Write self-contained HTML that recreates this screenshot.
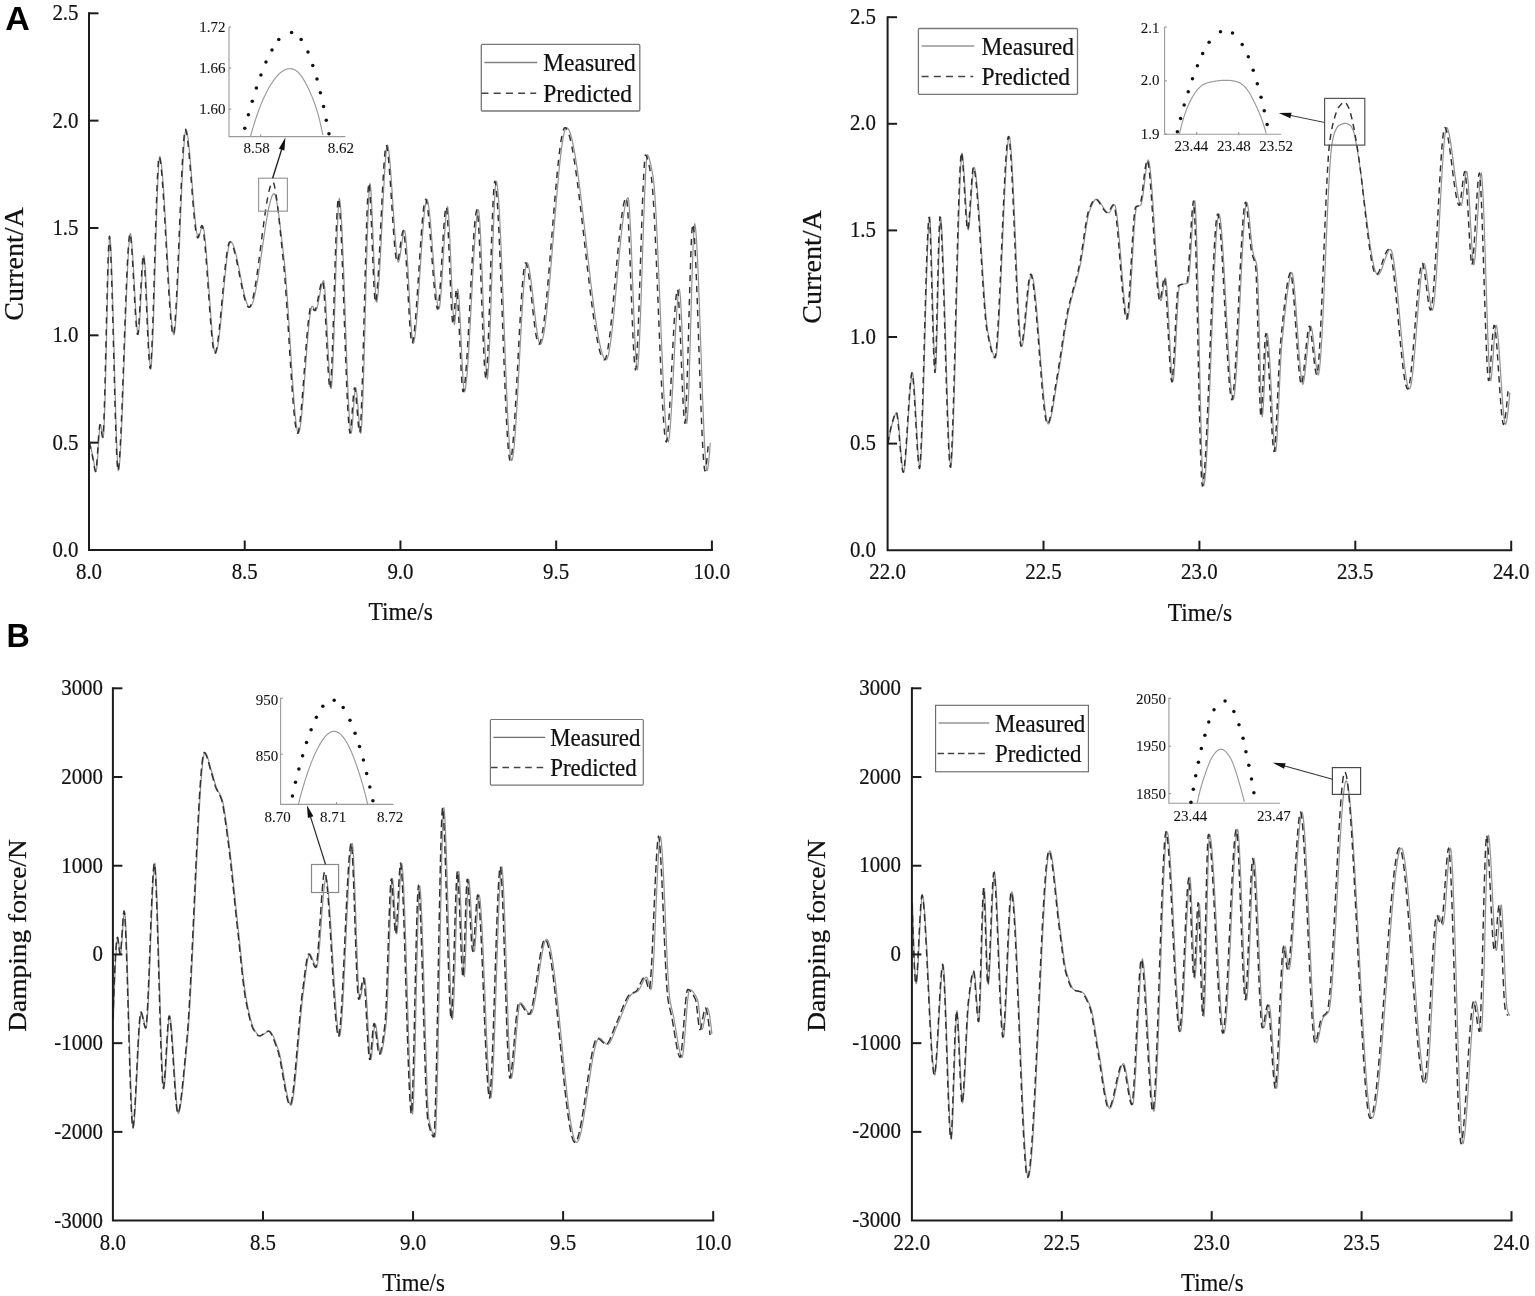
<!DOCTYPE html>
<html lang="en"><head><meta charset="utf-8"><title>Measured vs predicted current and damping force</title>
<style>
html,body{margin:0;padding:0;background:#fff;}
body{width:1535px;height:1296px;overflow:hidden;}
svg{display:block;font-family:"Liberation Serif", "Times New Roman", serif;}
</style></head><body>
<svg width="1535" height="1296" viewBox="0 0 1535 1296">
<rect width="1535" height="1296" fill="#fff"/>
<path d="M89.8,442.6 L90.3,444.8 L90.8,447.0 L91.3,449.3 L91.8,451.6 L92.3,453.8 L92.8,456.2 L93.3,458.7 L93.8,461.6 L94.3,464.7 L94.8,467.6 L95.3,470.0 L95.8,471.6 L96.3,471.5 L96.8,468.0 L97.3,462.4 L97.8,455.2 L98.3,447.4 L98.8,439.6 L99.3,432.7 L99.8,427.5 L100.3,424.7 L100.8,425.4 L101.3,427.8 L101.8,431.0 L102.3,434.2 L102.8,436.7 L103.3,437.5 L103.8,432.1 L104.3,421.7 L104.8,407.0 L105.3,389.2 L105.8,369.1 L106.3,347.6 L106.8,325.7 L107.3,304.2 L107.8,284.1 L108.3,266.4 L108.8,251.9 L109.3,241.5 L109.8,236.3 L110.3,239.5 L110.8,246.8 L111.3,257.2 L111.8,270.4 L112.3,285.8 L112.8,303.0 L113.3,321.5 L113.8,340.8 L114.3,360.4 L114.8,379.9 L115.3,398.7 L115.8,416.3 L116.3,432.4 L116.8,446.3 L117.3,457.6 L117.8,465.9 L118.3,470.6 L118.8,469.8 L119.3,466.2 L119.8,460.8 L120.3,453.5 L120.8,444.8 L121.3,434.6 L121.8,423.4 L122.3,411.1 L122.8,398.0 L123.3,384.4 L123.8,370.3 L124.3,356.0 L124.8,341.6 L125.3,327.4 L125.8,313.5 L126.3,300.1 L126.8,287.4 L127.3,275.5 L127.8,264.8 L128.3,255.3 L128.8,247.3 L129.3,240.8 L129.8,236.2 L130.3,233.6 L130.8,234.4 L131.3,237.8 L131.8,242.9 L132.3,249.4 L132.8,257.0 L133.3,265.6 L133.8,274.7 L134.3,284.1 L134.8,293.4 L135.3,302.6 L135.8,311.1 L136.3,318.8 L136.8,325.3 L137.3,330.4 L137.8,333.8 L138.3,334.6 L138.8,331.5 L139.3,325.9 L139.8,318.3 L140.3,309.4 L140.8,299.7 L141.3,289.8 L141.8,280.1 L142.3,271.3 L142.8,263.9 L143.3,258.4 L143.8,255.5 L144.3,257.1 L144.8,262.0 L145.3,269.1 L145.8,278.1 L146.3,288.5 L146.8,299.8 L147.3,311.6 L147.8,323.5 L148.3,334.9 L148.8,345.4 L149.3,354.5 L149.8,361.9 L150.3,367.0 L150.8,369.1 L151.3,365.6 L151.8,359.0 L152.3,349.7 L152.8,338.0 L153.3,324.5 L153.8,309.4 L154.3,293.3 L154.8,276.4 L155.3,259.2 L155.8,242.1 L156.3,225.4 L156.8,209.7 L157.3,195.2 L157.8,182.4 L158.3,171.7 L158.8,163.4 L159.3,158.0 L159.8,156.4 L160.3,157.6 L160.8,160.0 L161.3,163.5 L161.8,167.9 L162.3,173.2 L162.8,179.3 L163.3,186.1 L163.8,193.5 L164.3,201.4 L164.8,209.8 L165.3,218.5 L165.8,227.4 L166.3,236.6 L166.8,245.8 L167.3,255.0 L167.8,264.2 L168.3,273.1 L168.8,281.8 L169.3,290.2 L169.8,298.1 L170.3,305.4 L170.8,312.2 L171.3,318.2 L171.8,323.5 L172.3,327.9 L172.8,331.3 L173.3,333.6 L173.8,334.9 L174.3,333.9 L174.8,330.9 L175.3,326.2 L175.8,320.1 L176.3,312.5 L176.8,303.8 L177.3,294.1 L177.8,283.5 L178.3,272.2 L178.8,260.4 L179.3,248.3 L179.8,235.9 L180.3,223.4 L180.8,211.1 L181.3,199.0 L181.8,187.4 L182.3,176.4 L182.8,166.1 L183.3,156.8 L183.8,148.5 L184.3,141.5 L184.8,135.9 L185.3,131.8 L185.8,129.4 L186.3,129.6 L186.8,131.0 L187.3,133.4 L187.8,136.5 L188.3,140.3 L188.8,144.7 L189.3,149.6 L189.8,155.0 L190.3,160.7 L190.8,166.8 L191.3,173.0 L191.8,179.4 L192.3,185.9 L192.8,192.3 L193.3,198.6 L193.8,204.7 L194.3,210.5 L194.8,216.0 L195.3,221.1 L195.8,225.6 L196.3,229.6 L196.8,232.9 L197.3,235.4 L197.8,237.1 L198.3,237.9 L198.8,237.3 L199.3,236.0 L199.8,234.2 L200.3,232.2 L200.8,230.2 L201.3,228.3 L201.8,226.8 L202.3,225.8 L202.8,225.9 L203.3,227.2 L203.8,229.5 L204.3,232.7 L204.8,236.7 L205.3,241.4 L205.8,246.6 L206.3,252.4 L206.8,258.7 L207.3,265.3 L207.8,272.3 L208.3,279.4 L208.8,286.6 L209.3,293.9 L209.8,301.1 L210.3,308.2 L210.8,315.0 L211.3,321.6 L211.8,327.8 L212.3,333.5 L212.8,338.7 L213.3,343.2 L213.8,347.0 L214.3,350.1 L214.8,352.2 L215.3,353.4 L215.8,353.3 L216.3,352.4 L216.8,350.9 L217.3,348.7 L217.8,346.1 L218.3,342.9 L218.8,339.3 L219.3,335.3 L219.8,331.0 L220.3,326.3 L220.8,321.4 L221.3,316.3 L221.8,311.0 L222.3,305.6 L222.8,300.2 L223.3,294.7 L223.8,289.3 L224.3,283.9 L224.8,278.6 L225.3,273.5 L225.8,268.6 L226.3,264.0 L226.8,259.7 L227.3,255.7 L227.8,252.2 L228.3,249.1 L228.8,246.4 L229.3,244.4 L229.8,242.9 L230.3,242.0 L230.8,241.9 L231.3,242.1 L231.8,242.6 L232.3,243.3 L232.8,244.2 L233.3,245.3 L233.8,246.7 L234.3,248.2 L234.8,249.8 L235.3,251.7 L235.8,253.6 L236.3,255.7 L236.8,257.9 L237.3,260.2 L237.8,262.5 L238.3,265.0 L238.8,267.5 L239.3,270.0 L239.8,272.5 L240.3,275.1 L240.8,277.6 L241.3,280.2 L241.8,282.7 L242.3,285.2 L242.8,287.6 L243.3,289.9 L243.8,292.1 L244.3,294.3 L244.8,296.3 L245.3,298.2 L245.8,300.0 L246.3,301.6 L246.8,303.0 L247.3,304.3 L247.8,305.3 L248.3,306.2 L248.8,306.8 L249.3,307.2 L249.8,307.3 L250.3,307.2 L250.8,306.7 L251.3,306.0 L251.8,305.1 L252.3,303.9 L252.8,302.5 L253.3,300.9 L253.8,299.1 L254.3,297.1 L254.8,294.9 L255.3,292.5 L255.8,290.0 L256.3,287.3 L256.8,284.5 L257.3,281.6 L257.8,278.6 L258.3,275.4 L258.8,272.2 L259.3,268.9 L259.8,265.6 L260.3,262.1 L260.8,258.7 L261.3,255.2 L261.8,251.7 L262.3,248.2 L262.8,244.7 L263.3,241.3 L263.8,237.8 L264.3,234.4 L264.8,231.1 L265.3,227.8 L265.8,224.6 L266.3,221.5 L266.8,218.5 L267.3,215.6 L267.8,212.9 L268.3,210.2 L268.8,207.7 L269.3,205.4 L269.8,203.3 L270.3,201.3 L270.8,199.5 L271.3,198.0 L271.8,196.6 L272.3,195.5 L272.8,194.6 L273.3,194.0 L273.8,193.7 L274.3,193.7 L274.8,194.5 L275.3,195.8 L275.8,197.5 L276.3,199.6 L276.8,202.0 L277.3,204.8 L277.8,207.9 L278.3,211.3 L278.8,214.9 L279.3,218.7 L279.8,222.7 L280.3,226.8 L280.8,231.1 L281.3,235.4 L281.8,239.8 L282.3,244.2 L282.8,248.6 L283.3,252.9 L283.8,257.1 L284.3,261.4 L284.8,266.2 L285.3,271.6 L285.8,277.5 L286.3,283.9 L286.8,290.7 L287.3,297.9 L287.8,305.3 L288.3,313.1 L288.8,321.0 L289.3,329.0 L289.8,337.1 L290.3,345.2 L290.8,353.3 L291.3,361.4 L291.8,369.2 L292.3,376.9 L292.8,384.3 L293.3,391.5 L293.8,398.2 L294.3,404.5 L294.8,410.4 L295.3,415.7 L295.8,420.4 L296.3,424.5 L296.8,427.9 L297.3,430.6 L297.8,432.4 L298.3,433.4 L298.8,433.1 L299.3,431.7 L299.8,429.5 L300.3,426.5 L300.8,422.9 L301.3,418.6 L301.8,413.7 L302.3,408.4 L302.8,402.6 L303.3,396.5 L303.8,390.1 L304.3,383.5 L304.8,376.7 L305.3,369.9 L305.8,363.1 L306.3,356.4 L306.8,349.7 L307.3,343.3 L307.8,337.2 L308.3,331.4 L308.8,326.1 L309.3,321.2 L309.8,316.9 L310.3,313.2 L310.8,310.2 L311.3,307.9 L311.8,306.5 L312.3,306.1 L312.8,306.5 L313.3,307.3 L313.8,308.2 L314.3,309.2 L314.8,310.0 L315.3,310.6 L315.8,310.6 L316.3,309.8 L316.8,308.6 L317.3,306.9 L317.8,304.8 L318.3,302.5 L318.8,300.0 L319.3,297.3 L319.8,294.6 L320.3,291.9 L320.8,289.3 L321.3,286.9 L321.8,284.8 L322.3,283.0 L322.8,281.6 L323.3,280.7 L323.8,280.9 L324.3,283.8 L324.8,288.9 L325.3,295.8 L325.8,304.0 L326.3,313.3 L326.8,323.4 L327.3,333.8 L327.8,344.2 L328.3,354.4 L328.8,363.9 L329.3,372.4 L329.8,379.5 L330.3,384.9 L330.8,388.4 L331.3,388.2 L331.8,383.4 L332.3,375.7 L332.8,365.4 L333.3,353.0 L333.8,338.9 L334.3,323.6 L334.8,307.5 L335.3,291.0 L335.8,274.6 L336.3,258.7 L336.8,243.8 L337.3,230.2 L337.8,218.4 L338.3,208.9 L338.8,202.1 L339.3,198.4 L339.8,199.9 L340.3,203.8 L340.8,209.7 L341.3,217.3 L341.8,226.5 L342.3,237.1 L342.8,248.8 L343.3,261.4 L343.8,274.8 L344.3,288.8 L344.8,303.2 L345.3,317.7 L345.8,332.2 L346.3,346.5 L346.8,360.3 L347.3,373.5 L347.8,386.0 L348.3,397.4 L348.8,407.6 L349.3,416.4 L349.8,423.6 L350.3,429.0 L350.8,432.5 L351.3,433.0 L351.8,430.1 L352.3,425.1 L352.8,418.8 L353.3,411.8 L353.8,404.6 L354.3,398.0 L354.8,392.5 L355.3,388.7 L355.8,387.6 L356.3,389.7 L356.8,393.6 L357.3,398.7 L357.8,404.6 L358.3,411.0 L358.8,417.3 L359.3,423.2 L359.8,428.1 L360.3,431.7 L360.8,433.4 L361.3,430.2 L361.8,423.3 L362.3,413.3 L362.8,400.6 L363.3,385.8 L363.8,369.1 L364.3,351.1 L364.8,332.1 L365.3,312.6 L365.8,293.0 L366.3,273.7 L366.8,255.2 L367.3,237.8 L367.8,222.1 L368.3,208.4 L368.8,197.1 L369.3,188.8 L369.8,183.7 L370.3,184.1 L370.8,189.0 L371.3,196.6 L371.8,206.3 L372.3,217.7 L372.8,230.2 L373.3,243.2 L373.8,256.1 L374.3,268.6 L374.8,279.8 L375.3,289.5 L375.8,296.9 L376.3,301.6 L376.8,302.2 L377.3,299.7 L377.8,295.7 L378.3,290.3 L378.8,283.7 L379.3,276.1 L379.8,267.6 L380.3,258.3 L380.8,248.5 L381.3,238.3 L381.8,227.9 L382.3,217.4 L382.8,207.1 L383.3,196.9 L383.8,187.3 L384.3,178.1 L384.8,169.8 L385.3,162.4 L385.8,156.0 L386.3,150.9 L386.8,147.2 L387.3,145.0 L387.8,145.6 L388.3,147.8 L388.8,151.1 L389.3,155.4 L389.8,160.5 L390.3,166.4 L390.8,172.9 L391.3,179.8 L391.8,187.2 L392.3,194.8 L392.8,202.6 L393.3,210.3 L393.8,218.0 L394.3,225.4 L394.8,232.5 L395.3,239.1 L395.8,245.1 L396.3,250.4 L396.8,254.9 L397.3,258.5 L397.8,260.9 L398.3,262.2 L398.8,261.4 L399.3,259.7 L399.8,257.2 L400.3,254.3 L400.8,250.9 L401.3,247.4 L401.8,243.8 L402.3,240.3 L402.8,237.1 L403.3,234.3 L403.8,232.2 L404.3,230.8 L404.8,230.9 L405.3,233.5 L405.8,237.8 L406.3,243.5 L406.8,250.3 L407.3,258.2 L407.8,266.8 L408.3,275.9 L408.8,285.3 L409.3,294.8 L409.8,304.0 L410.3,312.8 L410.8,321.0 L411.3,328.2 L411.8,334.4 L412.3,339.2 L412.8,342.3 L413.3,343.5 L413.8,342.4 L414.3,340.3 L414.8,337.4 L415.3,333.6 L415.8,329.0 L416.3,323.8 L416.8,318.0 L417.3,311.7 L417.8,304.9 L418.3,297.8 L418.8,290.4 L419.3,282.9 L419.8,275.2 L420.3,267.4 L420.8,259.7 L421.3,252.1 L421.8,244.7 L422.3,237.6 L422.8,230.9 L423.3,224.5 L423.8,218.7 L424.3,213.5 L424.8,209.0 L425.3,205.2 L425.8,202.2 L426.3,200.2 L426.8,199.1 L427.3,199.6 L427.8,201.3 L428.3,203.9 L428.8,207.2 L429.3,211.3 L429.8,216.0 L430.3,221.2 L430.8,226.9 L431.3,232.9 L431.8,239.3 L432.3,245.8 L432.8,252.4 L433.3,259.1 L433.8,265.7 L434.3,272.2 L434.8,278.4 L435.3,284.2 L435.8,289.7 L436.3,294.7 L436.8,299.1 L437.3,302.8 L437.8,305.8 L438.3,307.9 L438.8,309.1 L439.3,308.3 L439.8,305.4 L440.3,301.1 L440.8,295.6 L441.3,289.0 L441.8,281.6 L442.3,273.6 L442.8,265.2 L443.3,256.6 L443.8,248.0 L444.3,239.7 L444.8,231.8 L445.3,224.6 L445.8,218.3 L446.3,213.0 L446.8,209.1 L447.3,206.7 L447.8,207.3 L448.3,211.6 L448.8,218.4 L449.3,227.3 L449.8,237.8 L450.3,249.4 L450.8,261.6 L451.3,274.0 L451.8,286.1 L452.3,297.3 L452.8,307.3 L453.3,315.5 L453.8,321.5 L454.3,324.7 L454.8,323.2 L455.3,318.4 L455.8,311.6 L456.3,304.1 L456.8,297.1 L457.3,291.7 L457.8,289.0 L458.3,291.2 L458.8,296.2 L459.3,303.4 L459.8,312.3 L460.3,322.4 L460.8,333.4 L461.3,344.6 L461.8,355.6 L462.3,366.0 L462.8,375.3 L463.3,383.0 L463.8,388.7 L464.3,391.8 L464.8,391.4 L465.3,389.5 L465.8,386.4 L466.3,382.3 L466.8,377.2 L467.3,371.2 L467.8,364.4 L468.3,357.0 L468.8,348.9 L469.3,340.4 L469.8,331.5 L470.3,322.2 L470.8,312.8 L471.3,303.2 L471.8,293.6 L472.3,284.1 L472.8,274.7 L473.3,265.6 L473.8,256.9 L474.3,248.6 L474.8,240.8 L475.3,233.7 L475.8,227.3 L476.3,221.8 L476.8,217.1 L477.3,213.5 L477.8,211.0 L478.3,209.7 L478.8,211.2 L479.3,215.7 L479.8,222.4 L480.3,231.0 L480.8,241.3 L481.3,252.9 L481.8,265.5 L482.3,278.8 L482.8,292.5 L483.3,306.2 L483.8,319.6 L484.3,332.4 L484.8,344.3 L485.3,355.0 L485.8,364.2 L486.3,371.5 L486.8,376.6 L487.3,379.2 L487.8,376.3 L488.3,370.4 L488.8,361.9 L489.3,351.3 L489.8,338.8 L490.3,324.9 L490.8,310.0 L491.3,294.3 L491.8,278.3 L492.3,262.4 L492.8,246.8 L493.3,232.1 L493.8,218.5 L494.3,206.4 L494.8,196.3 L495.3,188.3 L495.8,183.1 L496.3,181.1 L496.8,182.5 L497.3,185.5 L497.8,190.0 L498.3,195.8 L498.8,202.9 L499.3,211.1 L499.8,220.3 L500.3,230.5 L500.8,241.5 L501.3,253.1 L501.8,265.4 L502.3,278.1 L502.8,291.2 L503.3,304.5 L503.8,317.9 L504.3,331.4 L504.8,344.8 L505.3,358.0 L505.8,370.9 L506.3,383.4 L506.8,395.3 L507.3,406.6 L507.8,417.1 L508.3,426.7 L508.8,435.4 L509.3,443.0 L509.8,449.4 L510.3,454.4 L510.8,458.0 L511.3,460.1 L511.8,460.5 L512.3,459.4 L512.8,457.2 L513.3,454.0 L513.8,449.7 L514.3,444.7 L514.8,438.8 L515.3,432.2 L515.8,424.9 L516.3,417.1 L516.8,408.8 L517.3,400.1 L517.8,391.1 L518.3,381.8 L518.8,372.4 L519.3,362.8 L519.8,353.3 L520.3,343.8 L520.8,334.5 L521.3,325.4 L521.8,316.6 L522.3,308.2 L522.8,300.2 L523.3,292.9 L523.8,286.1 L524.3,280.0 L524.8,274.7 L525.3,270.3 L525.8,266.8 L526.3,264.3 L526.8,262.9 L527.3,262.8 L527.8,263.6 L528.3,265.0 L528.8,266.9 L529.3,269.3 L529.8,272.2 L530.3,275.4 L530.8,279.0 L531.3,282.8 L531.8,286.9 L532.3,291.2 L532.8,295.7 L533.3,300.2 L533.8,304.7 L534.3,309.2 L534.8,313.7 L535.3,318.1 L535.8,322.3 L536.3,326.3 L536.8,330.0 L537.3,333.4 L537.8,336.4 L538.3,339.1 L538.8,341.2 L539.3,342.9 L539.8,344.0 L540.3,344.4 L540.8,344.1 L541.3,343.4 L541.8,342.3 L542.3,340.7 L542.8,338.7 L543.3,336.4 L543.8,333.7 L544.3,330.6 L544.8,327.3 L545.3,323.6 L545.8,319.6 L546.3,315.4 L546.8,310.9 L547.3,306.2 L547.8,301.2 L548.3,296.1 L548.8,290.7 L549.3,285.2 L549.8,279.6 L550.3,273.8 L550.8,268.0 L551.3,262.0 L551.8,255.9 L552.3,249.8 L552.8,243.7 L553.3,237.5 L553.8,231.3 L554.3,225.2 L554.8,219.1 L555.3,213.0 L555.8,207.0 L556.3,201.0 L556.8,195.2 L557.3,189.5 L557.8,183.9 L558.3,178.5 L558.8,173.3 L559.3,168.3 L559.8,163.4 L560.3,158.8 L560.8,154.5 L561.3,150.4 L561.8,146.5 L562.3,143.0 L562.8,139.8 L563.3,136.9 L563.8,134.4 L564.3,132.3 L564.8,130.5 L565.3,129.2 L565.8,128.2 L566.3,127.7 L566.8,127.7 L567.3,127.9 L567.8,128.3 L568.3,128.9 L568.8,129.8 L569.3,130.8 L569.8,132.0 L570.3,133.4 L570.8,135.0 L571.3,136.8 L571.8,138.7 L572.3,140.8 L572.8,143.1 L573.3,145.5 L573.8,148.1 L574.3,150.8 L574.8,153.6 L575.3,156.6 L575.8,159.7 L576.3,162.9 L576.8,166.2 L577.3,169.6 L577.8,173.2 L578.3,176.8 L578.8,180.5 L579.3,184.3 L579.8,188.2 L580.3,192.2 L580.8,196.2 L581.3,200.3 L581.8,204.5 L582.3,208.7 L582.8,212.9 L583.3,217.2 L583.8,221.5 L584.3,225.9 L584.8,230.2 L585.3,234.6 L585.8,239.0 L586.3,243.4 L586.8,247.9 L587.3,252.3 L587.8,256.7 L588.3,261.0 L588.8,265.4 L589.3,269.7 L589.8,274.0 L590.3,278.2 L590.8,282.5 L591.3,286.6 L591.8,290.7 L592.3,294.8 L592.8,298.7 L593.3,302.6 L593.8,306.4 L594.3,310.2 L594.8,313.8 L595.3,317.4 L595.8,320.8 L596.3,324.2 L596.8,327.4 L597.3,330.5 L597.8,333.5 L598.3,336.3 L598.8,339.1 L599.3,341.6 L599.8,344.1 L600.3,346.4 L600.8,348.5 L601.3,350.4 L601.8,352.2 L602.3,353.9 L602.8,355.3 L603.3,356.5 L603.8,357.6 L604.3,358.5 L604.8,359.1 L605.3,359.6 L605.8,359.8 L606.3,359.8 L606.8,359.3 L607.3,358.4 L607.8,357.0 L608.3,355.2 L608.8,353.0 L609.3,350.5 L609.8,347.5 L610.3,344.3 L610.8,340.7 L611.3,336.8 L611.8,332.7 L612.3,328.4 L612.8,323.8 L613.3,319.0 L613.8,314.1 L614.3,309.0 L614.8,303.7 L615.3,298.4 L615.8,293.0 L616.3,287.5 L616.8,282.0 L617.3,276.5 L617.8,271.0 L618.3,265.5 L618.8,260.1 L619.3,254.7 L619.8,249.5 L620.3,244.4 L620.8,239.4 L621.3,234.6 L621.8,230.0 L622.3,225.6 L622.8,221.4 L623.3,217.5 L623.8,213.8 L624.3,210.5 L624.8,207.5 L625.3,204.9 L625.8,202.6 L626.3,200.7 L626.8,199.3 L627.3,198.3 L627.8,197.7 L628.3,198.2 L628.8,201.6 L629.3,207.3 L629.8,215.0 L630.3,224.4 L630.8,235.2 L631.3,247.1 L631.8,259.9 L632.3,273.1 L632.8,286.6 L633.3,300.0 L633.8,313.1 L634.3,325.5 L634.8,337.0 L635.3,347.3 L635.8,356.0 L636.3,362.9 L636.8,367.8 L637.3,370.0 L637.8,367.2 L638.3,361.8 L638.8,354.2 L639.3,344.6 L639.8,333.4 L640.3,320.8 L640.8,307.1 L641.3,292.5 L641.8,277.4 L642.3,262.0 L642.8,246.6 L643.3,231.6 L643.8,217.0 L644.3,203.4 L644.8,190.8 L645.3,179.7 L645.8,170.2 L646.3,162.7 L646.8,157.5 L647.3,154.8 L647.8,155.2 L648.3,156.1 L648.8,157.3 L649.3,158.8 L649.8,160.6 L650.3,162.6 L650.8,164.8 L651.3,167.2 L651.8,169.8 L652.3,172.4 L652.8,175.1 L653.3,178.1 L653.8,182.4 L654.3,187.9 L654.8,194.5 L655.3,202.1 L655.8,210.5 L656.3,219.8 L656.8,229.8 L657.3,240.5 L657.8,251.6 L658.3,263.2 L658.8,275.2 L659.3,287.3 L659.8,299.7 L660.3,312.1 L660.8,324.4 L661.3,336.7 L661.8,348.7 L662.3,360.4 L662.8,371.7 L663.3,382.4 L663.8,392.6 L664.3,402.1 L664.8,410.8 L665.3,418.7 L665.8,425.6 L666.3,431.4 L666.8,436.0 L667.3,439.4 L667.8,441.4 L668.3,441.8 L668.8,439.9 L669.3,436.6 L669.8,431.9 L670.3,426.0 L670.8,419.2 L671.3,411.4 L671.8,403.0 L672.3,394.0 L672.8,384.5 L673.3,374.8 L673.8,364.9 L674.3,355.0 L674.8,345.3 L675.3,335.9 L675.8,326.9 L676.3,318.5 L676.8,310.9 L677.3,304.2 L677.8,298.5 L678.3,293.9 L678.8,290.7 L679.3,289.0 L679.8,291.2 L680.3,296.4 L680.8,304.0 L681.3,313.4 L681.8,324.4 L682.3,336.5 L682.8,349.2 L683.3,362.2 L683.8,374.9 L684.3,387.1 L684.8,398.2 L685.3,407.8 L685.8,415.5 L686.3,420.9 L686.8,423.5 L687.3,419.7 L687.8,412.3 L688.3,401.8 L688.8,388.7 L689.3,373.5 L689.8,356.8 L690.3,339.1 L690.8,320.9 L691.3,302.8 L691.8,285.3 L692.3,269.0 L692.8,254.3 L693.3,241.8 L693.8,232.1 L694.3,225.6 L694.8,223.6 L695.3,226.1 L695.8,230.6 L696.3,237.0 L696.8,245.0 L697.3,254.4 L697.8,265.2 L698.3,277.0 L698.8,289.8 L699.3,303.3 L699.8,317.4 L700.3,331.8 L700.8,346.5 L701.3,361.1 L701.8,375.6 L702.3,389.7 L702.8,403.3 L703.3,416.1 L703.8,428.1 L704.3,439.0 L704.8,448.6 L705.3,456.7 L705.8,463.3 L706.3,468.0 L706.8,470.7 L707.3,470.5 L707.8,468.4 L708.3,465.1 L708.8,460.8 L709.3,455.5 L709.8,449.5 L710.3,442.7" fill="none" stroke="#929292" stroke-width="1.2" stroke-linejoin="round"/>
<path d="M89.4,442.6 L89.9,444.8 L90.4,447.0 L90.9,449.3 L91.4,451.6 L91.9,453.9 L92.4,456.2 L92.9,458.7 L93.4,461.7 L93.9,464.8 L94.4,467.7 L94.9,470.1 L95.4,471.6 L95.9,471.4 L96.4,467.9 L96.9,462.1 L97.4,454.9 L97.9,447.0 L98.4,439.3 L98.9,432.4 L99.4,427.3 L99.9,424.7 L100.4,425.5 L100.9,428.0 L101.4,431.2 L101.9,434.4 L102.4,436.8 L102.9,437.3 L103.4,431.5 L103.9,420.7 L104.4,405.8 L104.9,387.7 L105.4,367.4 L105.9,345.8 L106.4,323.8 L106.9,302.3 L107.4,282.4 L107.9,264.9 L108.4,250.7 L108.9,240.8 L109.4,236.2 L109.9,240.1 L110.4,247.7 L110.9,258.5 L111.4,272.0 L111.9,287.7 L112.4,305.2 L112.9,323.8 L113.4,343.2 L113.9,362.9 L114.4,382.3 L114.9,401.1 L115.4,418.6 L115.9,434.4 L116.4,448.0 L116.9,459.0 L117.4,466.8 L117.9,471.0 L118.4,469.4 L118.9,465.5 L119.4,459.7 L119.9,452.2 L120.4,443.2 L120.9,432.9 L121.4,421.4 L121.9,409.0 L122.4,395.8 L122.9,382.0 L123.4,367.8 L123.9,353.4 L124.4,339.0 L124.9,324.8 L125.4,311.0 L125.9,297.6 L126.4,285.1 L126.9,273.4 L127.4,262.9 L127.9,253.6 L128.4,245.9 L128.9,239.8 L129.4,235.5 L129.9,233.4 L130.4,235.0 L130.9,238.7 L131.4,244.1 L131.9,250.9 L132.4,258.8 L132.9,267.5 L133.4,276.8 L133.9,286.2 L134.4,295.6 L134.9,304.6 L135.4,313.0 L135.9,320.5 L136.4,326.7 L136.9,331.4 L137.4,334.3 L137.9,334.1 L138.4,330.3 L138.9,324.1 L139.4,316.2 L139.9,307.0 L140.4,297.1 L140.9,287.1 L141.4,277.6 L141.9,269.1 L142.4,262.2 L142.9,257.3 L143.4,255.4 L143.9,258.2 L144.4,263.8 L144.9,271.5 L145.4,280.9 L145.9,291.7 L146.4,303.2 L146.9,315.1 L147.4,326.9 L147.9,338.1 L148.4,348.3 L148.9,357.0 L149.4,363.7 L149.9,368.0 L150.4,368.4 L150.9,363.8 L151.4,356.3 L151.9,346.2 L152.4,333.8 L152.9,319.7 L153.4,304.2 L153.9,287.7 L154.4,270.7 L154.9,253.4 L155.4,236.4 L155.9,219.9 L156.4,204.5 L156.9,190.6 L157.4,178.4 L157.9,168.5 L158.4,161.1 L158.9,156.9 L159.4,156.7 L159.9,158.4 L160.4,161.2 L160.9,165.0 L161.4,169.8 L161.9,175.4 L162.4,181.8 L162.9,188.8 L163.4,196.5 L163.9,204.6 L164.4,213.1 L164.9,221.9 L165.4,231.0 L165.9,240.2 L166.4,249.5 L166.9,258.7 L167.4,267.8 L167.9,276.7 L168.4,285.2 L168.9,293.4 L169.4,301.1 L169.9,308.3 L170.4,314.8 L170.9,320.5 L171.4,325.4 L171.9,329.4 L172.4,332.4 L172.9,334.3 L173.4,334.9 L173.9,332.8 L174.4,329.1 L174.9,323.7 L175.4,316.9 L175.9,308.8 L176.4,299.6 L176.9,289.4 L177.4,278.5 L177.9,266.9 L178.4,254.9 L178.9,242.6 L179.4,230.1 L179.9,217.7 L180.4,205.4 L180.9,193.5 L181.4,182.1 L181.9,171.4 L182.4,161.6 L182.9,152.7 L183.4,145.0 L183.9,138.6 L184.4,133.7 L184.9,130.4 L185.4,129.2 L185.9,130.2 L186.4,132.1 L186.9,134.8 L187.4,138.3 L187.9,142.4 L188.4,147.1 L188.9,152.3 L189.4,157.9 L189.9,163.8 L190.4,170.0 L190.9,176.4 L191.4,182.8 L191.9,189.2 L192.4,195.6 L192.9,201.8 L193.4,207.8 L193.9,213.5 L194.4,218.8 L194.9,223.6 L195.4,227.9 L195.9,231.5 L196.4,234.4 L196.9,236.5 L197.4,237.7 L197.9,237.7 L198.4,236.6 L198.9,235.0 L199.4,233.1 L199.9,231.1 L200.4,229.1 L200.9,227.4 L201.4,226.1 L201.9,225.6 L202.4,226.5 L202.9,228.5 L203.4,231.3 L203.9,235.0 L204.4,239.4 L204.9,244.4 L205.4,250.0 L205.9,256.2 L206.4,262.7 L206.9,269.5 L207.4,276.6 L207.9,283.8 L208.4,291.0 L208.9,298.3 L209.4,305.5 L209.9,312.4 L210.4,319.2 L210.9,325.5 L211.4,331.4 L211.9,336.8 L212.4,341.6 L212.9,345.7 L213.4,349.1 L213.9,351.5 L214.4,353.1 L214.9,353.5 L215.4,352.8 L215.9,351.5 L216.4,349.5 L216.9,347.0 L217.4,344.0 L217.9,340.6 L218.4,336.7 L218.9,332.5 L219.4,327.9 L219.9,323.1 L220.4,318.0 L220.9,312.8 L221.4,307.4 L221.9,301.9 L222.4,296.4 L222.9,291.0 L223.4,285.5 L223.9,280.2 L224.4,275.1 L224.9,270.1 L225.4,265.4 L225.9,261.0 L226.4,256.9 L226.9,253.2 L227.4,249.9 L227.9,247.2 L228.4,244.9 L228.9,243.2 L229.4,242.2 L229.9,241.8 L230.4,242.0 L230.9,242.4 L231.4,243.1 L231.9,243.9 L232.4,245.0 L232.9,246.3 L233.4,247.8 L233.9,249.4 L234.4,251.2 L234.9,253.1 L235.4,255.2 L235.9,257.3 L236.4,259.6 L236.9,262.0 L237.4,264.4 L237.9,266.9 L238.4,269.4 L238.9,271.9 L239.4,274.5 L239.9,277.1 L240.4,279.6 L240.9,282.1 L241.4,284.6 L241.9,287.0 L242.4,289.4 L242.9,291.7 L243.4,293.9 L243.9,295.9 L244.4,297.8 L244.9,299.6 L245.4,301.3 L245.9,302.8 L246.4,304.1 L246.9,305.2 L247.4,306.0 L247.9,306.7 L248.4,307.1 L248.9,307.3 L249.4,307.2 L249.9,306.8 L250.4,306.0 L250.9,305.0 L251.4,303.7 L251.9,302.2 L252.4,300.4 L252.9,298.3 L253.4,296.1 L253.9,293.6 L254.4,291.0 L254.9,288.1 L255.4,285.1 L255.9,282.0 L256.4,278.7 L256.9,275.3 L257.4,271.8 L257.9,268.1 L258.4,264.4 L258.9,260.7 L259.4,256.8 L259.9,252.9 L260.4,249.0 L260.9,245.1 L261.4,241.2 L261.9,237.3 L262.4,233.4 L262.9,229.6 L263.4,225.8 L263.9,222.1 L264.4,218.4 L264.9,214.9 L265.4,211.4 L265.9,208.1 L266.4,204.9 L266.9,201.9 L267.4,199.0 L267.9,196.3 L268.4,193.8 L268.9,191.4 L269.4,189.4 L269.9,187.5 L270.4,185.9 L270.9,184.5 L271.4,183.4 L271.9,182.6 L272.4,182.1 L272.9,181.9 L273.4,182.6 L273.9,183.8 L274.4,185.6 L274.9,187.8 L275.4,190.4 L275.9,193.5 L276.4,196.9 L276.9,200.6 L277.4,204.6 L277.9,208.8 L278.4,213.3 L278.9,217.9 L279.4,222.7 L279.9,227.6 L280.4,232.5 L280.9,237.5 L281.4,242.4 L281.9,247.3 L282.4,252.1 L282.9,256.8 L283.4,261.5 L283.9,266.6 L284.4,272.3 L284.9,278.5 L285.4,285.1 L285.9,292.1 L286.4,299.4 L286.9,306.9 L287.4,314.7 L287.9,322.6 L288.4,330.7 L288.9,338.8 L289.4,346.9 L289.9,355.0 L290.4,362.9 L290.9,370.7 L291.4,378.3 L291.9,385.6 L292.4,392.6 L292.9,399.2 L293.4,405.4 L293.9,411.1 L294.4,416.3 L294.9,421.0 L295.4,424.9 L295.9,428.2 L296.4,430.8 L296.9,432.5 L297.4,433.4 L297.9,433.0 L298.4,431.6 L298.9,429.3 L299.4,426.3 L299.9,422.5 L300.4,418.2 L300.9,413.3 L301.4,407.9 L301.9,402.0 L302.4,395.9 L302.9,389.5 L303.4,382.8 L303.9,376.0 L304.4,369.2 L304.9,362.4 L305.4,355.6 L305.9,349.0 L306.4,342.6 L306.9,336.5 L307.4,330.8 L307.9,325.5 L308.4,320.6 L308.9,316.4 L309.4,312.8 L309.9,309.8 L310.4,307.7 L310.9,306.4 L311.4,306.1 L311.9,306.6 L312.4,307.4 L312.9,308.4 L313.4,309.3 L313.9,310.1 L314.4,310.6 L314.9,310.5 L315.4,309.7 L315.9,308.3 L316.4,306.6 L316.9,304.5 L317.4,302.1 L317.9,299.5 L318.4,296.8 L318.9,294.1 L319.4,291.4 L319.9,288.9 L320.4,286.5 L320.9,284.4 L321.4,282.7 L321.9,281.4 L322.4,280.6 L322.9,281.3 L323.4,284.7 L323.9,290.2 L324.4,297.4 L324.9,305.9 L325.4,315.4 L325.9,325.6 L326.4,336.1 L326.9,346.5 L327.4,356.6 L327.9,365.9 L328.4,374.1 L328.9,380.9 L329.4,385.9 L329.9,388.8 L330.4,387.3 L330.9,381.8 L331.4,373.4 L331.9,362.5 L332.4,349.6 L332.9,335.2 L333.4,319.6 L333.9,303.3 L334.4,286.8 L334.9,270.4 L335.4,254.7 L335.9,240.0 L336.4,226.8 L336.9,215.6 L337.4,206.8 L337.9,200.8 L338.4,198.3 L338.9,200.8 L339.4,205.3 L339.9,211.7 L340.4,219.9 L340.9,229.5 L341.4,240.4 L341.9,252.4 L342.4,265.4 L342.9,279.0 L343.4,293.2 L343.9,307.6 L344.4,322.2 L344.9,336.7 L345.4,350.9 L345.9,364.6 L346.4,377.6 L346.9,389.8 L347.4,400.8 L347.9,410.6 L348.4,419.0 L348.9,425.6 L349.4,430.4 L349.9,433.1 L350.4,432.3 L350.9,428.6 L351.4,423.1 L351.9,416.4 L352.4,409.3 L352.9,402.2 L353.4,395.9 L353.9,390.9 L354.4,387.9 L354.9,388.2 L355.4,391.0 L355.9,395.3 L356.4,400.8 L356.9,407.0 L357.4,413.4 L357.9,419.6 L358.4,425.2 L358.9,429.6 L359.4,432.6 L359.9,432.7 L360.4,427.9 L360.9,419.7 L361.4,408.6 L361.9,394.9 L362.4,379.3 L362.9,361.9 L363.4,343.4 L363.9,324.1 L364.4,304.5 L364.9,284.9 L365.4,265.8 L365.9,247.7 L366.4,230.9 L366.9,216.0 L367.4,203.2 L367.9,193.1 L368.4,186.2 L368.9,182.8 L369.4,185.9 L369.9,192.0 L370.4,200.7 L370.9,211.2 L371.4,223.2 L371.9,236.0 L372.4,249.1 L372.9,261.9 L373.4,273.9 L373.9,284.5 L374.4,293.2 L374.9,299.4 L375.4,302.6 L375.9,301.2 L376.4,298.0 L376.9,293.3 L377.4,287.3 L377.9,280.2 L378.4,272.0 L378.9,263.1 L379.4,253.6 L379.9,243.5 L380.4,233.2 L380.9,222.7 L381.4,212.2 L381.9,201.9 L382.4,192.0 L382.9,182.6 L383.4,173.8 L383.9,165.9 L384.4,158.9 L384.9,153.2 L385.4,148.8 L385.9,145.9 L386.4,145.0 L386.9,146.6 L387.4,149.4 L387.9,153.3 L388.4,158.0 L388.9,163.6 L389.4,169.8 L389.9,176.6 L390.4,183.8 L390.9,191.3 L391.4,199.1 L391.9,206.9 L392.4,214.6 L392.9,222.2 L393.4,229.4 L393.9,236.3 L394.4,242.6 L394.9,248.2 L395.4,253.1 L395.9,257.1 L396.4,260.0 L396.9,261.8 L397.4,261.8 L397.9,260.5 L398.4,258.3 L398.9,255.6 L399.4,252.3 L399.9,248.8 L400.4,245.2 L400.9,241.6 L401.4,238.3 L401.9,235.3 L402.4,232.9 L402.9,231.2 L403.4,230.4 L403.9,232.3 L404.4,236.0 L404.9,241.1 L405.4,247.6 L405.9,255.2 L406.4,263.6 L406.9,272.5 L407.4,281.9 L407.9,291.3 L408.4,300.7 L408.9,309.7 L409.4,318.2 L409.9,325.8 L410.4,332.4 L410.9,337.7 L411.4,341.4 L411.9,343.5 L412.4,342.9 L412.9,341.1 L413.4,338.5 L413.9,334.9 L414.4,330.6 L414.9,325.6 L415.4,320.0 L415.9,313.8 L416.4,307.1 L416.9,300.1 L417.4,292.8 L417.9,285.2 L418.4,277.5 L418.9,269.8 L419.4,262.0 L419.9,254.4 L420.4,246.9 L420.9,239.7 L421.4,232.8 L421.9,226.4 L422.4,220.4 L422.9,215.0 L423.4,210.2 L423.9,206.2 L424.4,203.0 L424.9,200.7 L425.4,199.3 L425.9,199.4 L426.4,200.8 L426.9,203.1 L427.4,206.3 L427.9,210.2 L428.4,214.7 L428.9,219.8 L429.4,225.4 L429.9,231.4 L430.4,237.7 L430.9,244.2 L431.4,250.8 L431.9,257.5 L432.4,264.1 L432.9,270.6 L433.4,276.9 L433.9,282.9 L434.4,288.5 L434.9,293.6 L435.4,298.2 L435.9,302.1 L436.4,305.2 L436.9,307.6 L437.4,309.0 L437.9,308.7 L438.4,306.1 L438.9,302.1 L439.4,296.8 L439.9,290.4 L440.4,283.1 L440.9,275.2 L441.4,266.8 L441.9,258.2 L442.4,249.6 L442.9,241.2 L443.4,233.2 L443.9,225.8 L444.4,219.3 L444.9,213.9 L445.4,209.7 L445.9,207.0 L446.4,206.8 L446.9,210.7 L447.4,217.1 L447.9,225.8 L448.4,236.1 L448.9,247.6 L449.4,259.8 L449.9,272.2 L450.4,284.4 L450.9,295.8 L451.4,306.0 L451.9,314.5 L452.4,320.8 L452.9,324.5 L453.4,323.7 L453.9,319.1 L454.4,312.5 L454.9,305.1 L455.4,297.9 L455.9,292.2 L456.4,289.1 L456.9,290.8 L457.4,295.6 L457.9,302.5 L458.4,311.3 L458.9,321.4 L459.4,332.2 L459.9,343.5 L460.4,354.6 L460.9,365.1 L461.4,374.5 L461.9,382.4 L462.4,388.3 L462.9,391.6 L463.4,391.5 L463.9,389.7 L464.4,386.7 L464.9,382.6 L465.4,377.5 L465.9,371.6 L466.4,364.9 L466.9,357.4 L467.4,349.4 L467.9,340.9 L468.4,331.9 L468.9,322.7 L469.4,313.2 L469.9,303.6 L470.4,294.0 L470.9,284.5 L471.4,275.1 L471.9,265.9 L472.4,257.2 L472.9,248.8 L473.4,241.0 L473.9,233.9 L474.4,227.5 L474.9,221.9 L475.4,217.2 L475.9,213.6 L476.4,211.0 L476.9,209.7 L477.4,211.2 L477.9,215.6 L478.4,222.4 L478.9,231.1 L479.4,241.4 L479.9,253.0 L480.4,265.7 L480.9,279.0 L481.4,292.7 L481.9,306.4 L482.4,319.8 L482.9,332.7 L483.4,344.6 L483.9,355.3 L484.4,364.4 L484.9,371.7 L485.4,376.7 L485.9,379.2 L486.4,376.1 L486.9,370.1 L487.4,361.5 L487.9,350.7 L488.4,338.2 L488.9,324.2 L489.4,309.1 L489.9,293.4 L490.4,277.4 L490.9,261.4 L491.4,245.9 L491.9,231.1 L492.4,217.6 L492.9,205.6 L493.4,195.6 L493.9,187.8 L494.4,182.8 L494.9,181.2 L495.4,182.7 L495.9,185.9 L496.4,190.5 L496.9,196.4 L497.4,203.6 L497.9,212.0 L498.4,221.3 L498.9,231.6 L499.4,242.7 L499.9,254.4 L500.4,266.8 L500.9,279.6 L501.4,292.7 L501.9,306.1 L502.4,319.6 L502.9,333.1 L503.4,346.5 L503.9,359.7 L504.4,372.5 L504.9,385.0 L505.4,396.8 L505.9,408.1 L506.4,418.5 L506.9,428.0 L507.4,436.6 L507.9,444.0 L508.4,450.2 L508.9,455.0 L509.4,458.5 L509.9,460.3 L510.4,460.4 L510.9,459.1 L511.4,456.7 L511.9,453.3 L512.4,448.9 L512.9,443.7 L513.4,437.6 L513.9,430.9 L514.4,423.5 L514.9,415.6 L515.4,407.2 L515.9,398.4 L516.4,389.3 L516.9,380.0 L517.4,370.5 L517.9,360.9 L518.4,351.3 L518.9,341.9 L519.4,332.6 L519.9,323.5 L520.4,314.8 L520.9,306.4 L521.4,298.6 L521.9,291.3 L522.4,284.7 L522.9,278.8 L523.4,273.6 L523.9,269.4 L524.4,266.1 L524.9,263.9 L525.4,262.8 L525.9,263.0 L526.4,263.9 L526.9,265.4 L527.4,267.5 L527.9,270.0 L528.4,273.0 L528.9,276.3 L529.4,280.0 L529.9,283.9 L530.4,288.1 L530.9,292.4 L531.4,296.9 L531.9,301.4 L532.4,306.0 L532.9,310.5 L533.4,315.0 L533.9,319.3 L534.4,323.4 L534.9,327.4 L535.4,331.0 L535.9,334.3 L536.4,337.2 L536.9,339.7 L537.4,341.8 L537.9,343.3 L538.4,344.2 L538.9,344.4 L539.4,344.0 L539.9,343.1 L540.4,341.8 L540.9,340.1 L541.4,338.0 L541.9,335.5 L542.4,332.7 L542.9,329.6 L543.4,326.1 L543.9,322.3 L544.4,318.2 L544.9,313.9 L545.4,309.3 L545.9,304.5 L546.4,299.4 L546.9,294.2 L547.4,288.8 L547.9,283.3 L548.4,277.6 L548.9,271.7 L549.4,265.8 L549.9,259.8 L550.4,253.7 L550.9,247.6 L551.4,241.4 L551.9,235.2 L552.4,229.0 L552.9,222.8 L553.4,216.7 L553.9,210.6 L554.4,204.7 L554.9,198.7 L555.4,193.0 L555.9,187.3 L556.4,181.8 L556.9,176.4 L557.4,171.2 L557.9,166.3 L558.4,161.5 L558.9,157.0 L559.4,152.7 L559.9,148.7 L560.4,145.0 L560.9,141.6 L561.4,138.5 L561.9,135.8 L562.4,133.4 L562.9,131.5 L563.4,129.9 L563.9,128.7 L564.4,128.0 L564.9,127.7 L565.4,127.7 L565.9,128.0 L566.4,128.6 L566.9,129.3 L567.4,130.2 L567.9,131.3 L568.4,132.6 L568.9,134.1 L569.4,135.8 L569.9,137.7 L570.4,139.7 L570.9,141.9 L571.4,144.2 L571.9,146.7 L572.4,149.4 L572.9,152.1 L573.4,155.0 L573.9,158.1 L574.4,161.2 L574.9,164.5 L575.4,167.9 L575.9,171.4 L576.4,175.0 L576.9,178.7 L577.4,182.5 L577.9,186.3 L578.4,190.3 L578.9,194.3 L579.4,198.3 L579.9,202.5 L580.4,206.7 L580.9,210.9 L581.4,215.2 L581.9,219.5 L582.4,223.8 L582.9,228.2 L583.4,232.6 L583.9,237.0 L584.4,241.4 L584.9,245.9 L585.4,250.3 L585.9,254.7 L586.4,259.1 L586.9,263.4 L587.4,267.8 L587.9,272.1 L588.4,276.4 L588.9,280.6 L589.4,284.8 L589.9,289.0 L590.4,293.0 L590.9,297.1 L591.4,301.0 L591.9,304.9 L592.4,308.6 L592.9,312.3 L593.4,315.9 L593.9,319.4 L594.4,322.8 L594.9,326.1 L595.4,329.3 L595.9,332.3 L596.4,335.2 L596.9,338.0 L597.4,340.7 L597.9,343.2 L598.4,345.5 L598.9,347.7 L599.4,349.7 L599.9,351.6 L600.4,353.3 L600.9,354.8 L601.4,356.1 L601.9,357.2 L602.4,358.2 L602.9,358.9 L603.4,359.4 L603.9,359.7 L604.4,359.8 L604.9,359.5 L605.4,358.8 L605.9,357.5 L606.4,355.9 L606.9,353.8 L607.4,351.4 L607.9,348.6 L608.4,345.4 L608.9,341.9 L609.4,338.1 L609.9,334.1 L610.4,329.8 L610.9,325.3 L611.4,320.6 L611.9,315.6 L612.4,310.6 L612.9,305.4 L613.4,300.1 L613.9,294.7 L614.4,289.2 L614.9,283.7 L615.4,278.1 L615.9,272.6 L616.4,267.1 L616.9,261.7 L617.4,256.3 L617.9,251.0 L618.4,245.8 L618.9,240.8 L619.4,235.9 L619.9,231.2 L620.4,226.7 L620.9,222.5 L621.4,218.5 L621.9,214.8 L622.4,211.4 L622.9,208.3 L623.4,205.5 L623.9,203.1 L624.4,201.2 L624.9,199.6 L625.4,198.5 L625.9,197.8 L626.4,197.8 L626.9,200.6 L627.4,205.8 L627.9,213.1 L628.4,222.1 L628.9,232.6 L629.4,244.4 L629.9,257.0 L630.4,270.2 L630.9,283.7 L631.4,297.2 L631.9,310.4 L632.4,323.0 L632.9,334.7 L633.4,345.3 L633.9,354.4 L634.4,361.7 L634.9,367.0 L635.4,369.9 L635.9,367.9 L636.4,363.0 L636.9,355.8 L637.4,346.5 L637.9,335.6 L638.4,323.1 L638.9,309.6 L639.4,295.1 L639.9,280.0 L640.4,264.6 L640.9,249.2 L641.4,234.0 L641.9,219.3 L642.4,205.5 L642.9,192.7 L643.4,181.3 L643.9,171.5 L644.4,163.7 L644.9,158.1 L645.4,155.0 L645.9,155.1 L646.4,155.9 L646.9,157.1 L647.4,158.6 L647.9,160.3 L648.4,162.3 L648.9,164.5 L649.4,166.9 L649.9,169.5 L650.4,172.1 L650.9,174.7 L651.4,177.7 L651.9,181.9 L652.4,187.3 L652.9,193.7 L653.4,201.2 L653.9,209.7 L654.4,218.9 L654.9,228.9 L655.4,239.5 L655.9,250.6 L656.4,262.2 L656.9,274.1 L657.4,286.3 L657.9,298.7 L658.4,311.1 L658.9,323.5 L659.4,335.8 L659.9,347.8 L660.4,359.6 L660.9,370.9 L661.4,381.8 L661.9,392.0 L662.4,401.6 L662.9,410.4 L663.4,418.3 L663.9,425.2 L664.4,431.1 L664.9,435.8 L665.4,439.3 L665.9,441.4 L666.4,441.9 L666.9,440.0 L667.4,436.7 L667.9,432.0 L668.4,426.2 L668.9,419.3 L669.4,411.6 L669.9,403.1 L670.4,394.1 L670.9,384.6 L671.4,374.8 L671.9,364.9 L672.4,355.0 L672.9,345.3 L673.4,335.9 L673.9,326.9 L674.4,318.5 L674.9,310.8 L675.4,304.1 L675.9,298.4 L676.4,293.9 L676.9,290.7 L677.4,289.0 L677.9,291.3 L678.4,296.6 L678.9,304.2 L679.4,313.8 L679.9,324.8 L680.4,337.0 L680.9,349.7 L681.4,362.7 L681.9,375.5 L682.4,387.6 L682.9,398.7 L683.4,408.2 L683.9,415.8 L684.4,421.1 L684.9,423.3 L685.4,419.4 L685.9,411.7 L686.4,401.0 L686.9,387.7 L687.4,372.3 L687.9,355.5 L688.4,337.7 L688.9,319.4 L689.4,301.3 L689.9,283.9 L690.4,267.6 L690.9,253.1 L691.4,240.8 L691.9,231.3 L692.4,225.2 L692.9,223.7 L693.4,226.5 L693.9,231.2 L694.4,237.8 L694.9,245.9 L695.4,255.6 L695.9,266.5 L696.4,278.5 L696.9,291.4 L697.4,305.0 L697.9,319.2 L698.4,333.7 L698.9,348.4 L699.4,363.1 L699.9,377.5 L700.4,391.6 L700.9,405.1 L701.4,417.9 L701.9,429.7 L702.4,440.5 L702.9,449.9 L703.4,457.8 L703.9,464.1 L704.4,468.6 L704.9,470.9 L705.4,470.3 L705.9,468.0 L706.4,464.5 L706.9,459.9 L707.4,454.5 L707.9,448.3 L708.4,441.5" fill="none" stroke="#303030" stroke-width="1.45" stroke-dasharray="6.3 5.7" stroke-linejoin="round"/>
<path d="M888.3,443.2 L888.8,440.3 L889.3,437.5 L889.8,434.9 L890.3,432.4 L890.8,430.0 L891.3,427.7 L891.8,425.6 L892.3,423.7 L892.8,422.0 L893.3,420.3 L893.8,418.7 L894.3,417.1 L894.8,415.6 L895.3,414.3 L895.8,413.3 L896.3,412.6 L896.8,412.4 L897.3,413.9 L897.8,416.8 L898.3,420.9 L898.8,425.9 L899.3,431.6 L899.8,437.7 L900.3,444.0 L900.8,450.2 L901.3,456.1 L901.8,461.5 L902.3,466.1 L902.8,469.6 L903.3,471.9 L903.8,472.2 L904.3,470.1 L904.8,466.6 L905.3,461.9 L905.8,456.1 L906.3,449.5 L906.8,442.3 L907.3,434.6 L907.8,426.6 L908.3,418.5 L908.8,410.5 L909.3,402.8 L909.8,395.6 L910.3,389.0 L910.8,383.3 L911.3,378.6 L911.8,375.1 L912.3,373.0 L912.8,373.6 L913.3,376.8 L913.8,381.7 L914.3,388.1 L914.8,395.7 L915.3,404.2 L915.8,413.1 L916.3,422.4 L916.8,431.5 L917.3,440.3 L917.8,448.5 L918.3,455.7 L918.8,461.6 L919.3,465.9 L919.8,468.3 L920.3,466.4 L920.8,460.6 L921.3,452.1 L921.8,441.0 L922.3,427.7 L922.8,412.7 L923.3,396.3 L923.8,378.8 L924.3,360.6 L924.8,342.0 L925.3,323.5 L925.8,305.3 L926.3,287.8 L926.8,271.4 L927.3,256.5 L927.8,243.3 L928.3,232.3 L928.8,223.8 L929.3,218.2 L929.8,216.9 L930.3,223.2 L930.8,234.4 L931.3,249.2 L931.8,266.8 L932.3,285.9 L932.8,305.4 L933.3,324.4 L933.8,341.7 L934.3,356.1 L934.8,366.7 L935.3,372.3 L935.8,368.5 L936.3,357.6 L936.8,341.7 L937.3,322.5 L937.8,301.2 L938.3,279.5 L938.8,258.8 L939.3,240.7 L939.8,226.5 L940.3,217.9 L940.8,217.4 L941.3,222.1 L941.8,229.3 L942.3,238.9 L942.8,250.5 L943.3,263.9 L943.8,278.6 L944.3,294.5 L944.8,311.3 L945.3,328.5 L945.8,346.0 L946.3,363.5 L946.8,380.5 L947.3,396.9 L947.8,412.3 L948.3,426.5 L948.8,439.0 L949.3,449.7 L949.8,458.3 L950.3,464.3 L950.8,467.6 L951.3,464.9 L951.8,458.8 L952.3,449.9 L952.8,438.6 L953.3,425.0 L953.8,409.6 L954.3,392.6 L954.8,374.3 L955.3,355.1 L955.8,335.2 L956.3,314.9 L956.8,294.5 L957.3,274.4 L957.8,254.7 L958.3,236.0 L958.8,218.4 L959.3,202.2 L959.8,187.7 L960.3,175.3 L960.8,165.3 L961.3,157.8 L961.8,153.4 L962.3,153.4 L962.8,156.8 L963.3,162.1 L963.8,168.9 L964.3,176.7 L964.8,185.3 L965.3,194.1 L965.8,202.8 L966.3,211.0 L966.8,218.2 L967.3,224.1 L967.8,228.3 L968.3,230.2 L968.8,228.3 L969.3,224.3 L969.8,218.7 L970.3,211.8 L970.8,204.3 L971.3,196.4 L971.8,188.6 L972.3,181.4 L972.8,175.2 L973.3,170.5 L973.8,167.6 L974.3,167.4 L974.8,168.8 L975.3,171.2 L975.8,174.4 L976.3,178.5 L976.8,183.2 L977.3,188.7 L977.8,194.7 L978.3,201.3 L978.8,208.3 L979.3,215.7 L979.8,223.4 L980.3,231.4 L980.8,239.5 L981.3,247.7 L981.8,256.0 L982.3,264.2 L982.8,272.3 L983.3,280.2 L983.8,287.8 L984.3,295.2 L984.8,302.1 L985.3,308.6 L985.8,314.5 L986.3,319.9 L986.8,324.5 L987.3,328.4 L987.8,331.5 L988.3,333.9 L988.8,336.3 L989.3,338.7 L989.8,341.1 L990.3,343.3 L990.8,345.5 L991.3,347.6 L991.8,349.5 L992.3,351.3 L992.8,352.9 L993.3,354.3 L993.8,355.5 L994.3,356.5 L994.8,357.3 L995.3,357.7 L995.8,357.2 L996.3,355.0 L996.8,351.3 L997.3,346.2 L997.8,339.9 L998.3,332.5 L998.8,324.2 L999.3,314.9 L999.8,305.0 L1000.3,294.4 L1000.8,283.3 L1001.3,271.8 L1001.8,260.1 L1002.3,248.3 L1002.8,236.4 L1003.3,224.6 L1003.8,213.1 L1004.3,201.9 L1004.8,191.2 L1005.3,181.1 L1005.8,171.7 L1006.3,163.2 L1006.8,155.6 L1007.3,149.1 L1007.8,143.7 L1008.3,139.7 L1008.8,137.2 L1009.3,136.4 L1009.8,138.2 L1010.3,141.7 L1010.8,146.7 L1011.3,153.1 L1011.8,160.7 L1012.3,169.4 L1012.8,179.0 L1013.3,189.4 L1013.8,200.5 L1014.3,212.0 L1014.8,223.9 L1015.3,236.0 L1015.8,248.2 L1016.3,260.3 L1016.8,272.2 L1017.3,283.7 L1017.8,294.7 L1018.3,305.0 L1018.8,314.5 L1019.3,323.0 L1019.8,330.5 L1020.3,336.7 L1020.8,341.5 L1021.3,344.8 L1021.8,346.4 L1022.3,345.5 L1022.8,343.5 L1023.3,340.8 L1023.8,337.3 L1024.3,333.2 L1024.8,328.6 L1025.3,323.6 L1025.8,318.3 L1026.3,312.9 L1026.8,307.4 L1027.3,301.9 L1027.8,296.7 L1028.3,291.7 L1028.8,287.1 L1029.3,283.0 L1029.8,279.6 L1030.3,276.9 L1030.8,275.0 L1031.3,274.1 L1031.8,274.5 L1032.3,275.7 L1032.8,277.5 L1033.3,280.0 L1033.8,283.0 L1034.3,286.6 L1034.8,290.6 L1035.3,295.1 L1035.8,300.0 L1036.3,305.3 L1036.8,310.9 L1037.3,316.7 L1037.8,322.8 L1038.3,329.1 L1038.8,335.5 L1039.3,342.0 L1039.8,348.5 L1040.3,355.1 L1040.8,361.6 L1041.3,368.0 L1041.8,374.3 L1042.3,380.4 L1042.8,386.3 L1043.3,391.9 L1043.8,397.2 L1044.3,402.2 L1044.8,406.8 L1045.3,410.9 L1045.8,414.6 L1046.3,417.7 L1046.8,420.3 L1047.3,422.2 L1047.8,423.5 L1048.3,424.0 L1048.8,423.7 L1049.3,422.9 L1049.8,421.7 L1050.3,420.1 L1050.8,418.2 L1051.3,416.1 L1051.8,413.7 L1052.3,411.1 L1052.8,408.3 L1053.3,405.3 L1053.8,402.2 L1054.3,399.1 L1054.8,395.9 L1055.3,392.7 L1055.8,389.4 L1056.3,386.3 L1056.8,383.2 L1057.3,380.2 L1057.8,377.3 L1058.3,374.5 L1058.8,371.5 L1059.3,368.4 L1059.8,365.3 L1060.3,362.1 L1060.8,358.8 L1061.3,355.5 L1061.8,352.1 L1062.3,348.8 L1062.8,345.4 L1063.3,342.0 L1063.8,338.7 L1064.3,335.4 L1064.8,332.2 L1065.3,329.0 L1065.8,325.9 L1066.3,322.9 L1066.8,320.0 L1067.3,317.2 L1067.8,314.6 L1068.3,312.2 L1068.8,309.9 L1069.3,307.6 L1069.8,305.5 L1070.3,303.4 L1070.8,301.4 L1071.3,299.5 L1071.8,297.5 L1072.3,295.7 L1072.8,293.8 L1073.3,292.0 L1073.8,290.2 L1074.3,288.4 L1074.8,286.6 L1075.3,284.9 L1075.8,283.0 L1076.3,281.2 L1076.8,279.4 L1077.3,277.5 L1077.8,275.5 L1078.3,273.6 L1078.8,271.5 L1079.3,269.4 L1079.8,267.2 L1080.3,264.9 L1080.8,262.6 L1081.3,259.9 L1081.8,257.1 L1082.3,254.0 L1082.8,250.7 L1083.3,247.3 L1083.8,243.9 L1084.3,240.4 L1084.8,236.9 L1085.3,233.4 L1085.8,230.0 L1086.3,226.7 L1086.8,223.6 L1087.3,220.6 L1087.8,217.9 L1088.3,215.5 L1088.8,213.3 L1089.3,211.5 L1089.8,210.2 L1090.3,208.9 L1090.8,207.7 L1091.3,206.5 L1091.8,205.3 L1092.3,204.2 L1092.8,203.2 L1093.3,202.2 L1093.8,201.4 L1094.3,200.6 L1094.8,200.0 L1095.3,199.5 L1095.8,199.2 L1096.3,199.0 L1096.8,199.2 L1097.3,199.4 L1097.8,199.7 L1098.3,200.2 L1098.8,200.7 L1099.3,201.3 L1099.8,201.9 L1100.3,202.7 L1100.8,203.4 L1101.3,204.2 L1101.8,205.0 L1102.3,205.8 L1102.8,206.6 L1103.3,207.4 L1103.8,208.2 L1104.3,209.0 L1104.8,209.7 L1105.3,210.4 L1105.8,211.0 L1106.3,211.5 L1106.8,212.0 L1107.3,212.3 L1107.8,212.6 L1108.3,212.8 L1108.8,212.7 L1109.3,212.4 L1109.8,211.8 L1110.3,211.0 L1110.8,210.2 L1111.3,209.2 L1111.8,208.3 L1112.3,207.3 L1112.8,206.5 L1113.3,205.7 L1113.8,205.2 L1114.3,204.8 L1114.8,205.0 L1115.3,206.2 L1115.8,208.2 L1116.3,211.0 L1116.8,214.4 L1117.3,218.5 L1117.8,223.0 L1118.3,228.1 L1118.8,233.5 L1119.3,239.3 L1119.8,245.3 L1120.3,251.5 L1120.8,257.9 L1121.3,264.2 L1121.8,270.6 L1122.3,276.9 L1122.8,282.9 L1123.3,288.8 L1123.8,294.4 L1124.3,299.5 L1124.8,304.3 L1125.3,308.5 L1125.8,312.1 L1126.3,315.1 L1126.8,317.3 L1127.3,318.8 L1127.8,319.1 L1128.3,317.1 L1128.8,313.5 L1129.3,308.5 L1129.8,302.4 L1130.3,295.3 L1130.8,287.4 L1131.3,279.0 L1131.8,270.1 L1132.3,261.2 L1132.8,252.2 L1133.3,243.6 L1133.8,235.3 L1134.3,227.7 L1134.8,221.0 L1135.3,215.3 L1135.8,210.9 L1136.3,208.0 L1136.8,206.9 L1137.3,206.6 L1137.8,206.4 L1138.3,206.2 L1138.8,206.0 L1139.3,205.9 L1139.8,205.7 L1140.3,205.4 L1140.8,205.1 L1141.3,204.1 L1141.8,202.2 L1142.3,199.5 L1142.8,196.3 L1143.3,192.6 L1143.8,188.6 L1144.3,184.4 L1144.8,180.1 L1145.3,175.9 L1145.8,171.9 L1146.3,168.3 L1146.8,165.2 L1147.3,162.6 L1147.8,160.8 L1148.3,159.9 L1148.8,160.9 L1149.3,163.1 L1149.8,166.2 L1150.3,170.3 L1150.8,175.3 L1151.3,181.0 L1151.8,187.3 L1152.3,194.2 L1152.8,201.5 L1153.3,209.2 L1153.8,217.2 L1154.3,225.3 L1154.8,233.4 L1155.3,241.5 L1155.8,249.5 L1156.3,257.3 L1156.8,264.7 L1157.3,271.7 L1157.8,278.2 L1158.3,284.0 L1158.8,289.2 L1159.3,293.5 L1159.8,296.9 L1160.3,299.3 L1160.8,300.6 L1161.3,300.1 L1161.8,298.2 L1162.3,295.4 L1162.8,292.0 L1163.3,288.4 L1163.8,284.8 L1164.3,281.7 L1164.8,279.2 L1165.3,277.8 L1165.8,278.6 L1166.3,282.0 L1166.8,287.4 L1167.3,294.4 L1167.8,302.7 L1168.3,311.9 L1168.8,321.6 L1169.3,331.7 L1169.8,341.7 L1170.3,351.3 L1170.8,360.2 L1171.3,368.0 L1171.8,374.4 L1172.3,379.1 L1172.8,381.8 L1173.3,380.6 L1173.8,376.5 L1174.3,370.2 L1174.8,362.2 L1175.3,353.0 L1175.8,343.0 L1176.3,332.6 L1176.8,322.3 L1177.3,312.4 L1177.8,303.5 L1178.3,295.8 L1178.8,290.0 L1179.3,286.3 L1179.8,285.4 L1180.3,285.1 L1180.8,284.9 L1181.3,284.7 L1181.8,284.6 L1182.3,284.4 L1182.8,284.3 L1183.3,284.2 L1183.8,284.1 L1184.3,284.0 L1184.8,283.9 L1185.3,283.8 L1185.8,283.7 L1186.3,283.6 L1186.8,283.4 L1187.3,283.2 L1187.8,282.9 L1188.3,282.1 L1188.8,279.1 L1189.3,274.3 L1189.8,268.0 L1190.3,260.6 L1190.8,252.4 L1191.3,243.8 L1191.8,235.1 L1192.3,226.7 L1192.8,218.9 L1193.3,212.0 L1193.8,206.4 L1194.3,202.5 L1194.8,200.6 L1195.3,204.9 L1195.8,213.8 L1196.3,226.5 L1196.8,242.4 L1197.3,261.0 L1197.8,281.8 L1198.3,304.0 L1198.8,327.3 L1199.3,350.9 L1199.8,374.4 L1200.3,397.1 L1200.8,418.4 L1201.3,437.9 L1201.8,454.8 L1202.3,468.8 L1202.8,479.1 L1203.3,485.2 L1203.8,485.8 L1204.3,483.7 L1204.8,480.2 L1205.3,475.3 L1205.8,469.2 L1206.3,461.8 L1206.8,453.4 L1207.3,444.0 L1207.8,433.8 L1208.3,422.8 L1208.8,411.2 L1209.3,399.1 L1209.8,386.5 L1210.3,373.7 L1210.8,360.6 L1211.3,347.5 L1211.8,334.4 L1212.3,321.4 L1212.8,308.7 L1213.3,296.3 L1213.8,284.4 L1214.3,273.0 L1214.8,262.3 L1215.3,252.4 L1215.8,243.3 L1216.3,235.3 L1216.8,228.4 L1217.3,222.7 L1217.8,218.3 L1218.3,215.3 L1218.8,213.9 L1219.3,214.4 L1219.8,216.2 L1220.3,219.2 L1220.8,223.2 L1221.3,228.2 L1221.8,234.1 L1222.3,240.8 L1222.8,248.2 L1223.3,256.2 L1223.8,264.7 L1224.3,273.6 L1224.8,282.8 L1225.3,292.3 L1225.8,301.9 L1226.3,311.6 L1226.8,321.2 L1227.3,330.7 L1227.8,339.9 L1228.3,348.8 L1228.8,357.3 L1229.3,365.3 L1229.8,372.7 L1230.3,379.4 L1230.8,385.3 L1231.3,390.4 L1231.8,394.4 L1232.3,397.4 L1232.8,399.3 L1233.3,399.7 L1233.8,398.1 L1234.3,395.2 L1234.8,391.1 L1235.3,385.8 L1235.8,379.4 L1236.3,372.1 L1236.8,364.1 L1237.3,355.3 L1237.8,345.9 L1238.3,336.0 L1238.8,325.8 L1239.3,315.3 L1239.8,304.7 L1240.3,294.0 L1240.8,283.4 L1241.3,272.9 L1241.8,262.8 L1242.3,253.1 L1242.8,243.9 L1243.3,235.3 L1243.8,227.5 L1244.3,220.5 L1244.8,214.4 L1245.3,209.4 L1245.8,205.7 L1246.3,203.2 L1246.8,202.1 L1247.3,203.4 L1247.8,205.8 L1248.3,209.2 L1248.8,213.4 L1249.3,218.1 L1249.8,223.3 L1250.3,228.6 L1250.8,234.0 L1251.3,239.2 L1251.8,243.9 L1252.3,248.1 L1252.8,251.4 L1253.3,253.8 L1253.8,255.5 L1254.3,257.0 L1254.8,258.3 L1255.3,259.6 L1255.8,261.1 L1256.3,262.9 L1256.8,265.2 L1257.3,270.2 L1257.8,280.7 L1258.3,295.4 L1258.8,313.0 L1259.3,332.3 L1259.8,352.2 L1260.3,371.4 L1260.8,388.6 L1261.3,402.8 L1261.8,412.6 L1262.3,416.6 L1262.8,413.0 L1263.3,406.0 L1263.8,396.4 L1264.3,385.1 L1264.8,373.1 L1265.3,361.2 L1265.8,350.4 L1266.3,341.5 L1266.8,335.4 L1267.3,333.5 L1267.8,335.9 L1268.3,340.2 L1268.8,346.2 L1269.3,353.5 L1269.8,362.0 L1270.3,371.3 L1270.8,381.1 L1271.3,391.3 L1271.8,401.5 L1272.3,411.5 L1272.8,420.9 L1273.3,429.6 L1273.8,437.3 L1274.3,443.7 L1274.8,448.5 L1275.3,451.5 L1275.8,451.3 L1276.3,447.5 L1276.8,441.3 L1277.3,433.3 L1277.8,423.8 L1278.3,413.2 L1278.8,402.0 L1279.3,390.5 L1279.8,379.3 L1280.3,368.6 L1280.8,358.9 L1281.3,350.6 L1281.8,344.3 L1282.3,339.3 L1282.8,334.3 L1283.3,329.3 L1283.8,324.4 L1284.3,319.5 L1284.8,314.8 L1285.3,310.2 L1285.8,305.8 L1286.3,301.5 L1286.8,297.4 L1287.3,293.5 L1287.8,289.9 L1288.3,286.6 L1288.8,283.5 L1289.3,280.8 L1289.8,278.4 L1290.3,276.3 L1290.8,274.7 L1291.3,273.4 L1291.8,272.6 L1292.3,273.2 L1292.8,275.3 L1293.3,278.4 L1293.8,282.4 L1294.3,287.3 L1294.8,292.9 L1295.3,299.1 L1295.8,305.8 L1296.3,312.9 L1296.8,320.2 L1297.3,327.6 L1297.8,335.0 L1298.3,342.3 L1298.8,349.5 L1299.3,356.2 L1299.8,362.5 L1300.3,368.3 L1300.8,373.4 L1301.3,377.6 L1301.8,381.0 L1302.3,383.3 L1302.8,384.4 L1303.3,383.3 L1303.8,381.1 L1304.3,378.1 L1304.8,374.4 L1305.3,370.1 L1305.8,365.4 L1306.3,360.3 L1306.8,355.2 L1307.3,350.0 L1307.8,345.0 L1308.3,340.2 L1308.8,336.0 L1309.3,332.3 L1309.8,329.3 L1310.3,327.2 L1310.8,326.1 L1311.3,327.1 L1311.8,329.0 L1312.3,331.9 L1312.8,335.4 L1313.3,339.4 L1313.8,343.9 L1314.3,348.5 L1314.8,353.2 L1315.3,357.9 L1315.8,362.3 L1316.3,366.3 L1316.8,369.7 L1317.3,372.5 L1317.8,374.3 L1318.3,375.1 L1318.8,373.6 L1319.3,370.7 L1319.8,366.4 L1320.3,360.9 L1320.8,354.4 L1321.3,346.8 L1321.8,338.3 L1322.3,329.0 L1322.8,319.1 L1323.3,308.5 L1323.8,297.5 L1324.3,286.1 L1324.8,274.5 L1325.3,262.7 L1325.8,250.9 L1326.3,239.2 L1326.8,227.6 L1327.3,216.3 L1327.8,205.4 L1328.3,195.0 L1328.8,185.2 L1329.3,176.2 L1329.8,167.9 L1330.3,160.5 L1330.8,154.2 L1331.3,149.1 L1331.8,145.2 L1332.3,142.2 L1332.8,139.5 L1333.3,137.1 L1333.8,135.1 L1334.3,133.3 L1334.8,132.1 L1335.3,130.9 L1335.8,129.8 L1336.3,128.8 L1336.8,127.9 L1337.3,127.1 L1337.8,126.4 L1338.3,125.9 L1338.8,125.5 L1339.3,125.2 L1339.8,125.0 L1340.3,124.7 L1340.8,124.5 L1341.3,124.3 L1341.8,124.1 L1342.3,123.9 L1342.8,123.7 L1343.3,123.6 L1343.8,123.5 L1344.3,123.4 L1344.8,123.3 L1345.3,123.3 L1345.8,123.4 L1346.3,123.5 L1346.8,123.6 L1347.3,123.8 L1347.8,124.0 L1348.3,124.2 L1348.8,124.5 L1349.3,124.8 L1349.8,125.1 L1350.3,125.4 L1350.8,125.9 L1351.3,126.5 L1351.8,127.4 L1352.3,128.4 L1352.8,129.6 L1353.3,130.9 L1353.8,132.3 L1354.3,134.1 L1354.8,136.4 L1355.3,138.9 L1355.8,141.6 L1356.3,144.3 L1356.8,147.0 L1357.3,149.8 L1357.8,152.7 L1358.3,155.8 L1358.8,159.0 L1359.3,162.3 L1359.8,165.8 L1360.3,169.4 L1360.8,173.1 L1361.3,176.8 L1361.8,180.7 L1362.3,184.6 L1362.8,188.5 L1363.3,192.5 L1363.8,196.5 L1364.3,200.6 L1364.8,204.6 L1365.3,208.7 L1365.8,212.7 L1366.3,216.7 L1366.8,220.6 L1367.3,224.5 L1367.8,228.4 L1368.3,232.1 L1368.8,235.8 L1369.3,239.4 L1369.8,242.9 L1370.3,246.3 L1370.8,249.5 L1371.3,252.6 L1371.8,255.5 L1372.3,258.3 L1372.8,260.9 L1373.3,263.3 L1373.8,265.6 L1374.3,267.6 L1374.8,269.4 L1375.3,270.9 L1375.8,272.2 L1376.3,273.3 L1376.8,274.1 L1377.3,274.6 L1377.8,274.8 L1378.3,274.7 L1378.8,274.4 L1379.3,273.8 L1379.8,273.1 L1380.3,272.2 L1380.8,271.2 L1381.3,270.0 L1381.8,268.8 L1382.3,267.4 L1382.8,266.0 L1383.3,264.5 L1383.8,263.1 L1384.3,261.6 L1384.8,260.1 L1385.3,258.6 L1385.8,257.2 L1386.3,255.8 L1386.8,254.5 L1387.3,253.3 L1387.8,252.2 L1388.3,251.3 L1388.8,250.5 L1389.3,249.9 L1389.8,249.5 L1390.3,249.3 L1390.8,249.6 L1391.3,250.4 L1391.8,251.7 L1392.3,253.5 L1392.8,255.7 L1393.3,258.4 L1393.8,261.5 L1394.3,264.9 L1394.8,268.7 L1395.3,272.7 L1395.8,277.1 L1396.3,281.7 L1396.8,286.4 L1397.3,291.4 L1397.8,296.6 L1398.3,301.8 L1398.8,307.2 L1399.3,312.6 L1399.8,318.1 L1400.3,323.5 L1400.8,328.9 L1401.3,334.3 L1401.8,339.6 L1402.3,344.8 L1402.8,349.9 L1403.3,354.7 L1403.8,359.4 L1404.3,363.9 L1404.8,368.0 L1405.3,371.9 L1405.8,375.5 L1406.3,378.7 L1406.8,381.5 L1407.3,384.0 L1407.8,386.0 L1408.3,387.5 L1408.8,388.5 L1409.3,389.0 L1409.8,388.8 L1410.3,387.7 L1410.8,385.8 L1411.3,383.3 L1411.8,380.1 L1412.3,376.3 L1412.8,372.0 L1413.3,367.2 L1413.8,362.0 L1414.3,356.5 L1414.8,350.6 L1415.3,344.6 L1415.8,338.3 L1416.3,332.0 L1416.8,325.6 L1417.3,319.2 L1417.8,312.9 L1418.3,306.6 L1418.8,300.6 L1419.3,294.8 L1419.8,289.3 L1420.3,284.2 L1420.8,279.5 L1421.3,275.3 L1421.8,271.6 L1422.3,268.5 L1422.8,266.0 L1423.3,264.3 L1423.8,263.3 L1424.3,263.5 L1424.8,264.7 L1425.3,266.7 L1425.8,269.2 L1426.3,272.3 L1426.8,275.8 L1427.3,279.5 L1427.8,283.5 L1428.3,287.5 L1428.8,291.5 L1429.3,295.4 L1429.8,299.1 L1430.3,302.4 L1430.8,305.3 L1431.3,307.7 L1431.8,309.3 L1432.3,310.3 L1432.8,309.7 L1433.3,307.7 L1433.8,304.7 L1434.3,300.6 L1434.8,295.5 L1435.3,289.6 L1435.8,283.0 L1436.3,275.7 L1436.8,267.7 L1437.3,259.3 L1437.8,250.5 L1438.3,241.4 L1438.8,232.1 L1439.3,222.6 L1439.8,213.1 L1440.3,203.7 L1440.8,194.4 L1441.3,185.3 L1441.8,176.6 L1442.3,168.3 L1442.8,160.5 L1443.3,153.3 L1443.8,146.8 L1444.3,141.1 L1444.8,136.2 L1445.3,132.3 L1445.8,129.5 L1446.3,127.8 L1446.8,127.5 L1447.3,128.0 L1447.8,129.1 L1448.3,130.6 L1448.8,132.5 L1449.3,134.7 L1449.8,137.3 L1450.3,140.2 L1450.8,143.4 L1451.3,146.8 L1451.8,150.3 L1452.3,154.1 L1452.8,157.9 L1453.3,161.8 L1453.8,165.8 L1454.3,169.8 L1454.8,173.7 L1455.3,177.6 L1455.8,181.3 L1456.3,185.0 L1456.8,188.4 L1457.3,191.7 L1457.8,194.6 L1458.3,197.3 L1458.8,199.7 L1459.3,201.7 L1459.8,203.3 L1460.3,204.5 L1460.8,205.2 L1461.3,205.3 L1461.8,203.8 L1462.3,201.2 L1462.8,197.8 L1463.3,193.8 L1463.8,189.5 L1464.3,185.1 L1464.8,180.9 L1465.3,177.2 L1465.8,174.1 L1466.3,172.0 L1466.8,171.4 L1467.3,173.8 L1467.8,178.2 L1468.3,184.2 L1468.8,191.7 L1469.3,200.1 L1469.8,209.2 L1470.3,218.6 L1470.8,228.0 L1471.3,237.0 L1471.8,245.3 L1472.3,252.6 L1472.8,258.6 L1473.3,262.8 L1473.8,264.9 L1474.3,263.3 L1474.8,259.7 L1475.3,254.5 L1475.8,247.9 L1476.3,240.3 L1476.8,232.0 L1477.3,223.2 L1477.8,214.3 L1478.3,205.6 L1478.8,197.3 L1479.3,189.7 L1479.8,183.2 L1480.3,178.0 L1480.8,174.4 L1481.3,172.9 L1481.8,176.2 L1482.3,182.2 L1482.8,190.7 L1483.3,201.2 L1483.8,213.6 L1484.3,227.4 L1484.8,242.3 L1485.3,257.9 L1485.8,273.9 L1486.3,290.0 L1486.8,305.8 L1487.3,321.0 L1487.8,335.3 L1488.3,348.2 L1488.8,359.5 L1489.3,368.9 L1489.8,375.9 L1490.3,380.3 L1490.8,380.6 L1491.3,377.8 L1491.8,373.2 L1492.3,367.3 L1492.8,360.6 L1493.3,353.4 L1493.8,346.2 L1494.3,339.4 L1494.8,333.4 L1495.3,328.7 L1495.8,325.7 L1496.3,325.3 L1496.8,327.2 L1497.3,330.5 L1497.8,334.9 L1498.3,340.2 L1498.8,346.3 L1499.3,353.1 L1499.8,360.3 L1500.3,367.9 L1500.8,375.5 L1501.3,383.2 L1501.8,390.7 L1502.3,397.8 L1502.8,404.5 L1503.3,410.4 L1503.8,415.6 L1504.3,419.7 L1504.8,422.7 L1505.3,424.4 L1505.8,423.8 L1506.3,422.3 L1506.8,419.9 L1507.3,416.9 L1507.8,413.2 L1508.3,408.9 L1508.8,403.9 L1509.3,398.5 L1509.8,392.5" fill="none" stroke="#929292" stroke-width="1.2" stroke-linejoin="round"/>
<path d="M887.9,443.2 L888.4,440.3 L888.9,437.5 L889.4,434.9 L889.9,432.3 L890.4,429.9 L890.9,427.7 L891.4,425.6 L891.9,423.7 L892.4,422.0 L892.9,420.3 L893.4,418.6 L893.9,417.0 L894.4,415.5 L894.9,414.3 L895.4,413.3 L895.9,412.6 L896.4,412.4 L896.9,414.0 L897.4,417.0 L897.9,421.2 L898.4,426.2 L898.9,431.9 L899.4,438.1 L899.9,444.4 L900.4,450.6 L900.9,456.5 L901.4,461.8 L901.9,466.4 L902.4,469.9 L902.9,472.0 L903.4,472.1 L903.9,469.9 L904.4,466.2 L904.9,461.4 L905.4,455.6 L905.9,448.9 L906.4,441.6 L906.9,433.8 L907.4,425.8 L907.9,417.7 L908.4,409.7 L908.9,402.0 L909.4,394.8 L909.9,388.3 L910.4,382.7 L910.9,378.1 L911.4,374.7 L911.9,372.8 L912.4,373.9 L912.9,377.3 L913.4,382.5 L913.9,389.1 L914.4,396.8 L914.9,405.4 L915.4,414.4 L915.9,423.7 L916.4,432.9 L916.9,441.6 L917.4,449.6 L917.9,456.7 L918.4,462.3 L918.9,466.4 L919.4,468.5 L919.9,465.7 L920.4,459.4 L920.9,450.3 L921.4,438.8 L921.9,425.2 L922.4,409.9 L922.9,393.2 L923.4,375.5 L923.9,357.2 L924.4,338.6 L924.9,320.0 L925.4,301.9 L925.9,284.5 L926.4,268.4 L926.9,253.7 L927.4,240.9 L927.9,230.4 L928.4,222.4 L928.9,217.4 L929.4,217.8 L929.9,225.3 L930.4,237.3 L930.9,252.9 L931.4,270.9 L931.9,290.3 L932.4,309.9 L932.9,328.6 L933.4,345.3 L933.9,359.0 L934.4,368.5 L934.9,372.5 L935.4,366.3 L935.9,354.1 L936.4,337.2 L936.9,317.2 L937.4,295.7 L937.9,274.0 L938.4,253.8 L938.9,236.5 L939.4,223.6 L939.9,216.7 L940.4,218.4 L940.9,223.8 L941.4,231.7 L941.9,241.9 L942.4,254.1 L942.9,267.9 L943.4,283.1 L943.9,299.3 L944.4,316.2 L944.9,333.6 L945.4,351.2 L945.9,368.6 L946.4,385.5 L946.9,401.7 L947.4,416.8 L947.9,430.5 L948.4,442.6 L948.9,452.7 L949.4,460.5 L949.9,465.7 L950.4,467.2 L950.9,463.2 L951.4,456.2 L951.9,446.4 L952.4,434.3 L952.9,420.1 L953.4,404.0 L953.9,386.5 L954.4,367.8 L954.9,348.3 L955.4,328.1 L955.9,307.7 L956.4,287.4 L956.9,267.3 L957.4,248.0 L957.9,229.5 L958.4,212.3 L958.9,196.7 L959.4,182.9 L959.9,171.3 L960.4,162.2 L960.9,155.8 L961.4,152.5 L961.9,154.5 L962.4,158.6 L962.9,164.5 L963.4,171.8 L963.9,180.0 L964.4,188.7 L964.9,197.6 L965.4,206.2 L965.9,214.0 L966.4,220.8 L966.9,226.0 L967.4,229.4 L967.9,229.7 L968.4,226.9 L968.9,222.1 L969.4,215.9 L969.9,208.7 L970.4,200.9 L970.9,193.0 L971.4,185.4 L971.9,178.6 L972.4,172.9 L972.9,169.0 L973.4,167.1 L973.9,167.9 L974.4,169.8 L974.9,172.5 L975.4,176.2 L975.9,180.5 L976.4,185.7 L976.9,191.4 L977.4,197.7 L977.9,204.5 L978.4,211.7 L978.9,219.3 L979.4,227.1 L979.9,235.2 L980.4,243.4 L980.9,251.7 L981.4,259.9 L981.9,268.1 L982.4,276.1 L982.9,283.9 L983.4,291.5 L983.9,298.6 L984.4,305.4 L984.9,311.6 L985.4,317.3 L985.9,322.3 L986.4,326.6 L986.9,330.1 L987.4,332.7 L987.9,335.1 L988.4,337.6 L988.9,339.9 L989.4,342.2 L989.9,344.5 L990.4,346.6 L990.9,348.6 L991.4,350.5 L991.9,352.2 L992.4,353.7 L992.9,355.0 L993.4,356.1 L993.9,357.0 L994.4,357.6 L994.9,357.7 L995.4,356.2 L995.9,353.1 L996.4,348.6 L996.9,342.8 L997.4,335.9 L997.9,327.9 L998.4,319.0 L998.9,309.3 L999.4,299.0 L999.9,288.0 L1000.4,276.7 L1000.9,265.1 L1001.4,253.2 L1001.9,241.3 L1002.4,229.5 L1002.9,217.8 L1003.4,206.5 L1003.9,195.5 L1004.4,185.1 L1004.9,175.4 L1005.4,166.5 L1005.9,158.5 L1006.4,151.5 L1006.9,145.7 L1007.4,141.1 L1007.9,138.0 L1008.4,136.4 L1008.9,137.3 L1009.4,140.2 L1009.9,144.7 L1010.4,150.6 L1010.9,157.8 L1011.4,166.1 L1011.9,175.4 L1012.4,185.6 L1012.9,196.5 L1013.4,207.9 L1013.9,219.7 L1014.4,231.8 L1014.9,244.0 L1015.4,256.1 L1015.9,268.1 L1016.4,279.8 L1016.9,291.0 L1017.4,301.6 L1017.9,311.4 L1018.4,320.3 L1018.9,328.2 L1019.4,334.8 L1019.9,340.1 L1020.4,343.9 L1020.9,346.1 L1021.4,345.9 L1021.9,344.2 L1022.4,341.7 L1022.9,338.4 L1023.4,334.5 L1023.9,330.0 L1024.4,325.1 L1024.9,319.9 L1025.4,314.5 L1025.9,309.0 L1026.4,303.5 L1026.9,298.2 L1027.4,293.1 L1027.9,288.4 L1028.4,284.1 L1028.9,280.5 L1029.4,277.5 L1029.9,275.4 L1030.4,274.2 L1030.9,274.4 L1031.4,275.3 L1031.9,277.0 L1032.4,279.3 L1032.9,282.2 L1033.4,285.6 L1033.9,289.6 L1034.4,294.0 L1034.9,298.8 L1035.4,304.0 L1035.9,309.5 L1036.4,315.3 L1036.9,321.4 L1037.4,327.6 L1037.9,334.0 L1038.4,340.5 L1038.9,347.0 L1039.4,353.6 L1039.9,360.1 L1040.4,366.6 L1040.9,372.9 L1041.4,379.1 L1041.9,385.1 L1042.4,390.8 L1042.9,396.2 L1043.4,401.2 L1043.9,405.9 L1044.4,410.2 L1044.9,413.9 L1045.4,417.2 L1045.9,419.8 L1046.4,421.9 L1046.9,423.3 L1047.4,424.0 L1047.9,423.8 L1048.4,423.1 L1048.9,421.9 L1049.4,420.4 L1049.9,418.6 L1050.4,416.5 L1050.9,414.1 L1051.4,411.5 L1051.9,408.7 L1052.4,405.8 L1052.9,402.7 L1053.4,399.6 L1053.9,396.4 L1054.4,393.1 L1054.9,389.9 L1055.4,386.7 L1055.9,383.6 L1056.4,380.6 L1056.9,377.7 L1057.4,374.9 L1057.9,371.9 L1058.4,368.8 L1058.9,365.7 L1059.4,362.5 L1059.9,359.2 L1060.4,355.9 L1060.9,352.5 L1061.4,349.1 L1061.9,345.8 L1062.4,342.4 L1062.9,339.0 L1063.4,335.7 L1063.9,332.5 L1064.4,329.3 L1064.9,326.2 L1065.4,323.2 L1065.9,320.3 L1066.4,317.5 L1066.9,314.8 L1067.4,312.4 L1067.9,310.0 L1068.4,307.8 L1068.9,305.7 L1069.4,303.6 L1069.9,301.5 L1070.4,299.6 L1070.9,297.7 L1071.4,295.8 L1071.9,293.9 L1072.4,292.1 L1072.9,290.3 L1073.4,288.5 L1073.9,286.7 L1074.4,284.9 L1074.9,283.1 L1075.4,281.3 L1075.9,279.4 L1076.4,277.5 L1076.9,275.6 L1077.4,273.6 L1077.9,271.6 L1078.4,269.4 L1078.9,267.3 L1079.4,265.0 L1079.9,262.6 L1080.4,260.0 L1080.9,257.1 L1081.4,254.0 L1081.9,250.7 L1082.4,247.3 L1082.9,243.9 L1083.4,240.4 L1083.9,236.9 L1084.4,233.4 L1084.9,230.0 L1085.4,226.7 L1085.9,223.5 L1086.4,220.6 L1086.9,217.9 L1087.4,215.4 L1087.9,213.3 L1088.4,211.5 L1088.9,210.2 L1089.4,208.9 L1089.9,207.6 L1090.4,206.4 L1090.9,205.2 L1091.4,204.1 L1091.9,203.1 L1092.4,202.2 L1092.9,201.3 L1093.4,200.6 L1093.9,200.0 L1094.4,199.5 L1094.9,199.2 L1095.4,199.0 L1095.9,199.2 L1096.4,199.4 L1096.9,199.8 L1097.4,200.2 L1097.9,200.7 L1098.4,201.3 L1098.9,202.0 L1099.4,202.7 L1099.9,203.5 L1100.4,204.3 L1100.9,205.1 L1101.4,205.9 L1101.9,206.7 L1102.4,207.5 L1102.9,208.3 L1103.4,209.0 L1103.9,209.8 L1104.4,210.4 L1104.9,211.0 L1105.4,211.6 L1105.9,212.0 L1106.4,212.4 L1106.9,212.6 L1107.4,212.8 L1107.9,212.7 L1108.4,212.3 L1108.9,211.7 L1109.4,210.9 L1109.9,210.1 L1110.4,209.1 L1110.9,208.1 L1111.4,207.2 L1111.9,206.4 L1112.4,205.6 L1112.9,205.1 L1113.4,204.8 L1113.9,205.1 L1114.4,206.5 L1114.9,208.6 L1115.4,211.5 L1115.9,215.1 L1116.4,219.2 L1116.9,223.9 L1117.4,229.0 L1117.9,234.6 L1118.4,240.4 L1118.9,246.5 L1119.4,252.7 L1119.9,259.1 L1120.4,265.5 L1120.9,271.8 L1121.4,278.1 L1121.9,284.1 L1122.4,290.0 L1122.9,295.4 L1123.4,300.5 L1123.9,305.2 L1124.4,309.3 L1124.9,312.8 L1125.4,315.6 L1125.9,317.7 L1126.4,319.0 L1126.9,318.8 L1127.4,316.4 L1127.9,312.5 L1128.4,307.2 L1128.9,300.8 L1129.4,293.5 L1129.9,285.4 L1130.4,276.8 L1130.9,267.9 L1131.4,258.9 L1131.9,250.0 L1132.4,241.4 L1132.9,233.3 L1133.4,225.9 L1133.9,219.4 L1134.4,214.0 L1134.9,210.0 L1135.4,207.5 L1135.9,206.8 L1136.4,206.5 L1136.9,206.3 L1137.4,206.2 L1137.9,206.0 L1138.4,205.8 L1138.9,205.6 L1139.4,205.4 L1139.9,205.0 L1140.4,203.6 L1140.9,201.4 L1141.4,198.6 L1141.9,195.2 L1142.4,191.4 L1142.9,187.3 L1143.4,183.0 L1143.9,178.8 L1144.4,174.6 L1144.9,170.7 L1145.4,167.2 L1145.9,164.3 L1146.4,162.0 L1146.9,160.4 L1147.4,160.1 L1147.9,161.5 L1148.4,164.0 L1148.9,167.5 L1149.4,172.0 L1149.9,177.2 L1150.4,183.1 L1150.9,189.7 L1151.4,196.7 L1151.9,204.2 L1152.4,212.0 L1152.9,220.1 L1153.4,228.2 L1153.9,236.4 L1154.4,244.5 L1154.9,252.4 L1155.4,260.1 L1155.9,267.4 L1156.4,274.2 L1156.9,280.5 L1157.4,286.1 L1157.9,290.9 L1158.4,294.9 L1158.9,298.0 L1159.4,300.0 L1159.9,300.7 L1160.4,299.4 L1160.9,297.1 L1161.4,294.1 L1161.9,290.5 L1162.4,286.9 L1162.9,283.5 L1163.4,280.6 L1163.9,278.5 L1164.4,277.6 L1164.9,279.8 L1165.4,284.1 L1165.9,290.2 L1166.4,297.8 L1166.9,306.5 L1167.4,316.0 L1167.9,326.0 L1168.4,336.1 L1168.9,346.0 L1169.4,355.3 L1169.9,363.8 L1170.4,371.1 L1170.9,376.8 L1171.4,380.6 L1171.9,381.9 L1172.4,379.0 L1172.9,373.8 L1173.4,366.7 L1173.9,358.1 L1174.4,348.4 L1174.9,338.1 L1175.4,327.7 L1175.9,317.5 L1176.4,308.0 L1176.9,299.6 L1177.4,292.7 L1177.9,287.9 L1178.4,285.6 L1178.9,285.3 L1179.4,285.0 L1179.9,284.8 L1180.4,284.6 L1180.9,284.5 L1181.4,284.4 L1181.9,284.3 L1182.4,284.2 L1182.9,284.1 L1183.4,284.0 L1183.9,283.9 L1184.4,283.8 L1184.9,283.6 L1185.4,283.5 L1185.9,283.3 L1186.4,283.0 L1186.9,282.7 L1187.4,280.7 L1187.9,276.7 L1188.4,271.0 L1188.9,264.1 L1189.4,256.2 L1189.9,247.7 L1190.4,239.0 L1190.9,230.4 L1191.4,222.3 L1191.9,214.9 L1192.4,208.7 L1192.9,204.0 L1193.4,201.1 L1193.9,202.5 L1194.4,209.5 L1194.9,220.7 L1195.4,235.3 L1195.9,252.9 L1196.4,272.9 L1196.9,294.7 L1197.4,317.6 L1197.9,341.2 L1198.4,364.9 L1198.9,388.0 L1199.4,410.0 L1199.9,430.4 L1200.4,448.5 L1200.9,463.7 L1201.4,475.5 L1201.9,483.3 L1202.4,486.1 L1202.9,484.7 L1203.4,481.7 L1203.9,477.3 L1204.4,471.6 L1204.9,464.6 L1205.4,456.6 L1205.9,447.5 L1206.4,437.6 L1206.9,426.8 L1207.4,415.4 L1207.9,403.4 L1208.4,391.0 L1208.9,378.2 L1209.4,365.2 L1209.9,352.1 L1210.4,338.9 L1210.9,325.9 L1211.4,313.0 L1211.9,300.5 L1212.4,288.3 L1212.9,276.7 L1213.4,265.8 L1213.9,255.5 L1214.4,246.2 L1214.9,237.8 L1215.4,230.5 L1215.9,224.4 L1216.4,219.5 L1216.9,216.1 L1217.4,214.2 L1217.9,214.1 L1218.4,215.5 L1218.9,218.2 L1219.4,221.9 L1219.9,226.7 L1220.4,232.3 L1220.9,238.8 L1221.4,246.0 L1221.9,253.9 L1222.4,262.3 L1222.9,271.1 L1223.4,280.3 L1223.9,289.7 L1224.4,299.3 L1224.9,309.0 L1225.4,318.6 L1225.9,328.2 L1226.4,337.5 L1226.9,346.5 L1227.4,355.2 L1227.9,363.3 L1228.4,370.9 L1228.9,377.8 L1229.4,383.9 L1229.9,389.2 L1230.4,393.5 L1230.9,396.8 L1231.4,398.9 L1231.9,399.8 L1232.4,398.6 L1232.9,396.0 L1233.4,392.1 L1233.9,387.0 L1234.4,380.9 L1234.9,373.8 L1235.4,365.9 L1235.9,357.2 L1236.4,347.9 L1236.9,338.1 L1237.4,327.9 L1237.9,317.5 L1238.4,306.8 L1238.9,296.1 L1239.4,285.4 L1239.9,275.0 L1240.4,264.7 L1240.9,254.9 L1241.4,245.6 L1241.9,236.8 L1242.4,228.8 L1242.9,221.7 L1243.4,215.4 L1243.9,210.2 L1244.4,206.2 L1244.9,203.5 L1245.4,202.2 L1245.9,203.1 L1246.4,205.3 L1246.9,208.6 L1247.4,212.7 L1247.9,217.4 L1248.4,222.5 L1248.9,227.8 L1249.4,233.2 L1249.9,238.4 L1250.4,243.3 L1250.9,247.5 L1251.4,251.0 L1251.9,253.5 L1252.4,255.3 L1252.9,256.8 L1253.4,258.1 L1253.9,259.5 L1254.4,260.9 L1254.9,262.7 L1255.4,264.9 L1255.9,269.3 L1256.4,279.3 L1256.9,293.7 L1257.4,311.1 L1257.9,330.3 L1258.4,350.2 L1258.9,369.6 L1259.4,387.1 L1259.9,401.7 L1260.4,412.0 L1260.9,416.8 L1261.4,413.5 L1261.9,406.7 L1262.4,397.2 L1262.9,386.0 L1263.4,374.0 L1263.9,362.0 L1264.4,351.0 L1264.9,342.0 L1265.4,335.7 L1265.9,333.4 L1266.4,335.7 L1266.9,339.9 L1267.4,345.8 L1267.9,353.1 L1268.4,361.6 L1268.9,370.8 L1269.4,380.7 L1269.9,390.9 L1270.4,401.1 L1270.9,411.1 L1271.4,420.6 L1271.9,429.4 L1272.4,437.1 L1272.9,443.6 L1273.4,448.5 L1273.9,451.5 L1274.4,451.4 L1274.9,447.6 L1275.4,441.4 L1275.9,433.4 L1276.4,423.9 L1276.9,413.3 L1277.4,402.0 L1277.9,390.5 L1278.4,379.2 L1278.9,368.5 L1279.4,358.8 L1279.9,350.5 L1280.4,344.2 L1280.9,339.2 L1281.4,334.2 L1281.9,329.2 L1282.4,324.3 L1282.9,319.4 L1283.4,314.7 L1283.9,310.1 L1284.4,305.6 L1284.9,301.3 L1285.4,297.2 L1285.9,293.4 L1286.4,289.8 L1286.9,286.4 L1287.4,283.4 L1287.9,280.6 L1288.4,278.2 L1288.9,276.2 L1289.4,274.6 L1289.9,273.3 L1290.4,272.6 L1290.9,273.3 L1291.4,275.4 L1291.9,278.7 L1292.4,282.8 L1292.9,287.8 L1293.4,293.4 L1293.9,299.7 L1294.4,306.4 L1294.9,313.5 L1295.4,320.8 L1295.9,328.3 L1296.4,335.7 L1296.9,343.1 L1297.4,350.2 L1297.9,356.9 L1298.4,363.2 L1298.9,368.9 L1299.4,373.9 L1299.9,378.0 L1300.4,381.3 L1300.9,383.5 L1301.4,384.3 L1301.9,383.0 L1302.4,380.8 L1302.9,377.7 L1303.4,373.9 L1303.9,369.5 L1304.4,364.7 L1304.9,359.6 L1305.4,354.4 L1305.9,349.2 L1306.4,344.2 L1306.9,339.6 L1307.4,335.3 L1307.9,331.7 L1308.4,328.9 L1308.9,327.0 L1309.4,326.2 L1309.9,327.3 L1310.4,329.5 L1310.9,332.4 L1311.4,336.0 L1311.9,340.2 L1312.4,344.7 L1312.9,349.4 L1313.4,354.1 L1313.9,358.7 L1314.4,363.1 L1314.9,367.0 L1315.4,370.3 L1315.9,372.9 L1316.4,374.6 L1316.9,374.8 L1317.4,372.8 L1317.9,369.2 L1318.4,364.2 L1318.9,357.9 L1319.4,350.4 L1319.9,341.9 L1320.4,332.5 L1320.9,322.3 L1321.4,311.4 L1321.9,300.0 L1322.4,288.1 L1322.9,275.9 L1323.4,263.5 L1323.9,251.1 L1324.4,238.7 L1324.9,226.5 L1325.4,214.6 L1325.9,203.0 L1326.4,192.1 L1326.9,181.8 L1327.4,172.3 L1327.9,163.6 L1328.4,156.0 L1328.9,149.6 L1329.4,144.4 L1329.9,140.7 L1330.4,137.3 L1330.9,134.1 L1331.4,131.2 L1331.9,128.6 L1332.4,126.1 L1332.9,123.9 L1333.4,121.8 L1333.9,120.0 L1334.4,118.3 L1334.9,116.6 L1335.4,115.0 L1335.9,113.5 L1336.4,112.1 L1336.9,110.8 L1337.4,109.7 L1337.9,108.6 L1338.4,107.7 L1338.9,107.0 L1339.4,106.4 L1339.9,105.7 L1340.4,105.2 L1340.9,104.6 L1341.4,104.1 L1341.9,103.6 L1342.4,103.2 L1342.9,102.8 L1343.4,102.5 L1343.9,102.3 L1344.4,102.1 L1344.9,102.2 L1345.4,102.5 L1345.9,103.0 L1346.4,103.6 L1346.9,104.4 L1347.4,105.3 L1347.9,106.3 L1348.4,107.3 L1348.9,108.3 L1349.4,109.6 L1349.9,111.1 L1350.4,112.8 L1350.9,114.6 L1351.4,116.7 L1351.9,118.7 L1352.4,120.9 L1352.9,123.1 L1353.4,125.5 L1353.9,128.1 L1354.4,130.8 L1354.9,133.6 L1355.4,136.5 L1355.9,139.4 L1356.4,142.4 L1356.9,145.3 L1357.4,148.3 L1357.9,151.5 L1358.4,154.9 L1358.9,158.5 L1359.4,162.2 L1359.9,166.1 L1360.4,170.1 L1360.9,174.2 L1361.4,178.4 L1361.9,182.7 L1362.4,187.1 L1362.9,191.5 L1363.4,195.9 L1363.9,200.4 L1364.4,204.9 L1364.9,209.3 L1365.4,213.8 L1365.9,218.2 L1366.4,222.5 L1366.9,226.8 L1367.4,231.0 L1367.9,235.1 L1368.4,239.0 L1368.9,242.9 L1369.4,246.6 L1369.9,250.1 L1370.4,253.5 L1370.9,256.7 L1371.4,259.7 L1371.9,262.4 L1372.4,264.9 L1372.9,267.2 L1373.4,269.2 L1373.9,271.0 L1374.4,272.4 L1374.9,273.5 L1375.4,274.3 L1375.9,274.7 L1376.4,274.8 L1376.9,274.6 L1377.4,274.1 L1377.9,273.5 L1378.4,272.7 L1378.9,271.7 L1379.4,270.6 L1379.9,269.4 L1380.4,268.1 L1380.9,266.7 L1381.4,265.2 L1381.9,263.8 L1382.4,262.2 L1382.9,260.7 L1383.4,259.3 L1383.9,257.8 L1384.4,256.4 L1384.9,255.1 L1385.4,253.8 L1385.9,252.7 L1386.4,251.7 L1386.9,250.9 L1387.4,250.2 L1387.9,249.7 L1388.4,249.4 L1388.9,249.4 L1389.4,250.0 L1389.9,251.1 L1390.4,252.7 L1390.9,254.7 L1391.4,257.3 L1391.9,260.2 L1392.4,263.5 L1392.9,267.1 L1393.4,271.1 L1393.9,275.3 L1394.4,279.8 L1394.9,284.5 L1395.4,289.4 L1395.9,294.5 L1396.4,299.8 L1396.9,305.1 L1397.4,310.5 L1397.9,316.0 L1398.4,321.4 L1398.9,326.9 L1399.4,332.3 L1399.9,337.7 L1400.4,342.9 L1400.9,348.0 L1401.4,353.0 L1401.9,357.7 L1402.4,362.3 L1402.9,366.6 L1403.4,370.6 L1403.9,374.3 L1404.4,377.6 L1404.9,380.6 L1405.4,383.2 L1405.9,385.3 L1406.4,387.0 L1406.9,388.2 L1407.4,388.9 L1407.9,388.9 L1408.4,388.1 L1408.9,386.5 L1409.4,384.2 L1409.9,381.2 L1410.4,377.6 L1410.9,373.4 L1411.4,368.7 L1411.9,363.7 L1412.4,358.2 L1412.9,352.4 L1413.4,346.4 L1413.9,340.2 L1414.4,333.9 L1414.9,327.5 L1415.4,321.1 L1415.9,314.7 L1416.4,308.4 L1416.9,302.3 L1417.4,296.4 L1417.9,290.9 L1418.4,285.6 L1418.9,280.8 L1419.4,276.4 L1419.9,272.5 L1420.4,269.3 L1420.9,266.6 L1421.4,264.7 L1421.9,263.5 L1422.4,263.3 L1422.9,264.3 L1423.4,266.1 L1423.9,268.5 L1424.4,271.5 L1424.9,274.9 L1425.4,278.6 L1425.9,282.5 L1426.4,286.6 L1426.9,290.6 L1427.4,294.6 L1427.9,298.3 L1428.4,301.7 L1428.9,304.7 L1429.4,307.2 L1429.9,309.0 L1430.4,310.1 L1430.9,309.9 L1431.4,308.2 L1431.9,305.4 L1432.4,301.5 L1432.9,296.6 L1433.4,290.9 L1433.9,284.4 L1434.4,277.1 L1434.9,269.3 L1435.4,261.0 L1435.9,252.2 L1436.4,243.1 L1436.9,233.8 L1437.4,224.3 L1437.9,214.8 L1438.4,205.3 L1438.9,196.0 L1439.4,186.9 L1439.9,178.0 L1440.4,169.6 L1440.9,161.7 L1441.4,154.4 L1441.9,147.8 L1442.4,141.9 L1442.9,136.9 L1443.4,132.9 L1443.9,129.9 L1444.4,128.0 L1444.9,127.5 L1445.4,127.9 L1445.9,128.9 L1446.4,130.3 L1446.9,132.2 L1447.4,134.4 L1447.9,137.0 L1448.4,139.8 L1448.9,143.0 L1449.4,146.3 L1449.9,149.9 L1450.4,153.6 L1450.9,157.5 L1451.4,161.4 L1451.9,165.4 L1452.4,169.3 L1452.9,173.3 L1453.4,177.2 L1453.9,181.0 L1454.4,184.6 L1454.9,188.1 L1455.4,191.4 L1455.9,194.4 L1456.4,197.1 L1456.9,199.5 L1457.4,201.6 L1457.9,203.2 L1458.4,204.5 L1458.9,205.2 L1459.4,205.3 L1459.9,203.9 L1460.4,201.4 L1460.9,198.1 L1461.4,194.1 L1461.9,189.8 L1462.4,185.4 L1462.9,181.1 L1463.4,177.3 L1463.9,174.2 L1464.4,172.1 L1464.9,171.4 L1465.4,173.7 L1465.9,178.0 L1466.4,184.0 L1466.9,191.4 L1467.4,199.8 L1467.9,208.9 L1468.4,218.4 L1468.9,227.8 L1469.4,236.8 L1469.9,245.2 L1470.4,252.6 L1470.9,258.5 L1471.4,262.7 L1471.9,264.9 L1472.4,263.3 L1472.9,259.7 L1473.4,254.4 L1473.9,247.9 L1474.4,240.2 L1474.9,231.9 L1475.4,223.1 L1475.9,214.2 L1476.4,205.4 L1476.9,197.1 L1477.4,189.6 L1477.9,183.0 L1478.4,177.8 L1478.9,174.3 L1479.4,173.0 L1479.9,176.3 L1480.4,182.5 L1480.9,191.1 L1481.4,201.8 L1481.9,214.2 L1482.4,228.1 L1482.9,243.1 L1483.4,258.8 L1483.9,274.8 L1484.4,291.0 L1484.9,306.8 L1485.4,322.0 L1485.9,336.2 L1486.4,349.1 L1486.9,360.3 L1487.4,369.5 L1487.9,376.3 L1488.4,380.5 L1488.9,380.5 L1489.4,377.5 L1489.9,372.7 L1490.4,366.8 L1490.9,359.9 L1491.4,352.7 L1491.9,345.5 L1492.4,338.8 L1492.9,332.9 L1493.4,328.3 L1493.9,325.5 L1494.4,325.4 L1494.9,327.6 L1495.4,331.0 L1495.9,335.5 L1496.4,340.9 L1496.9,347.1 L1497.4,354.0 L1497.9,361.3 L1498.4,368.9 L1498.9,376.6 L1499.4,384.2 L1499.9,391.7 L1500.4,398.8 L1500.9,405.4 L1501.4,411.2 L1501.9,416.3 L1502.4,420.2 L1502.9,423.0 L1503.4,424.5 L1503.9,423.6 L1504.4,421.9 L1504.9,419.5 L1505.4,416.3 L1505.9,412.5 L1506.4,408.0 L1506.9,403.0 L1507.4,397.4 L1507.9,391.4" fill="none" stroke="#303030" stroke-width="1.45" stroke-dasharray="6.3 4.7" stroke-linejoin="round"/>
<path d="M113.4,1019.6 L113.9,1004.0 L114.4,989.7 L114.9,976.8 L115.4,965.4 L115.9,955.8 L116.4,948.0 L116.9,942.1 L117.4,938.3 L117.9,937.2 L118.4,939.7 L118.9,943.6 L119.4,948.0 L119.9,951.8 L120.4,954.0 L120.9,952.7 L121.4,948.2 L121.9,941.9 L122.4,934.4 L122.9,926.7 L123.4,919.7 L123.9,914.2 L124.4,911.0 L124.9,912.9 L125.4,918.8 L125.9,927.8 L126.4,939.3 L126.9,953.0 L127.4,968.5 L127.9,985.2 L128.4,1002.8 L128.9,1020.7 L129.4,1038.7 L129.9,1056.2 L130.4,1072.8 L130.9,1088.0 L131.4,1101.5 L131.9,1112.7 L132.4,1121.3 L132.9,1126.9 L133.4,1127.9 L133.9,1125.0 L134.4,1120.1 L134.9,1113.6 L135.4,1105.7 L135.9,1096.8 L136.4,1087.1 L136.9,1076.9 L137.4,1066.5 L137.9,1056.2 L138.4,1046.3 L138.9,1037.1 L139.4,1028.9 L139.9,1022.0 L140.4,1016.6 L140.9,1013.1 L141.4,1012.0 L141.9,1012.9 L142.4,1014.4 L142.9,1016.3 L143.4,1018.6 L143.9,1020.9 L144.4,1023.2 L144.9,1025.3 L145.4,1026.9 L145.9,1028.0 L146.4,1027.5 L146.9,1023.7 L147.4,1017.6 L147.9,1009.4 L148.4,999.5 L148.9,988.1 L149.4,975.7 L149.9,962.5 L150.4,949.0 L150.9,935.3 L151.4,921.9 L151.9,909.0 L152.4,897.1 L152.9,886.4 L153.4,877.3 L153.9,870.1 L154.4,865.2 L154.9,863.1 L155.4,866.8 L155.9,873.7 L156.4,883.4 L156.9,895.6 L157.4,909.7 L157.9,925.5 L158.4,942.4 L158.9,960.0 L159.4,978.1 L159.9,996.1 L160.4,1013.6 L160.9,1030.3 L161.4,1045.6 L161.9,1059.4 L162.4,1071.0 L162.9,1080.1 L163.4,1086.3 L163.9,1088.9 L164.4,1086.4 L164.9,1081.7 L165.4,1075.2 L165.9,1067.4 L166.4,1058.8 L166.9,1049.9 L167.4,1041.1 L167.9,1032.9 L168.4,1025.8 L168.9,1020.2 L169.4,1016.6 L169.9,1016.0 L170.4,1018.2 L170.9,1021.8 L171.4,1026.6 L171.9,1032.5 L172.4,1039.2 L172.9,1046.6 L173.4,1054.4 L173.9,1062.4 L174.4,1070.5 L174.9,1078.5 L175.4,1086.1 L175.9,1093.2 L176.4,1099.6 L176.9,1105.0 L177.4,1109.3 L177.9,1112.3 L178.4,1113.7 L178.9,1112.8 L179.4,1111.2 L179.9,1109.2 L180.4,1106.5 L180.9,1103.4 L181.4,1099.9 L181.9,1096.0 L182.4,1091.7 L182.9,1087.2 L183.4,1082.4 L183.9,1077.4 L184.4,1072.2 L184.9,1067.0 L185.4,1061.6 L185.9,1056.3 L186.4,1051.0 L186.9,1045.7 L187.4,1040.6 L187.9,1034.9 L188.4,1028.4 L188.9,1021.3 L189.4,1013.5 L189.9,1005.2 L190.4,996.3 L190.9,987.0 L191.4,977.2 L191.9,967.1 L192.4,956.7 L192.9,946.0 L193.4,935.1 L193.9,924.0 L194.4,912.9 L194.9,901.7 L195.4,890.6 L195.9,879.5 L196.4,868.5 L196.9,857.7 L197.4,847.1 L197.9,836.8 L198.4,826.9 L198.9,817.3 L199.4,808.2 L199.9,799.5 L200.4,791.5 L200.9,784.0 L201.4,777.2 L201.9,771.1 L202.4,765.7 L202.9,761.2 L203.4,757.6 L203.9,754.9 L204.4,753.1 L204.9,752.4 L205.4,752.7 L205.9,753.3 L206.4,754.2 L206.9,755.3 L207.4,756.6 L207.9,758.1 L208.4,759.7 L208.9,761.4 L209.4,763.2 L209.9,765.1 L210.4,766.9 L210.9,768.7 L211.4,770.5 L211.9,772.2 L212.4,773.8 L212.9,775.5 L213.4,777.3 L213.9,779.2 L214.4,781.0 L214.9,782.8 L215.4,784.5 L215.9,786.0 L216.4,787.4 L216.9,788.6 L217.4,789.6 L217.9,790.6 L218.4,791.5 L218.9,792.4 L219.4,793.3 L219.9,794.2 L220.4,795.2 L220.9,796.3 L221.4,797.5 L221.9,798.8 L222.4,800.3 L222.9,802.3 L223.4,804.7 L223.9,807.3 L224.4,810.2 L224.9,813.3 L225.4,816.6 L225.9,820.0 L226.4,823.6 L226.9,827.2 L227.4,830.9 L227.9,834.7 L228.4,838.5 L228.9,842.2 L229.4,846.1 L229.9,850.1 L230.4,854.4 L230.9,858.7 L231.4,863.2 L231.9,867.8 L232.4,872.5 L232.9,877.3 L233.4,882.1 L233.9,886.9 L234.4,891.8 L234.9,896.8 L235.4,901.7 L235.9,906.6 L236.4,911.4 L236.9,916.3 L237.4,921.0 L237.9,925.7 L238.4,930.3 L238.9,934.8 L239.4,939.5 L239.9,944.3 L240.4,949.2 L240.9,954.0 L241.4,958.9 L241.9,963.7 L242.4,968.4 L242.9,973.1 L243.4,977.6 L243.9,981.9 L244.4,986.0 L244.9,989.8 L245.4,993.4 L245.9,996.7 L246.4,999.5 L246.9,1002.1 L247.4,1004.6 L247.9,1007.1 L248.4,1009.5 L248.9,1011.8 L249.4,1014.1 L249.9,1016.2 L250.4,1018.3 L250.9,1020.2 L251.4,1022.0 L251.9,1023.7 L252.4,1025.2 L252.9,1026.6 L253.4,1027.9 L253.9,1028.9 L254.4,1029.8 L254.9,1030.6 L255.4,1031.4 L255.9,1032.1 L256.4,1032.8 L256.9,1033.5 L257.4,1034.1 L257.9,1034.6 L258.4,1035.1 L258.9,1035.5 L259.4,1035.7 L259.9,1035.9 L260.4,1035.9 L260.9,1035.8 L261.4,1035.6 L261.9,1035.4 L262.4,1035.1 L262.9,1034.8 L263.4,1034.4 L263.9,1034.1 L264.4,1033.7 L264.9,1033.3 L265.4,1033.0 L265.9,1032.6 L266.4,1032.2 L266.9,1031.9 L267.4,1031.7 L267.9,1031.4 L268.4,1031.2 L268.9,1031.1 L269.4,1031.1 L269.9,1031.3 L270.4,1031.7 L270.9,1032.2 L271.4,1032.9 L271.9,1033.7 L272.4,1034.6 L272.9,1035.6 L273.4,1036.6 L273.9,1037.8 L274.4,1039.0 L274.9,1040.3 L275.4,1041.6 L275.9,1043.0 L276.4,1044.3 L276.9,1045.7 L277.4,1047.1 L277.9,1048.5 L278.4,1049.9 L278.9,1051.4 L279.4,1053.1 L279.9,1055.1 L280.4,1057.4 L280.9,1059.8 L281.4,1062.3 L281.9,1065.0 L282.4,1067.8 L282.9,1070.7 L283.4,1073.7 L283.9,1076.6 L284.4,1079.6 L284.9,1082.5 L285.4,1085.4 L285.9,1088.2 L286.4,1090.8 L286.9,1093.4 L287.4,1095.7 L287.9,1097.9 L288.4,1099.8 L288.9,1101.5 L289.4,1103.0 L289.9,1104.1 L290.4,1104.9 L290.9,1105.3 L291.4,1104.8 L291.9,1103.4 L292.4,1101.4 L292.9,1098.8 L293.4,1095.6 L293.9,1091.9 L294.4,1087.8 L294.9,1083.2 L295.4,1078.3 L295.9,1073.0 L296.4,1067.6 L296.9,1061.9 L297.4,1056.0 L297.9,1050.0 L298.4,1044.0 L298.9,1038.0 L299.4,1032.0 L299.9,1026.1 L300.4,1020.3 L300.9,1014.7 L301.4,1009.4 L301.9,1004.4 L302.4,999.7 L302.9,995.4 L303.4,991.5 L303.9,987.8 L304.4,984.0 L304.9,980.0 L305.4,976.0 L305.9,972.1 L306.4,968.4 L306.9,964.9 L307.4,961.7 L307.9,958.9 L308.4,956.7 L308.9,955.0 L309.4,954.1 L309.9,954.1 L310.4,954.6 L310.9,955.4 L311.4,956.4 L311.9,957.5 L312.4,958.8 L312.9,960.1 L313.4,961.5 L313.9,962.8 L314.4,964.1 L314.9,965.2 L315.4,966.2 L315.9,966.9 L316.4,967.3 L316.9,967.0 L317.4,965.1 L317.9,962.0 L318.4,957.9 L318.9,953.0 L319.4,947.4 L319.9,941.2 L320.4,934.6 L320.9,927.7 L321.4,920.8 L321.9,913.8 L322.4,907.1 L322.9,900.7 L323.4,894.8 L323.9,889.5 L324.4,885.0 L324.9,881.5 L325.4,879.0 L325.9,877.8 L326.4,878.8 L326.9,880.9 L327.4,884.0 L327.9,888.0 L328.4,892.9 L328.9,898.5 L329.4,904.8 L329.9,911.7 L330.4,919.1 L330.9,926.9 L331.4,935.0 L331.9,943.3 L332.4,951.8 L332.9,960.4 L333.4,968.9 L333.9,977.3 L334.4,985.4 L334.9,993.3 L335.4,1000.8 L335.9,1007.8 L336.4,1014.3 L336.9,1020.1 L337.4,1025.2 L337.9,1029.5 L338.4,1032.8 L338.9,1035.1 L339.4,1036.4 L339.9,1035.7 L340.4,1033.2 L340.9,1029.3 L341.4,1024.0 L341.9,1017.6 L342.4,1010.1 L342.9,1001.7 L343.4,992.6 L343.9,982.7 L344.4,972.4 L344.9,961.6 L345.4,950.6 L345.9,939.5 L346.4,928.4 L346.9,917.4 L347.4,906.6 L347.9,896.3 L348.4,886.5 L348.9,877.3 L349.4,869.0 L349.9,861.5 L350.4,855.1 L350.9,849.9 L351.4,846.0 L351.9,843.6 L352.4,843.5 L352.9,847.8 L353.4,855.1 L353.9,864.9 L354.4,876.8 L354.9,890.3 L355.4,904.8 L355.9,919.8 L356.4,934.9 L356.9,949.5 L357.4,963.2 L357.9,975.4 L358.4,985.7 L358.9,993.5 L359.4,998.3 L359.9,999.3 L360.4,998.0 L360.9,995.9 L361.4,993.2 L361.9,990.2 L362.4,987.1 L362.9,984.1 L363.4,981.5 L363.9,979.4 L364.4,978.2 L364.9,978.9 L365.4,982.6 L365.9,988.2 L366.4,995.6 L366.9,1004.1 L367.4,1013.3 L367.9,1022.8 L368.4,1032.1 L368.9,1040.8 L369.4,1048.3 L369.9,1054.4 L370.4,1058.5 L370.9,1059.8 L371.4,1057.6 L371.9,1053.6 L372.4,1048.3 L372.9,1042.4 L373.4,1036.4 L373.9,1030.9 L374.4,1026.5 L374.9,1023.8 L375.4,1023.8 L375.9,1025.5 L376.4,1028.3 L376.9,1031.9 L377.4,1035.9 L377.9,1040.1 L378.4,1044.3 L378.9,1048.0 L379.4,1051.2 L379.9,1053.4 L380.4,1054.4 L380.9,1053.8 L381.4,1052.6 L381.9,1051.0 L382.4,1049.0 L382.9,1046.5 L383.4,1043.7 L383.9,1040.6 L384.4,1037.2 L384.9,1033.5 L385.4,1029.7 L385.9,1025.7 L386.4,1021.1 L386.9,1013.2 L387.4,1002.3 L387.9,989.3 L388.4,974.7 L388.9,959.1 L389.4,943.3 L389.9,927.8 L390.4,913.3 L390.9,900.5 L391.4,890.0 L391.9,882.5 L392.4,878.5 L392.9,880.5 L393.4,885.9 L393.9,893.4 L394.4,902.2 L394.9,911.4 L395.4,920.1 L395.9,927.4 L396.4,932.4 L396.9,933.8 L397.4,930.3 L397.9,924.0 L398.4,915.6 L398.9,905.8 L399.4,895.6 L399.9,885.5 L400.4,876.4 L400.9,869.1 L401.4,864.3 L401.9,863.5 L402.4,867.2 L402.9,873.3 L403.4,881.7 L403.9,892.0 L404.4,904.0 L404.9,917.5 L405.4,932.1 L405.9,947.7 L406.4,963.9 L406.9,980.5 L407.4,997.3 L407.9,1013.8 L408.4,1030.1 L408.9,1045.6 L409.4,1060.2 L409.9,1073.7 L410.4,1085.7 L410.9,1096.0 L411.4,1104.3 L411.9,1110.4 L412.4,1114.0 L412.9,1111.9 L413.4,1103.4 L413.9,1090.4 L414.4,1073.7 L414.9,1054.2 L415.4,1032.7 L415.9,1009.9 L416.4,986.8 L416.9,964.2 L417.4,942.8 L417.9,923.6 L418.4,907.4 L418.9,895.0 L419.4,887.1 L419.9,886.2 L420.4,890.8 L420.9,898.2 L421.4,908.1 L421.9,920.1 L422.4,933.9 L422.9,949.2 L423.4,965.5 L423.9,982.6 L424.4,1000.1 L424.9,1017.7 L425.4,1035.0 L425.9,1051.6 L426.4,1067.3 L426.9,1081.7 L427.4,1094.4 L427.9,1105.1 L428.4,1113.5 L428.9,1119.2 L429.4,1121.7 L429.9,1123.9 L430.4,1125.9 L430.9,1127.8 L431.4,1129.6 L431.9,1131.2 L432.4,1132.6 L432.9,1133.9 L433.4,1135.0 L433.9,1135.9 L434.4,1136.6 L434.9,1137.0 L435.4,1135.4 L435.9,1127.8 L436.4,1115.4 L436.9,1098.9 L437.4,1079.0 L437.9,1056.3 L438.4,1031.4 L438.9,1005.1 L439.4,977.9 L439.9,950.7 L440.4,924.0 L440.9,898.4 L441.4,874.7 L441.9,853.5 L442.4,835.5 L442.9,821.3 L443.4,811.6 L443.9,807.6 L444.4,811.4 L444.9,818.4 L445.4,828.3 L445.9,840.4 L446.4,854.6 L446.9,870.2 L447.4,886.9 L447.9,904.2 L448.4,921.8 L448.9,939.2 L449.4,956.0 L449.9,971.7 L450.4,985.9 L450.9,998.2 L451.4,1008.2 L451.9,1015.5 L452.4,1019.5 L452.9,1017.1 L453.4,1009.6 L453.9,998.5 L454.4,984.6 L454.9,968.8 L455.4,951.9 L455.9,934.6 L456.4,917.8 L456.9,902.4 L457.4,889.1 L457.9,878.8 L458.4,872.3 L458.9,871.5 L459.4,876.6 L459.9,885.0 L460.4,895.9 L460.9,908.5 L461.4,922.0 L461.9,935.7 L462.4,948.7 L462.9,960.1 L463.4,969.3 L463.9,975.4 L464.4,976.6 L464.9,970.2 L465.4,959.0 L465.9,944.6 L466.4,928.5 L466.9,912.3 L467.4,897.7 L467.9,886.1 L468.4,879.3 L468.9,879.5 L469.4,883.4 L469.9,889.6 L470.4,897.4 L470.9,906.3 L471.4,915.7 L471.9,925.1 L472.4,933.9 L472.9,941.6 L473.4,947.5 L473.9,951.2 L474.4,951.3 L474.9,947.8 L475.4,942.2 L475.9,935.0 L476.4,927.0 L476.9,918.7 L477.4,910.7 L477.9,903.6 L478.4,898.2 L478.9,894.9 L479.4,895.2 L479.9,898.1 L480.4,902.8 L480.9,909.0 L481.4,916.6 L481.9,925.4 L482.4,935.2 L482.9,946.0 L483.4,957.4 L483.9,969.4 L484.4,981.7 L484.9,994.3 L485.4,1006.8 L485.9,1019.2 L486.4,1031.3 L486.9,1043.0 L487.4,1054.0 L487.9,1064.1 L488.4,1073.3 L488.9,1081.3 L489.4,1088.0 L489.9,1093.1 L490.4,1096.7 L490.9,1098.1 L491.4,1095.4 L491.9,1090.3 L492.4,1083.1 L492.9,1074.0 L493.4,1063.3 L493.9,1051.2 L494.4,1037.9 L494.9,1023.7 L495.4,1008.9 L495.9,993.6 L496.4,978.2 L496.9,962.8 L497.4,947.8 L497.9,933.3 L498.4,919.5 L498.9,906.8 L499.4,895.4 L499.9,885.4 L500.4,877.3 L500.9,871.1 L501.4,867.1 L501.9,866.9 L502.4,870.9 L502.9,877.6 L503.4,886.5 L503.9,897.3 L504.4,909.8 L504.9,923.6 L505.4,938.3 L505.9,953.8 L506.4,969.6 L506.9,985.5 L507.4,1001.1 L507.9,1016.1 L508.4,1030.3 L508.9,1043.2 L509.4,1054.6 L509.9,1064.2 L510.4,1071.6 L510.9,1076.6 L511.4,1078.3 L511.9,1076.9 L512.4,1074.4 L512.9,1071.0 L513.4,1066.9 L513.9,1062.0 L514.4,1056.7 L514.9,1051.0 L515.4,1045.0 L515.9,1038.9 L516.4,1032.9 L516.9,1027.1 L517.4,1021.5 L517.9,1016.5 L518.4,1012.0 L518.9,1008.2 L519.4,1005.3 L519.9,1003.3 L520.4,1002.7 L520.9,1002.9 L521.4,1003.2 L521.9,1003.6 L522.4,1004.1 L522.9,1004.8 L523.4,1005.4 L523.9,1006.2 L524.4,1006.9 L524.9,1007.8 L525.4,1008.6 L525.9,1009.4 L526.4,1010.2 L526.9,1011.0 L527.4,1011.7 L527.9,1012.4 L528.4,1013.0 L528.9,1013.5 L529.4,1013.9 L529.9,1014.2 L530.4,1014.3 L530.9,1014.2 L531.4,1013.6 L531.9,1012.6 L532.4,1011.3 L532.9,1009.7 L533.4,1007.7 L533.9,1005.5 L534.4,1003.0 L534.9,1000.3 L535.4,997.5 L535.9,994.4 L536.4,991.2 L536.9,987.9 L537.4,984.5 L537.9,981.1 L538.4,977.6 L538.9,974.1 L539.4,970.6 L539.9,967.2 L540.4,963.9 L540.9,960.6 L541.4,957.5 L541.9,954.6 L542.4,951.8 L542.9,949.2 L543.4,946.9 L543.9,944.8 L544.4,943.1 L544.9,941.6 L545.4,940.5 L545.9,939.8 L546.4,939.4 L546.9,939.5 L547.4,939.9 L547.9,940.6 L548.4,941.6 L548.9,943.0 L549.4,944.6 L549.9,946.4 L550.4,948.6 L550.9,951.0 L551.4,953.6 L551.9,956.5 L552.4,959.6 L552.9,962.9 L553.4,966.3 L553.9,970.0 L554.4,973.8 L554.9,977.8 L555.4,982.0 L555.9,986.3 L556.4,990.7 L556.9,995.2 L557.4,999.9 L557.9,1004.6 L558.4,1009.4 L558.9,1014.3 L559.4,1019.2 L559.9,1024.2 L560.4,1029.2 L560.9,1034.3 L561.4,1039.4 L561.9,1044.4 L562.4,1049.5 L562.9,1054.6 L563.4,1059.6 L563.9,1064.5 L564.4,1069.5 L564.9,1074.3 L565.4,1079.1 L565.9,1083.8 L566.4,1088.4 L566.9,1092.9 L567.4,1097.2 L567.9,1101.5 L568.4,1105.6 L568.9,1109.5 L569.4,1113.3 L569.9,1116.9 L570.4,1120.3 L570.9,1123.5 L571.4,1126.5 L571.9,1129.2 L572.4,1131.8 L572.9,1134.1 L573.4,1136.1 L573.9,1137.9 L574.4,1139.4 L574.9,1140.6 L575.4,1141.5 L575.9,1142.1 L576.4,1142.4 L576.9,1142.3 L577.4,1142.0 L577.9,1141.3 L578.4,1140.4 L578.9,1139.2 L579.4,1137.8 L579.9,1136.2 L580.4,1134.3 L580.9,1132.3 L581.4,1130.0 L581.9,1127.6 L582.4,1125.0 L582.9,1122.3 L583.4,1119.5 L583.9,1116.5 L584.4,1113.4 L584.9,1110.2 L585.4,1106.9 L585.9,1103.6 L586.4,1100.2 L586.9,1096.8 L587.4,1093.4 L587.9,1089.9 L588.4,1086.4 L588.9,1083.0 L589.4,1079.6 L589.9,1076.2 L590.4,1072.9 L590.9,1069.6 L591.4,1066.5 L591.9,1063.4 L592.4,1060.4 L592.9,1057.6 L593.4,1054.9 L593.9,1052.4 L594.4,1050.0 L594.9,1047.8 L595.4,1045.8 L595.9,1044.0 L596.4,1042.4 L596.9,1041.0 L597.4,1039.9 L597.9,1039.1 L598.4,1038.5 L598.9,1038.2 L599.4,1038.2 L599.9,1038.3 L600.4,1038.6 L600.9,1038.9 L601.4,1039.3 L601.9,1039.8 L602.4,1040.2 L602.9,1040.8 L603.4,1041.3 L603.9,1041.8 L604.4,1042.3 L604.9,1042.8 L605.4,1043.3 L605.9,1043.7 L606.4,1044.0 L606.9,1044.3 L607.4,1044.5 L607.9,1044.5 L608.4,1044.3 L608.9,1043.9 L609.4,1043.3 L609.9,1042.6 L610.4,1041.8 L610.9,1040.8 L611.4,1039.8 L611.9,1038.7 L612.4,1037.5 L612.9,1036.3 L613.4,1035.0 L613.9,1033.7 L614.4,1032.4 L614.9,1031.1 L615.4,1029.7 L615.9,1028.5 L616.4,1027.2 L616.9,1026.0 L617.4,1024.9 L617.9,1023.8 L618.4,1022.7 L618.9,1021.6 L619.4,1020.4 L619.9,1019.2 L620.4,1018.0 L620.9,1016.7 L621.4,1015.4 L621.9,1014.1 L622.4,1012.8 L622.9,1011.5 L623.4,1010.2 L623.9,1009.0 L624.4,1007.7 L624.9,1006.5 L625.4,1005.2 L625.9,1004.0 L626.4,1002.9 L626.9,1001.8 L627.4,1000.7 L627.9,999.7 L628.4,998.7 L628.9,997.8 L629.4,997.0 L629.9,996.3 L630.4,995.6 L630.9,995.0 L631.4,994.5 L631.9,994.1 L632.4,993.8 L632.9,993.5 L633.4,993.3 L633.9,993.1 L634.4,992.9 L634.9,992.7 L635.4,992.5 L635.9,992.3 L636.4,992.0 L636.9,991.8 L637.4,991.5 L637.9,991.1 L638.4,990.6 L638.9,989.9 L639.4,989.1 L639.9,988.2 L640.4,987.2 L640.9,986.2 L641.4,985.1 L641.9,984.0 L642.4,982.9 L642.9,981.8 L643.4,980.8 L643.9,979.9 L644.4,979.0 L644.9,978.3 L645.4,977.7 L645.9,977.3 L646.4,977.1 L646.9,977.5 L647.4,978.5 L647.9,980.0 L648.4,981.8 L648.9,983.8 L649.4,985.7 L649.9,987.4 L650.4,988.7 L650.9,989.5 L651.4,988.7 L651.9,985.2 L652.4,979.9 L652.9,972.9 L653.4,964.4 L653.9,954.7 L654.4,944.2 L654.9,932.9 L655.4,921.2 L655.9,909.4 L656.4,897.6 L656.9,886.1 L657.4,875.2 L657.9,865.2 L658.4,856.2 L658.9,848.5 L659.4,842.5 L659.9,838.2 L660.4,836.1 L660.9,838.2 L661.4,842.3 L661.9,848.1 L662.4,855.4 L662.9,864.0 L663.4,873.6 L663.9,884.1 L664.4,895.3 L664.9,906.8 L665.4,918.6 L665.9,930.4 L666.4,942.0 L666.9,953.2 L667.4,963.7 L667.9,973.4 L668.4,982.1 L668.9,989.5 L669.4,995.4 L669.9,999.5 L670.4,1002.4 L670.9,1005.0 L671.4,1007.3 L671.9,1009.4 L672.4,1011.5 L672.9,1013.7 L673.4,1016.0 L673.9,1018.5 L674.4,1021.2 L674.9,1024.1 L675.4,1027.1 L675.9,1030.2 L676.4,1033.2 L676.9,1036.3 L677.4,1039.4 L677.9,1042.3 L678.4,1045.1 L678.9,1047.7 L679.4,1050.1 L679.9,1052.3 L680.4,1054.1 L680.9,1055.6 L681.4,1056.7 L681.9,1057.4 L682.4,1056.7 L682.9,1054.4 L683.4,1050.8 L683.9,1046.1 L684.4,1040.7 L684.9,1034.6 L685.4,1028.2 L685.9,1021.7 L686.4,1015.1 L686.9,1008.9 L687.4,1003.2 L687.9,998.1 L688.4,994.0 L688.9,991.1 L689.4,989.5 L689.9,989.5 L690.4,989.7 L690.9,989.9 L691.4,990.3 L691.9,990.7 L692.4,991.2 L692.9,991.7 L693.4,992.3 L693.9,993.0 L694.4,993.7 L694.9,994.5 L695.4,995.4 L695.9,996.3 L696.4,997.2 L696.9,998.2 L697.4,999.3 L697.9,1001.1 L698.4,1004.3 L698.9,1008.4 L699.4,1013.0 L699.9,1017.8 L700.4,1022.2 L700.9,1026.0 L701.4,1028.6 L701.9,1029.7 L702.4,1029.0 L702.9,1027.5 L703.4,1025.4 L703.9,1022.9 L704.4,1020.1 L704.9,1017.3 L705.4,1014.6 L705.9,1012.2 L706.4,1010.1 L706.9,1008.6 L707.4,1007.9 L707.9,1008.6 L708.4,1010.0 L708.9,1011.9 L709.4,1014.5 L709.9,1017.5 L710.4,1021.1 L710.9,1025.0 L711.4,1029.4 L711.9,1034.1" fill="none" stroke="#929292" stroke-width="1.2" stroke-linejoin="round"/>
<path d="M113.0,1019.6 L113.5,1003.9 L114.0,989.6 L114.5,976.7 L115.0,965.3 L115.5,955.7 L116.0,947.8 L116.5,942.0 L117.0,938.2 L117.5,937.3 L118.0,939.7 L118.5,943.7 L119.0,948.1 L119.5,951.9 L120.0,954.0 L120.5,952.5 L121.0,948.0 L121.5,941.5 L122.0,934.0 L122.5,926.3 L123.0,919.3 L123.5,913.9 L124.0,910.9 L124.5,913.1 L125.0,919.3 L125.5,928.5 L126.0,940.2 L126.5,954.1 L127.0,969.7 L127.5,986.5 L128.0,1004.2 L128.5,1022.2 L129.0,1040.2 L129.5,1057.7 L130.0,1074.2 L130.5,1089.4 L131.0,1102.7 L131.5,1113.7 L132.0,1122.0 L132.5,1127.2 L133.0,1127.7 L133.5,1124.6 L134.0,1119.5 L134.5,1112.8 L135.0,1104.7 L135.5,1095.7 L136.0,1085.8 L136.5,1075.6 L137.0,1065.2 L137.5,1054.9 L138.0,1045.1 L138.5,1036.0 L139.0,1027.9 L139.5,1021.1 L140.0,1016.0 L140.5,1012.8 L141.0,1012.1 L141.5,1013.1 L142.0,1014.7 L142.5,1016.7 L143.0,1018.9 L143.5,1021.3 L144.0,1023.6 L144.5,1025.6 L145.0,1027.1 L145.5,1028.1 L146.0,1027.0 L146.5,1022.8 L147.0,1016.3 L147.5,1007.7 L148.0,997.5 L148.5,985.9 L149.0,973.2 L149.5,959.9 L150.0,946.3 L150.5,932.6 L151.0,919.2 L151.5,906.5 L152.0,894.8 L152.5,884.4 L153.0,875.6 L153.5,868.9 L154.0,864.4 L154.5,863.6 L155.0,868.0 L155.5,875.7 L156.0,886.0 L156.5,898.7 L157.0,913.3 L157.5,929.4 L158.0,946.5 L158.5,964.4 L159.0,982.5 L159.5,1000.5 L160.0,1017.9 L160.5,1034.3 L161.0,1049.3 L161.5,1062.6 L162.0,1073.6 L162.5,1082.0 L163.0,1087.4 L163.5,1088.4 L164.0,1085.3 L164.5,1080.0 L165.0,1073.1 L165.5,1065.1 L166.0,1056.3 L166.5,1047.4 L167.0,1038.7 L167.5,1030.7 L168.0,1024.0 L168.5,1018.9 L169.0,1016.0 L169.5,1016.5 L170.0,1019.2 L170.5,1023.2 L171.0,1028.3 L171.5,1034.5 L172.0,1041.5 L172.5,1049.0 L173.0,1056.9 L173.5,1065.1 L174.0,1073.2 L174.5,1081.1 L175.0,1088.6 L175.5,1095.4 L176.0,1101.5 L176.5,1106.6 L177.0,1110.5 L177.5,1113.0 L178.0,1113.4 L178.5,1112.3 L179.0,1110.6 L179.5,1108.3 L180.0,1105.5 L180.5,1102.2 L181.0,1098.5 L181.5,1094.5 L182.0,1090.1 L182.5,1085.4 L183.0,1080.5 L183.5,1075.5 L184.0,1070.2 L184.5,1064.9 L185.0,1059.6 L185.5,1054.2 L186.0,1048.9 L186.5,1043.7 L187.0,1038.4 L187.5,1032.4 L188.0,1025.6 L188.5,1018.2 L189.0,1010.2 L189.5,1001.6 L190.0,992.5 L190.5,983.0 L191.0,973.0 L191.5,962.8 L192.0,952.2 L192.5,941.4 L193.0,930.4 L193.5,919.3 L194.0,908.1 L194.5,896.9 L195.0,885.7 L195.5,874.6 L196.0,863.7 L196.5,852.9 L197.0,842.5 L197.5,832.3 L198.0,822.5 L198.5,813.1 L199.0,804.1 L199.5,795.7 L200.0,787.9 L200.5,780.7 L201.0,774.2 L201.5,768.5 L202.0,763.5 L202.5,759.4 L203.0,756.2 L203.5,753.9 L204.0,752.7 L204.5,752.5 L205.0,753.0 L205.5,753.7 L206.0,754.7 L206.5,755.9 L207.0,757.3 L207.5,758.9 L208.0,760.6 L208.5,762.4 L209.0,764.2 L209.5,766.0 L210.0,767.9 L210.5,769.7 L211.0,771.4 L211.5,773.0 L212.0,774.7 L212.5,776.5 L213.0,778.3 L213.5,780.2 L214.0,782.0 L214.5,783.7 L215.0,785.4 L215.5,786.8 L216.0,788.0 L216.5,789.1 L217.0,790.2 L217.5,791.1 L218.0,792.0 L218.5,792.9 L219.0,793.8 L219.5,794.8 L220.0,795.8 L220.5,796.9 L221.0,798.2 L221.5,799.6 L222.0,801.4 L222.5,803.7 L223.0,806.2 L223.5,809.0 L224.0,812.0 L224.5,815.2 L225.0,818.6 L225.5,822.1 L226.0,825.8 L226.5,829.5 L227.0,833.2 L227.5,837.0 L228.0,840.8 L228.5,844.5 L229.0,848.6 L229.5,852.7 L230.0,857.1 L230.5,861.5 L231.0,866.1 L231.5,870.8 L232.0,875.5 L232.5,880.3 L233.0,885.2 L233.5,890.1 L234.0,895.0 L234.5,899.9 L235.0,904.9 L235.5,909.8 L236.0,914.6 L236.5,919.4 L237.0,924.1 L237.5,928.7 L238.0,933.3 L238.5,938.0 L239.0,942.7 L239.5,947.6 L240.0,952.5 L240.5,957.3 L241.0,962.2 L241.5,967.0 L242.0,971.6 L242.5,976.2 L243.0,980.6 L243.5,984.7 L244.0,988.7 L244.5,992.4 L245.0,995.7 L245.5,998.7 L246.0,1001.3 L246.5,1003.9 L247.0,1006.4 L247.5,1008.8 L248.0,1011.2 L248.5,1013.5 L249.0,1015.6 L249.5,1017.7 L250.0,1019.7 L250.5,1021.5 L251.0,1023.3 L251.5,1024.8 L252.0,1026.3 L252.5,1027.6 L253.0,1028.7 L253.5,1029.6 L254.0,1030.4 L254.5,1031.2 L255.0,1031.9 L255.5,1032.7 L256.0,1033.4 L256.5,1034.0 L257.0,1034.5 L257.5,1035.0 L258.0,1035.4 L258.5,1035.7 L259.0,1035.9 L259.5,1035.9 L260.0,1035.8 L260.5,1035.6 L261.0,1035.4 L261.5,1035.1 L262.0,1034.8 L262.5,1034.5 L263.0,1034.1 L263.5,1033.8 L264.0,1033.4 L264.5,1033.0 L265.0,1032.7 L265.5,1032.3 L266.0,1032.0 L266.5,1031.7 L267.0,1031.5 L267.5,1031.3 L268.0,1031.1 L268.5,1031.0 L269.0,1031.3 L269.5,1031.6 L270.0,1032.1 L270.5,1032.8 L271.0,1033.5 L271.5,1034.4 L272.0,1035.4 L272.5,1036.5 L273.0,1037.6 L273.5,1038.8 L274.0,1040.1 L274.5,1041.4 L275.0,1042.8 L275.5,1044.2 L276.0,1045.6 L276.5,1047.0 L277.0,1048.4 L277.5,1049.7 L278.0,1051.2 L278.5,1052.9 L279.0,1054.9 L279.5,1057.1 L280.0,1059.5 L280.5,1062.1 L281.0,1064.8 L281.5,1067.6 L282.0,1070.4 L282.5,1073.4 L283.0,1076.3 L283.5,1079.3 L284.0,1082.2 L284.5,1085.1 L285.0,1087.9 L285.5,1090.6 L286.0,1093.2 L286.5,1095.5 L287.0,1097.7 L287.5,1099.7 L288.0,1101.4 L288.5,1102.9 L289.0,1104.0 L289.5,1104.8 L290.0,1105.3 L290.5,1104.8 L291.0,1103.5 L291.5,1101.5 L292.0,1098.9 L292.5,1095.7 L293.0,1092.1 L293.5,1087.9 L294.0,1083.4 L294.5,1078.4 L295.0,1073.2 L295.5,1067.7 L296.0,1062.0 L296.5,1056.1 L297.0,1050.1 L297.5,1044.1 L298.0,1038.1 L298.5,1032.0 L299.0,1026.1 L299.5,1020.4 L300.0,1014.8 L300.5,1009.4 L301.0,1004.4 L301.5,999.7 L302.0,995.3 L302.5,991.5 L303.0,987.8 L303.5,983.9 L304.0,979.9 L304.5,975.9 L305.0,972.0 L305.5,968.3 L306.0,964.8 L306.5,961.6 L307.0,958.9 L307.5,956.6 L308.0,955.0 L308.5,954.0 L309.0,954.1 L309.5,954.6 L310.0,955.4 L310.5,956.4 L311.0,957.6 L311.5,958.9 L312.0,960.2 L312.5,961.6 L313.0,962.9 L313.5,964.2 L314.0,965.3 L314.5,966.2 L315.0,966.9 L315.5,967.4 L316.0,966.8 L316.5,964.5 L317.0,961.0 L317.5,956.3 L318.0,950.7 L318.5,944.3 L319.0,937.4 L319.5,930.0 L320.0,922.4 L320.5,914.7 L321.0,907.1 L321.5,899.8 L322.0,893.0 L322.5,886.8 L323.0,881.4 L323.5,877.0 L324.0,873.8 L324.5,871.8 L325.0,872.0 L325.5,873.7 L326.0,876.4 L326.5,880.1 L327.0,884.8 L327.5,890.2 L328.0,896.3 L328.5,903.1 L329.0,910.5 L329.5,918.2 L330.0,926.4 L330.5,934.8 L331.0,943.5 L331.5,952.2 L332.0,960.9 L332.5,969.6 L333.0,978.2 L333.5,986.4 L334.0,994.4 L334.5,1001.9 L335.0,1008.9 L335.5,1015.4 L336.0,1021.1 L336.5,1026.1 L337.0,1030.2 L337.5,1033.4 L338.0,1035.5 L338.5,1036.5 L339.0,1035.3 L339.5,1032.5 L340.0,1028.3 L340.5,1022.8 L341.0,1016.1 L341.5,1008.4 L342.0,999.8 L342.5,990.4 L343.0,980.4 L343.5,969.9 L344.0,959.1 L344.5,948.0 L345.0,936.9 L345.5,925.7 L346.0,914.7 L346.5,904.1 L347.0,893.8 L347.5,884.1 L348.0,875.1 L348.5,867.0 L349.0,859.8 L349.5,853.7 L350.0,848.8 L350.5,845.2 L351.0,843.2 L351.5,844.3 L352.0,849.5 L352.5,857.6 L353.0,868.1 L353.5,880.5 L354.0,894.3 L354.5,909.1 L355.0,924.2 L355.5,939.2 L356.0,953.7 L356.5,967.0 L357.0,978.7 L357.5,988.3 L358.0,995.3 L358.5,999.2 L359.0,999.0 L359.5,997.4 L360.0,995.1 L360.5,992.3 L361.0,989.2 L361.5,986.1 L362.0,983.2 L362.5,980.7 L363.0,978.9 L363.5,978.0 L364.0,979.9 L364.5,984.3 L365.0,990.6 L365.5,998.4 L366.0,1007.2 L366.5,1016.6 L367.0,1026.1 L367.5,1035.3 L368.0,1043.6 L368.5,1050.7 L369.0,1056.1 L369.5,1059.4 L370.0,1059.3 L370.5,1056.3 L371.0,1051.8 L371.5,1046.1 L372.0,1040.1 L372.5,1034.2 L373.0,1029.1 L373.5,1025.2 L374.0,1023.4 L374.5,1024.3 L375.0,1026.5 L375.5,1029.7 L376.0,1033.4 L376.5,1037.6 L377.0,1041.8 L377.5,1045.9 L378.0,1049.4 L378.5,1052.2 L379.0,1054.0 L379.5,1054.2 L380.0,1053.4 L380.5,1052.0 L381.0,1050.2 L381.5,1048.0 L382.0,1045.3 L382.5,1042.4 L383.0,1039.1 L383.5,1035.6 L384.0,1031.8 L384.5,1027.9 L385.0,1023.8 L385.5,1017.9 L386.0,1008.6 L386.5,996.6 L387.0,982.7 L387.5,967.5 L388.0,951.7 L388.5,935.9 L389.0,920.8 L389.5,907.0 L390.0,895.2 L390.5,886.0 L391.0,880.1 L391.5,878.9 L392.0,882.8 L392.5,889.4 L393.0,897.6 L393.5,906.8 L394.0,915.9 L394.5,924.0 L395.0,930.3 L395.5,933.8 L396.0,932.4 L396.5,927.4 L397.0,919.9 L397.5,910.6 L398.0,900.5 L398.5,890.2 L399.0,880.6 L399.5,872.3 L400.0,866.2 L400.5,863.0 L401.0,865.2 L401.5,870.2 L402.0,877.6 L402.5,887.1 L403.0,898.4 L403.5,911.3 L404.0,925.5 L404.5,940.7 L405.0,956.7 L405.5,973.2 L406.0,989.9 L406.5,1006.7 L407.0,1023.1 L407.5,1039.0 L408.0,1054.1 L408.5,1068.1 L409.0,1080.8 L409.5,1091.9 L410.0,1101.1 L410.5,1108.2 L411.0,1112.9 L411.5,1113.8 L412.0,1107.4 L412.5,1096.1 L413.0,1080.8 L413.5,1062.3 L414.0,1041.4 L414.5,1018.9 L415.0,995.8 L415.5,972.8 L416.0,950.8 L416.5,930.7 L417.0,913.2 L417.5,899.1 L418.0,889.5 L418.5,885.2 L419.0,888.7 L419.5,895.2 L420.0,904.2 L420.5,915.6 L421.0,928.8 L421.5,943.6 L422.0,959.7 L422.5,976.6 L423.0,994.0 L423.5,1011.6 L424.0,1029.1 L424.5,1046.0 L425.0,1062.1 L425.5,1077.0 L426.0,1090.4 L426.5,1101.8 L427.0,1111.1 L427.5,1117.7 L428.0,1121.0 L428.5,1123.2 L429.0,1125.3 L429.5,1127.2 L430.0,1129.0 L430.5,1130.7 L431.0,1132.2 L431.5,1133.5 L432.0,1134.7 L432.5,1135.7 L433.0,1136.4 L433.5,1136.9 L434.0,1136.7 L434.5,1130.5 L435.0,1119.4 L435.5,1103.9 L436.0,1084.8 L436.5,1062.8 L437.0,1038.3 L437.5,1012.3 L438.0,985.2 L438.5,957.9 L439.0,930.9 L439.5,904.9 L440.0,880.6 L440.5,858.6 L441.0,839.7 L441.5,824.4 L442.0,813.5 L442.5,807.7 L443.0,810.2 L443.5,816.5 L444.0,825.7 L444.5,837.4 L445.0,851.2 L445.5,866.5 L446.0,883.1 L446.5,900.3 L447.0,918.0 L447.5,935.5 L448.0,952.5 L448.5,968.5 L449.0,983.1 L449.5,995.9 L450.0,1006.4 L450.5,1014.2 L451.0,1019.0 L451.5,1018.0 L452.0,1011.3 L452.5,1000.9 L453.0,987.4 L453.5,971.9 L454.0,955.0 L454.5,937.7 L455.0,920.7 L455.5,905.0 L456.0,891.2 L456.5,880.3 L457.0,873.1 L457.5,871.1 L458.0,875.5 L458.5,883.4 L459.0,894.0 L459.5,906.5 L460.0,920.0 L460.5,933.7 L461.0,946.9 L461.5,958.6 L462.0,968.2 L462.5,974.7 L463.0,977.0 L463.5,971.4 L464.0,960.7 L464.5,946.5 L465.0,930.5 L465.5,914.2 L466.0,899.3 L466.5,887.3 L467.0,879.8 L467.5,879.2 L468.0,882.9 L468.5,888.9 L469.0,896.6 L469.5,905.4 L470.0,914.8 L470.5,924.3 L471.0,933.2 L471.5,940.9 L472.0,947.1 L472.5,951.0 L473.0,951.4 L473.5,948.2 L474.0,942.7 L474.5,935.6 L475.0,927.6 L475.5,919.2 L476.0,911.2 L476.5,904.0 L477.0,898.5 L477.5,895.0 L478.0,895.1 L478.5,898.0 L479.0,902.5 L479.5,908.7 L480.0,916.2 L480.5,925.0 L481.0,934.9 L481.5,945.6 L482.0,957.0 L482.5,969.0 L483.0,981.4 L483.5,993.9 L484.0,1006.5 L484.5,1019.0 L485.0,1031.1 L485.5,1042.8 L486.0,1053.8 L486.5,1064.0 L487.0,1073.2 L487.5,1081.2 L488.0,1087.9 L488.5,1093.1 L489.0,1096.7 L489.5,1098.1 L490.0,1095.4 L490.5,1090.2 L491.0,1082.9 L491.5,1073.8 L492.0,1063.0 L492.5,1050.8 L493.0,1037.5 L493.5,1023.3 L494.0,1008.4 L494.5,993.1 L495.0,977.7 L495.5,962.3 L496.0,947.2 L496.5,932.6 L497.0,918.9 L497.5,906.2 L498.0,894.8 L498.5,885.0 L499.0,876.9 L499.5,870.8 L500.0,867.0 L500.5,867.0 L501.0,871.3 L501.5,878.1 L502.0,887.2 L502.5,898.2 L503.0,910.8 L503.5,924.7 L504.0,939.6 L504.5,955.2 L505.0,971.0 L505.5,986.9 L506.0,1002.5 L506.5,1017.5 L507.0,1031.6 L507.5,1044.4 L508.0,1055.7 L508.5,1065.1 L509.0,1072.3 L509.5,1077.0 L510.0,1078.2 L510.5,1076.7 L511.0,1074.1 L511.5,1070.6 L512.0,1066.3 L512.5,1061.4 L513.0,1055.9 L513.5,1050.2 L514.0,1044.2 L514.5,1038.1 L515.0,1032.1 L515.5,1026.2 L516.0,1020.8 L516.5,1015.7 L517.0,1011.3 L517.5,1007.7 L518.0,1004.9 L518.5,1003.1 L519.0,1002.7 L519.5,1002.9 L520.0,1003.3 L520.5,1003.7 L521.0,1004.2 L521.5,1004.9 L522.0,1005.6 L522.5,1006.3 L523.0,1007.1 L523.5,1007.9 L524.0,1008.7 L524.5,1009.5 L525.0,1010.3 L525.5,1011.1 L526.0,1011.8 L526.5,1012.5 L527.0,1013.1 L527.5,1013.6 L528.0,1013.9 L528.5,1014.2 L529.0,1014.3 L529.5,1014.1 L530.0,1013.4 L530.5,1012.4 L531.0,1011.0 L531.5,1009.2 L532.0,1007.2 L532.5,1004.9 L533.0,1002.4 L533.5,999.7 L534.0,996.7 L534.5,993.6 L535.0,990.4 L535.5,987.1 L536.0,983.6 L536.5,980.2 L537.0,976.7 L537.5,973.2 L538.0,969.7 L538.5,966.3 L539.0,963.0 L539.5,959.8 L540.0,956.7 L540.5,953.8 L541.0,951.1 L541.5,948.6 L542.0,946.3 L542.5,944.3 L543.0,942.6 L543.5,941.3 L544.0,940.3 L544.5,939.6 L545.0,939.4 L545.5,939.6 L546.0,940.1 L546.5,940.9 L547.0,942.0 L547.5,943.4 L548.0,945.1 L548.5,947.1 L549.0,949.3 L549.5,951.8 L550.0,954.5 L550.5,957.5 L551.0,960.6 L551.5,964.0 L552.0,967.6 L552.5,971.3 L553.0,975.2 L553.5,979.3 L554.0,983.5 L554.5,987.8 L555.0,992.3 L555.5,996.9 L556.0,1001.6 L556.5,1006.3 L557.0,1011.2 L557.5,1016.1 L558.0,1021.1 L558.5,1026.1 L559.0,1031.2 L559.5,1036.2 L560.0,1041.3 L560.5,1046.4 L561.0,1051.5 L561.5,1056.5 L562.0,1061.5 L562.5,1066.5 L563.0,1071.4 L563.5,1076.2 L564.0,1081.0 L564.5,1085.7 L565.0,1090.2 L565.5,1094.7 L566.0,1099.0 L566.5,1103.2 L567.0,1107.2 L567.5,1111.1 L568.0,1114.8 L568.5,1118.3 L569.0,1121.7 L569.5,1124.8 L570.0,1127.7 L570.5,1130.4 L571.0,1132.8 L571.5,1135.0 L572.0,1136.9 L572.5,1138.6 L573.0,1140.0 L573.5,1141.0 L574.0,1141.8 L574.5,1142.3 L575.0,1142.4 L575.5,1142.2 L576.0,1141.7 L576.5,1140.9 L577.0,1139.9 L577.5,1138.6 L578.0,1137.1 L578.5,1135.3 L579.0,1133.4 L579.5,1131.2 L580.0,1128.9 L580.5,1126.4 L581.0,1123.7 L581.5,1120.9 L582.0,1118.0 L582.5,1114.9 L583.0,1111.8 L583.5,1108.6 L584.0,1105.2 L584.5,1101.9 L585.0,1098.5 L585.5,1095.0 L586.0,1091.6 L586.5,1088.1 L587.0,1084.6 L587.5,1081.2 L588.0,1077.8 L588.5,1074.4 L589.0,1071.1 L589.5,1067.9 L590.0,1064.8 L590.5,1061.8 L591.0,1058.9 L591.5,1056.1 L592.0,1053.5 L592.5,1051.0 L593.0,1048.7 L593.5,1046.6 L594.0,1044.7 L594.5,1043.0 L595.0,1041.6 L595.5,1040.3 L596.0,1039.4 L596.5,1038.7 L597.0,1038.3 L597.5,1038.2 L598.0,1038.3 L598.5,1038.5 L599.0,1038.8 L599.5,1039.1 L600.0,1039.6 L600.5,1040.0 L601.0,1040.5 L601.5,1041.1 L602.0,1041.6 L602.5,1042.1 L603.0,1042.6 L603.5,1043.1 L604.0,1043.5 L604.5,1043.9 L605.0,1044.2 L605.5,1044.4 L606.0,1044.6 L606.5,1044.4 L607.0,1044.0 L607.5,1043.5 L608.0,1042.9 L608.5,1042.1 L609.0,1041.2 L609.5,1040.2 L610.0,1039.1 L610.5,1037.9 L611.0,1036.7 L611.5,1035.5 L612.0,1034.2 L612.5,1032.8 L613.0,1031.5 L613.5,1030.2 L614.0,1028.9 L614.5,1027.6 L615.0,1026.4 L615.5,1025.2 L616.0,1024.2 L616.5,1023.1 L617.0,1021.9 L617.5,1020.8 L618.0,1019.6 L618.5,1018.3 L619.0,1017.1 L619.5,1015.8 L620.0,1014.5 L620.5,1013.2 L621.0,1011.9 L621.5,1010.6 L622.0,1009.3 L622.5,1008.1 L623.0,1006.8 L623.5,1005.6 L624.0,1004.4 L624.5,1003.2 L625.0,1002.1 L625.5,1001.0 L626.0,1000.0 L626.5,999.0 L627.0,998.1 L627.5,997.2 L628.0,996.4 L628.5,995.7 L629.0,995.1 L629.5,994.6 L630.0,994.2 L630.5,993.9 L631.0,993.6 L631.5,993.4 L632.0,993.1 L632.5,992.9 L633.0,992.7 L633.5,992.5 L634.0,992.3 L634.5,992.1 L635.0,991.8 L635.5,991.6 L636.0,991.2 L636.5,990.7 L637.0,990.1 L637.5,989.3 L638.0,988.4 L638.5,987.4 L639.0,986.4 L639.5,985.3 L640.0,984.2 L640.5,983.1 L641.0,982.0 L641.5,981.0 L642.0,980.0 L642.5,979.2 L643.0,978.4 L643.5,977.8 L644.0,977.4 L644.5,977.1 L645.0,977.3 L645.5,978.3 L646.0,979.8 L646.5,981.5 L647.0,983.5 L647.5,985.4 L648.0,987.1 L648.5,988.5 L649.0,989.4 L649.5,989.0 L650.0,985.8 L650.5,980.7 L651.0,973.9 L651.5,965.6 L652.0,956.0 L652.5,945.5 L653.0,934.3 L653.5,922.6 L654.0,910.7 L654.5,898.9 L655.0,887.4 L655.5,876.4 L656.0,866.2 L656.5,857.1 L657.0,849.2 L657.5,843.0 L658.0,838.5 L658.5,836.1 L659.0,838.0 L659.5,841.9 L660.0,847.6 L660.5,854.8 L661.0,863.3 L661.5,872.9 L662.0,883.3 L662.5,894.4 L663.0,906.0 L663.5,917.8 L664.0,929.7 L664.5,941.3 L665.0,952.5 L665.5,963.2 L666.0,972.9 L666.5,981.7 L667.0,989.2 L667.5,995.2 L668.0,999.3 L668.5,1002.3 L669.0,1004.9 L669.5,1007.2 L670.0,1009.3 L670.5,1011.5 L671.0,1013.6 L671.5,1015.9 L672.0,1018.4 L672.5,1021.2 L673.0,1024.0 L673.5,1027.0 L674.0,1030.1 L674.5,1033.2 L675.0,1036.3 L675.5,1039.4 L676.0,1042.3 L676.5,1045.1 L677.0,1047.8 L677.5,1050.2 L678.0,1052.3 L678.5,1054.2 L679.0,1055.6 L679.5,1056.8 L680.0,1057.4 L680.5,1056.7 L681.0,1054.3 L681.5,1050.6 L682.0,1045.9 L682.5,1040.5 L683.0,1034.4 L683.5,1028.0 L684.0,1021.4 L684.5,1014.8 L685.0,1008.6 L685.5,1002.9 L686.0,997.9 L686.5,993.8 L687.0,991.0 L687.5,989.5 L688.0,989.5 L688.5,989.7 L689.0,990.0 L689.5,990.3 L690.0,990.7 L690.5,991.2 L691.0,991.8 L691.5,992.4 L692.0,993.1 L692.5,993.8 L693.0,994.6 L693.5,995.5 L694.0,996.4 L694.5,997.3 L695.0,998.4 L695.5,999.4 L696.0,1001.4 L696.5,1004.7 L697.0,1008.9 L697.5,1013.6 L698.0,1018.3 L698.5,1022.7 L699.0,1026.4 L699.5,1028.9 L700.0,1029.7 L700.5,1028.8 L701.0,1027.2 L701.5,1025.0 L702.0,1022.5 L702.5,1019.7 L703.0,1016.9 L703.5,1014.2 L704.0,1011.8 L704.5,1009.8 L705.0,1008.5 L705.5,1008.0 L706.0,1008.8 L706.5,1010.2 L707.0,1012.3 L707.5,1015.0 L708.0,1018.1 L708.5,1021.7 L709.0,1025.8 L709.5,1030.2 L710.0,1035.0" fill="none" stroke="#303030" stroke-width="1.45" stroke-dasharray="7.7 3.9" stroke-linejoin="round"/>
<path d="M912.5,903.4 L913.0,919.9 L913.5,935.3 L914.0,949.4 L914.5,961.6 L915.0,971.7 L915.5,979.1 L916.0,983.6 L916.5,983.5 L917.0,979.6 L917.5,973.4 L918.0,965.4 L918.5,956.1 L919.0,946.0 L919.5,935.6 L920.0,925.5 L920.5,915.9 L921.0,907.6 L921.5,901.0 L922.0,896.5 L922.5,895.0 L923.0,896.7 L923.5,899.9 L924.0,904.4 L924.5,910.1 L925.0,916.9 L925.5,924.6 L926.0,933.1 L926.5,942.3 L927.0,952.1 L927.5,962.3 L928.0,972.7 L928.5,983.3 L929.0,994.0 L929.5,1004.5 L930.0,1014.8 L930.5,1024.7 L931.0,1034.1 L931.5,1042.9 L932.0,1050.9 L932.5,1058.0 L933.0,1064.1 L933.5,1069.1 L934.0,1072.7 L934.5,1075.0 L935.0,1075.0 L935.5,1072.2 L936.0,1067.8 L936.5,1061.9 L937.0,1054.7 L937.5,1046.6 L938.0,1037.8 L938.5,1028.5 L939.0,1019.0 L939.5,1009.5 L940.0,1000.2 L940.5,991.5 L941.0,983.6 L941.5,976.6 L942.0,971.0 L942.5,966.9 L943.0,964.5 L943.5,966.2 L944.0,971.5 L944.5,979.5 L945.0,989.7 L945.5,1001.9 L946.0,1015.4 L946.5,1030.0 L947.0,1045.2 L947.5,1060.5 L948.0,1075.7 L948.5,1090.2 L949.0,1103.6 L949.5,1115.6 L950.0,1125.6 L950.5,1133.4 L951.0,1138.4 L951.5,1139.2 L952.0,1133.7 L952.5,1124.3 L953.0,1111.8 L953.5,1097.2 L954.0,1081.4 L954.5,1065.2 L955.0,1049.5 L955.5,1035.4 L956.0,1023.6 L956.5,1015.0 L957.0,1010.7 L957.5,1013.0 L958.0,1018.8 L958.5,1027.2 L959.0,1037.5 L959.5,1049.0 L960.0,1060.9 L960.5,1072.6 L961.0,1083.3 L961.5,1092.5 L962.0,1099.2 L962.5,1103.0 L963.0,1101.7 L963.5,1097.4 L964.0,1091.0 L964.5,1082.8 L965.0,1073.4 L965.5,1063.1 L966.0,1052.3 L966.5,1041.4 L967.0,1030.9 L967.5,1021.1 L968.0,1012.5 L968.5,1005.5 L969.0,1000.5 L969.5,996.4 L970.0,992.3 L970.5,988.4 L971.0,984.7 L971.5,981.2 L972.0,978.2 L972.5,975.5 L973.0,973.4 L973.5,971.9 L974.0,971.1 L974.5,972.6 L975.0,976.4 L975.5,982.0 L976.0,988.7 L976.5,996.0 L977.0,1003.4 L977.5,1010.2 L978.0,1016.0 L978.5,1020.1 L979.0,1022.2 L979.5,1017.7 L980.0,1008.1 L980.5,994.4 L981.0,978.0 L981.5,959.9 L982.0,941.6 L982.5,924.1 L983.0,908.7 L983.5,896.6 L984.0,888.9 L984.5,888.6 L985.0,896.7 L985.5,909.9 L986.0,926.2 L986.5,943.6 L987.0,960.2 L987.5,973.9 L988.0,982.9 L988.5,984.4 L989.0,979.9 L989.5,972.5 L990.0,962.7 L990.5,951.2 L991.0,938.6 L991.5,925.5 L992.0,912.5 L992.5,900.3 L993.0,889.5 L993.5,880.7 L994.0,874.5 L994.5,871.7 L995.0,874.3 L995.5,879.3 L996.0,886.3 L996.5,895.1 L997.0,905.4 L997.5,916.9 L998.0,929.3 L998.5,942.2 L999.0,955.5 L999.5,968.7 L1000.0,981.6 L1000.5,993.8 L1001.0,1005.2 L1001.5,1015.3 L1002.0,1024.0 L1002.5,1030.8 L1003.0,1035.4 L1003.5,1037.5 L1004.0,1034.8 L1004.5,1029.8 L1005.0,1022.7 L1005.5,1013.9 L1006.0,1003.7 L1006.5,992.4 L1007.0,980.4 L1007.5,968.0 L1008.0,955.4 L1008.5,943.2 L1009.0,931.5 L1009.5,920.7 L1010.0,911.1 L1010.5,903.0 L1011.0,896.9 L1011.5,892.9 L1012.0,891.8 L1012.5,893.2 L1013.0,896.0 L1013.5,900.2 L1014.0,905.7 L1014.5,912.3 L1015.0,920.0 L1015.5,928.7 L1016.0,938.2 L1016.5,948.5 L1017.0,959.5 L1017.5,971.1 L1018.0,983.2 L1018.5,995.6 L1019.0,1008.4 L1019.5,1021.3 L1020.0,1034.4 L1020.5,1047.4 L1021.0,1060.4 L1021.5,1073.2 L1022.0,1085.6 L1022.5,1097.7 L1023.0,1109.3 L1023.5,1120.3 L1024.0,1130.7 L1024.5,1140.2 L1025.0,1148.9 L1025.5,1156.6 L1026.0,1163.3 L1026.5,1168.8 L1027.0,1173.0 L1027.5,1175.8 L1028.0,1177.3 L1028.5,1177.2 L1029.0,1176.1 L1029.5,1174.0 L1030.0,1171.0 L1030.5,1167.1 L1031.0,1162.5 L1031.5,1157.0 L1032.0,1150.8 L1032.5,1143.9 L1033.0,1136.4 L1033.5,1128.3 L1034.0,1119.7 L1034.5,1110.6 L1035.0,1101.1 L1035.5,1091.1 L1036.0,1080.9 L1036.5,1070.3 L1037.0,1059.5 L1037.5,1048.5 L1038.0,1037.3 L1038.5,1026.1 L1039.0,1014.8 L1039.5,1003.5 L1040.0,992.2 L1040.5,981.0 L1041.0,970.0 L1041.5,959.2 L1042.0,948.6 L1042.5,938.2 L1043.0,928.3 L1043.5,918.7 L1044.0,909.5 L1044.5,900.8 L1045.0,892.7 L1045.5,885.1 L1046.0,878.1 L1046.5,871.8 L1047.0,866.3 L1047.5,861.5 L1048.0,857.5 L1048.5,854.4 L1049.0,852.2 L1049.5,851.0 L1050.0,850.8 L1050.5,851.8 L1051.0,853.4 L1051.5,855.6 L1052.0,858.2 L1052.5,861.3 L1053.0,864.8 L1053.5,868.6 L1054.0,872.7 L1054.5,877.1 L1055.0,881.7 L1055.5,886.4 L1056.0,891.2 L1056.5,896.1 L1057.0,901.0 L1057.5,905.8 L1058.0,910.6 L1058.5,915.2 L1059.0,919.6 L1059.5,923.7 L1060.0,927.6 L1060.5,931.3 L1061.0,935.1 L1061.5,939.0 L1062.0,943.0 L1062.5,947.0 L1063.0,950.9 L1063.5,954.7 L1064.0,958.3 L1064.5,961.7 L1065.0,964.9 L1065.5,967.7 L1066.0,970.2 L1066.5,972.1 L1067.0,973.8 L1067.5,975.5 L1068.0,977.1 L1068.5,978.6 L1069.0,980.1 L1069.5,981.5 L1070.0,982.8 L1070.5,984.1 L1071.0,985.2 L1071.5,986.3 L1072.0,987.2 L1072.5,988.1 L1073.0,988.8 L1073.5,989.4 L1074.0,989.8 L1074.5,990.0 L1075.0,990.3 L1075.5,990.4 L1076.0,990.6 L1076.5,990.7 L1077.0,990.8 L1077.5,990.9 L1078.0,991.0 L1078.5,991.1 L1079.0,991.2 L1079.5,991.3 L1080.0,991.5 L1080.5,991.6 L1081.0,991.7 L1081.5,991.9 L1082.0,992.1 L1082.5,992.4 L1083.0,992.8 L1083.5,993.3 L1084.0,993.9 L1084.5,994.5 L1085.0,995.2 L1085.5,996.0 L1086.0,996.9 L1086.5,997.8 L1087.0,998.8 L1087.5,999.8 L1088.0,1000.9 L1088.5,1002.0 L1089.0,1003.2 L1089.5,1004.4 L1090.0,1005.7 L1090.5,1007.0 L1091.0,1008.3 L1091.5,1010.0 L1092.0,1012.1 L1092.5,1014.3 L1093.0,1016.9 L1093.5,1019.6 L1094.0,1022.4 L1094.5,1025.4 L1095.0,1028.5 L1095.5,1031.7 L1096.0,1034.9 L1096.5,1038.0 L1097.0,1041.2 L1097.5,1044.3 L1098.0,1047.3 L1098.5,1050.2 L1099.0,1053.0 L1099.5,1055.8 L1100.0,1058.9 L1100.5,1062.1 L1101.0,1065.4 L1101.5,1068.7 L1102.0,1072.1 L1102.5,1075.5 L1103.0,1078.9 L1103.5,1082.3 L1104.0,1085.5 L1104.5,1088.7 L1105.0,1091.7 L1105.5,1094.6 L1106.0,1097.3 L1106.5,1099.8 L1107.0,1102.0 L1107.5,1104.0 L1108.0,1105.7 L1108.5,1107.0 L1109.0,1108.0 L1109.5,1108.5 L1110.0,1108.4 L1110.5,1107.9 L1111.0,1107.1 L1111.5,1106.0 L1112.0,1104.7 L1112.5,1103.2 L1113.0,1101.5 L1113.5,1099.6 L1114.0,1097.6 L1114.5,1095.5 L1115.0,1093.3 L1115.5,1091.0 L1116.0,1088.6 L1116.5,1086.2 L1117.0,1083.8 L1117.5,1081.5 L1118.0,1079.2 L1118.5,1076.9 L1119.0,1074.8 L1119.5,1072.8 L1120.0,1070.9 L1120.5,1069.1 L1121.0,1067.6 L1121.5,1066.3 L1122.0,1065.2 L1122.5,1064.4 L1123.0,1063.8 L1123.5,1063.6 L1124.0,1064.2 L1124.5,1065.3 L1125.0,1067.0 L1125.5,1069.1 L1126.0,1071.5 L1126.5,1074.2 L1127.0,1077.1 L1127.5,1080.2 L1128.0,1083.4 L1128.5,1086.6 L1129.0,1089.7 L1129.5,1092.7 L1130.0,1095.6 L1130.5,1098.2 L1131.0,1100.4 L1131.5,1102.3 L1132.0,1103.7 L1132.5,1104.6 L1133.0,1104.2 L1133.5,1101.3 L1134.0,1096.7 L1134.5,1090.5 L1135.0,1083.0 L1135.5,1074.4 L1136.0,1064.9 L1136.5,1054.8 L1137.0,1044.1 L1137.5,1033.2 L1138.0,1022.3 L1138.5,1011.6 L1139.0,1001.3 L1139.5,991.6 L1140.0,982.7 L1140.5,974.9 L1141.0,968.3 L1141.5,963.3 L1142.0,959.9 L1142.5,958.9 L1143.0,960.8 L1143.5,964.1 L1144.0,968.6 L1144.5,974.2 L1145.0,980.9 L1145.5,988.3 L1146.0,996.5 L1146.5,1005.2 L1147.0,1014.4 L1147.5,1023.9 L1148.0,1033.5 L1148.5,1043.2 L1149.0,1052.7 L1149.5,1062.0 L1150.0,1070.9 L1150.5,1079.3 L1151.0,1087.0 L1151.5,1094.0 L1152.0,1099.9 L1152.5,1104.9 L1153.0,1108.6 L1153.5,1110.9 L1154.0,1111.2 L1154.5,1108.7 L1155.0,1104.1 L1155.5,1097.7 L1156.0,1089.7 L1156.5,1080.2 L1157.0,1069.3 L1157.5,1057.3 L1158.0,1044.3 L1158.5,1030.5 L1159.0,1016.0 L1159.5,1001.1 L1160.0,985.8 L1160.5,970.4 L1161.0,955.0 L1161.5,939.7 L1162.0,924.8 L1162.5,910.5 L1163.0,896.8 L1163.5,883.9 L1164.0,872.1 L1164.5,861.4 L1165.0,852.1 L1165.5,844.3 L1166.0,838.2 L1166.5,834.0 L1167.0,831.8 L1167.5,832.3 L1168.0,834.6 L1168.5,838.2 L1169.0,843.0 L1169.5,848.9 L1170.0,855.8 L1170.5,863.6 L1171.0,872.2 L1171.5,881.4 L1172.0,891.1 L1172.5,901.3 L1173.0,911.8 L1173.5,922.5 L1174.0,933.3 L1174.5,944.0 L1175.0,954.7 L1175.5,965.1 L1176.0,975.1 L1176.5,984.7 L1177.0,993.7 L1177.5,1002.0 L1178.0,1009.5 L1178.5,1016.1 L1179.0,1021.7 L1179.5,1026.1 L1180.0,1029.3 L1180.5,1031.1 L1181.0,1030.5 L1181.5,1027.1 L1182.0,1021.8 L1182.5,1014.7 L1183.0,1006.3 L1183.5,996.6 L1184.0,986.0 L1184.5,974.7 L1185.0,963.0 L1185.5,951.1 L1186.0,939.3 L1186.5,927.7 L1187.0,916.8 L1187.5,906.7 L1188.0,897.6 L1188.5,889.9 L1189.0,883.8 L1189.5,879.5 L1190.0,877.2 L1190.5,881.0 L1191.0,889.1 L1191.5,900.4 L1192.0,913.9 L1192.5,928.4 L1193.0,942.8 L1193.5,956.2 L1194.0,967.3 L1194.5,975.1 L1195.0,978.2 L1195.5,974.3 L1196.0,966.3 L1196.5,955.6 L1197.0,943.5 L1197.5,931.0 L1198.0,919.4 L1198.5,910.0 L1199.0,904.0 L1199.5,903.8 L1200.0,911.2 L1200.5,923.3 L1201.0,938.7 L1201.5,956.0 L1202.0,973.5 L1202.5,989.9 L1203.0,1003.6 L1203.5,1013.2 L1204.0,1016.5 L1204.5,1009.8 L1205.0,996.9 L1205.5,979.3 L1206.0,958.3 L1206.5,935.4 L1207.0,911.9 L1207.5,889.2 L1208.0,868.7 L1208.5,851.7 L1209.0,839.7 L1209.5,834.0 L1210.0,835.0 L1210.5,837.2 L1211.0,840.5 L1211.5,845.0 L1212.0,850.4 L1212.5,856.7 L1213.0,863.9 L1213.5,871.7 L1214.0,880.1 L1214.5,889.1 L1215.0,898.5 L1215.5,908.2 L1216.0,918.2 L1216.5,928.3 L1217.0,938.4 L1217.5,948.5 L1218.0,958.5 L1218.5,968.2 L1219.0,977.6 L1219.5,986.6 L1220.0,995.1 L1220.5,1003.0 L1221.0,1010.2 L1221.5,1016.5 L1222.0,1022.0 L1222.5,1026.5 L1223.0,1030.0 L1223.5,1032.3 L1224.0,1033.3 L1224.5,1032.2 L1225.0,1029.7 L1225.5,1025.8 L1226.0,1020.7 L1226.5,1014.5 L1227.0,1007.3 L1227.5,999.3 L1228.0,990.4 L1228.5,980.9 L1229.0,970.9 L1229.5,960.4 L1230.0,949.7 L1230.5,938.7 L1231.0,927.7 L1231.5,916.7 L1232.0,905.9 L1232.5,895.3 L1233.0,885.1 L1233.5,875.4 L1234.0,866.3 L1234.5,857.9 L1235.0,850.4 L1235.5,843.8 L1236.0,838.3 L1236.5,834.0 L1237.0,830.9 L1237.5,829.3 L1238.0,830.6 L1238.5,835.0 L1239.0,841.7 L1239.5,850.2 L1240.0,860.5 L1240.5,872.0 L1241.0,884.6 L1241.5,897.9 L1242.0,911.5 L1242.5,925.3 L1243.0,938.7 L1243.5,951.7 L1244.0,963.7 L1244.5,974.6 L1245.0,984.0 L1245.5,991.6 L1246.0,997.1 L1246.5,1000.1 L1247.0,998.3 L1247.5,993.0 L1248.0,985.1 L1248.5,975.2 L1249.0,963.7 L1249.5,950.9 L1250.0,937.5 L1250.5,923.8 L1251.0,910.2 L1251.5,897.3 L1252.0,885.5 L1252.5,875.2 L1253.0,867.0 L1253.5,861.2 L1254.0,858.2 L1254.5,860.5 L1255.0,864.9 L1255.5,871.2 L1256.0,879.2 L1256.5,888.7 L1257.0,899.2 L1257.5,910.7 L1258.0,922.9 L1258.5,935.4 L1259.0,948.1 L1259.5,960.7 L1260.0,973.0 L1260.5,984.6 L1261.0,995.4 L1261.5,1005.1 L1262.0,1013.5 L1262.5,1020.2 L1263.0,1025.1 L1263.5,1027.9 L1264.0,1027.6 L1264.5,1026.3 L1265.0,1024.2 L1265.5,1021.6 L1266.0,1018.8 L1266.5,1015.8 L1267.0,1012.8 L1267.5,1010.1 L1268.0,1007.7 L1268.5,1005.9 L1269.0,1004.9 L1269.5,1005.7 L1270.0,1008.5 L1270.5,1012.9 L1271.0,1018.5 L1271.5,1025.2 L1272.0,1032.5 L1272.5,1040.4 L1273.0,1048.5 L1273.5,1056.4 L1274.0,1064.1 L1274.5,1071.2 L1275.0,1077.4 L1275.5,1082.5 L1276.0,1086.1 L1276.5,1088.2 L1277.0,1086.6 L1277.5,1082.3 L1278.0,1075.9 L1278.5,1067.7 L1279.0,1058.1 L1279.5,1047.4 L1280.0,1035.9 L1280.5,1023.8 L1281.0,1011.6 L1281.5,999.6 L1282.0,988.0 L1282.5,977.2 L1283.0,967.5 L1283.5,959.2 L1284.0,952.7 L1284.5,948.2 L1285.0,946.2 L1285.5,947.6 L1286.0,950.4 L1286.5,954.1 L1287.0,958.2 L1287.5,962.3 L1288.0,965.8 L1288.5,968.4 L1289.0,969.5 L1289.5,968.4 L1290.0,966.0 L1290.5,962.6 L1291.0,958.2 L1291.5,952.9 L1292.0,946.7 L1292.5,939.9 L1293.0,932.5 L1293.5,924.6 L1294.0,916.4 L1294.5,907.8 L1295.0,899.0 L1295.5,890.1 L1296.0,881.3 L1296.5,872.5 L1297.0,864.0 L1297.5,855.7 L1298.0,847.9 L1298.5,840.6 L1299.0,833.8 L1299.5,827.8 L1300.0,822.6 L1300.5,818.3 L1301.0,815.0 L1301.5,812.9 L1302.0,812.0 L1302.5,813.1 L1303.0,815.8 L1303.5,819.8 L1304.0,825.0 L1304.5,831.4 L1305.0,838.8 L1305.5,847.1 L1306.0,856.2 L1306.5,866.1 L1307.0,876.5 L1307.5,887.4 L1308.0,898.7 L1308.5,910.2 L1309.0,922.0 L1309.5,933.7 L1310.0,945.4 L1310.5,957.0 L1311.0,968.2 L1311.5,979.1 L1312.0,989.5 L1312.5,999.3 L1313.0,1008.4 L1313.5,1016.7 L1314.0,1024.0 L1314.5,1030.3 L1315.0,1035.4 L1315.5,1039.4 L1316.0,1041.9 L1316.5,1043.0 L1317.0,1042.4 L1317.5,1041.3 L1318.0,1039.7 L1318.5,1037.7 L1319.0,1035.4 L1319.5,1033.0 L1320.0,1030.4 L1320.5,1027.8 L1321.0,1025.3 L1321.5,1023.0 L1322.0,1021.0 L1322.5,1019.3 L1323.0,1018.0 L1323.5,1017.3 L1324.0,1016.6 L1324.5,1016.1 L1325.0,1015.6 L1325.5,1015.2 L1326.0,1014.8 L1326.5,1014.4 L1327.0,1013.9 L1327.5,1013.3 L1328.0,1012.7 L1328.5,1012.0 L1329.0,1010.7 L1329.5,1008.5 L1330.0,1005.3 L1330.5,1001.3 L1331.0,996.5 L1331.5,991.0 L1332.0,984.8 L1332.5,978.0 L1333.0,970.6 L1333.5,962.8 L1334.0,954.5 L1334.5,945.8 L1335.0,936.8 L1335.5,927.6 L1336.0,918.2 L1336.5,908.6 L1337.0,898.9 L1337.5,889.3 L1338.0,879.7 L1338.5,870.2 L1339.0,860.8 L1339.5,851.7 L1340.0,842.9 L1340.5,834.4 L1341.0,826.3 L1341.5,818.7 L1342.0,811.6 L1342.5,805.1 L1343.0,799.2 L1343.5,794.1 L1344.0,789.7 L1344.5,786.1 L1345.0,783.4 L1345.5,781.7 L1346.0,780.9 L1346.5,781.1 L1347.0,782.1 L1347.5,783.8 L1348.0,786.1 L1348.5,789.1 L1349.0,792.7 L1349.5,796.9 L1350.0,801.7 L1350.5,807.0 L1351.0,812.8 L1351.5,819.1 L1352.0,825.8 L1352.5,832.9 L1353.0,840.4 L1353.5,848.3 L1354.0,856.5 L1354.5,865.0 L1355.0,873.7 L1355.5,882.7 L1356.0,891.9 L1356.5,901.3 L1357.0,910.8 L1357.5,920.4 L1358.0,930.2 L1358.5,939.9 L1359.0,949.7 L1359.5,959.6 L1360.0,969.3 L1360.5,979.1 L1361.0,988.7 L1361.5,998.2 L1362.0,1007.6 L1362.5,1016.8 L1363.0,1025.7 L1363.5,1034.5 L1364.0,1042.9 L1364.5,1051.1 L1365.0,1059.0 L1365.5,1066.5 L1366.0,1073.6 L1366.5,1080.3 L1367.0,1086.6 L1367.5,1092.3 L1368.0,1097.6 L1368.5,1102.4 L1369.0,1106.6 L1369.5,1110.2 L1370.0,1113.1 L1370.5,1115.5 L1371.0,1117.1 L1371.5,1118.0 L1372.0,1118.2 L1372.5,1117.9 L1373.0,1117.1 L1373.5,1115.9 L1374.0,1114.2 L1374.5,1112.2 L1375.0,1109.8 L1375.5,1107.0 L1376.0,1103.8 L1376.5,1100.3 L1377.0,1096.5 L1377.5,1092.4 L1378.0,1088.0 L1378.5,1083.3 L1379.0,1078.4 L1379.5,1073.2 L1380.0,1067.8 L1380.5,1062.2 L1381.0,1056.4 L1381.5,1050.4 L1382.0,1044.2 L1382.5,1037.9 L1383.0,1031.5 L1383.5,1024.9 L1384.0,1018.3 L1384.5,1011.6 L1385.0,1004.8 L1385.5,998.0 L1386.0,991.1 L1386.5,984.2 L1387.0,977.3 L1387.5,970.4 L1388.0,963.6 L1388.5,956.8 L1389.0,950.0 L1389.5,943.3 L1390.0,936.8 L1390.5,930.3 L1391.0,924.0 L1391.5,917.8 L1392.0,911.7 L1392.5,905.9 L1393.0,900.2 L1393.5,894.7 L1394.0,889.5 L1394.5,884.4 L1395.0,879.7 L1395.5,875.2 L1396.0,871.0 L1396.5,867.1 L1397.0,863.5 L1397.5,860.2 L1398.0,857.3 L1398.5,854.8 L1399.0,852.6 L1399.5,850.8 L1400.0,849.5 L1400.5,848.6 L1401.0,848.1 L1401.5,848.1 L1402.0,848.6 L1402.5,849.7 L1403.0,851.3 L1403.5,853.4 L1404.0,856.0 L1404.5,859.0 L1405.0,862.4 L1405.5,866.3 L1406.0,870.5 L1406.5,875.1 L1407.0,880.0 L1407.5,885.2 L1408.0,890.7 L1408.5,896.5 L1409.0,902.5 L1409.5,908.7 L1410.0,915.1 L1410.5,921.7 L1411.0,928.4 L1411.5,935.3 L1412.0,942.3 L1412.5,949.3 L1413.0,956.4 L1413.5,963.5 L1414.0,970.6 L1414.5,977.7 L1415.0,984.8 L1415.5,991.8 L1416.0,998.7 L1416.5,1005.5 L1417.0,1012.2 L1417.5,1018.7 L1418.0,1025.0 L1418.5,1031.2 L1419.0,1037.1 L1419.5,1042.7 L1420.0,1048.1 L1420.5,1053.2 L1421.0,1058.0 L1421.5,1062.4 L1422.0,1066.5 L1422.5,1070.2 L1423.0,1073.4 L1423.5,1076.3 L1424.0,1078.6 L1424.5,1080.5 L1425.0,1081.9 L1425.5,1082.8 L1426.0,1083.1 L1426.5,1081.9 L1427.0,1079.2 L1427.5,1075.3 L1428.0,1070.3 L1428.5,1064.2 L1429.0,1057.2 L1429.5,1049.5 L1430.0,1041.1 L1430.5,1032.1 L1431.0,1022.8 L1431.5,1013.1 L1432.0,1003.3 L1432.5,993.4 L1433.0,983.6 L1433.5,974.0 L1434.0,964.7 L1434.5,955.8 L1435.0,947.5 L1435.5,939.9 L1436.0,933.1 L1436.5,927.2 L1437.0,922.3 L1437.5,918.6 L1438.0,916.2 L1438.5,915.3 L1439.0,915.8 L1439.5,916.8 L1440.0,918.0 L1440.5,919.4 L1441.0,920.9 L1441.5,922.3 L1442.0,923.5 L1442.5,924.4 L1443.0,924.8 L1443.5,923.4 L1444.0,920.4 L1444.5,916.1 L1445.0,910.6 L1445.5,904.3 L1446.0,897.4 L1446.5,890.1 L1447.0,882.7 L1447.5,875.4 L1448.0,868.5 L1448.5,862.2 L1449.0,856.7 L1449.5,852.4 L1450.0,849.4 L1450.5,848.1 L1451.0,850.6 L1451.5,855.5 L1452.0,862.7 L1452.5,871.8 L1453.0,882.7 L1453.5,895.2 L1454.0,909.0 L1454.5,923.9 L1455.0,939.8 L1455.5,956.4 L1456.0,973.4 L1456.5,990.8 L1457.0,1008.2 L1457.5,1025.5 L1458.0,1042.4 L1458.5,1058.7 L1459.0,1074.2 L1459.5,1088.7 L1460.0,1102.0 L1460.5,1113.8 L1461.0,1124.0 L1461.5,1132.4 L1462.0,1138.6 L1462.5,1142.6 L1463.0,1143.7 L1463.5,1142.2 L1464.0,1139.7 L1464.5,1136.2 L1465.0,1131.8 L1465.5,1126.5 L1466.0,1120.6 L1466.5,1114.0 L1467.0,1106.9 L1467.5,1099.4 L1468.0,1091.6 L1468.5,1083.6 L1469.0,1075.4 L1469.5,1067.2 L1470.0,1059.0 L1470.5,1051.0 L1471.0,1043.3 L1471.5,1035.9 L1472.0,1028.9 L1472.5,1022.5 L1473.0,1016.8 L1473.5,1011.8 L1474.0,1007.6 L1474.5,1004.4 L1475.0,1002.2 L1475.5,1001.1 L1476.0,1001.9 L1476.5,1003.7 L1477.0,1006.3 L1477.5,1009.5 L1478.0,1013.0 L1478.5,1016.8 L1479.0,1020.5 L1479.5,1024.0 L1480.0,1027.1 L1480.5,1029.6 L1481.0,1031.2 L1481.5,1031.4 L1482.0,1026.2 L1482.5,1016.8 L1483.0,1004.0 L1483.5,988.3 L1484.0,970.6 L1484.5,951.4 L1485.0,931.7 L1485.5,912.0 L1486.0,893.1 L1486.5,875.7 L1487.0,860.4 L1487.5,848.1 L1488.0,839.5 L1488.5,835.1 L1489.0,837.2 L1489.5,841.5 L1490.0,847.7 L1490.5,855.5 L1491.0,864.5 L1491.5,874.4 L1492.0,884.9 L1492.5,895.6 L1493.0,906.3 L1493.5,916.5 L1494.0,926.0 L1494.5,934.5 L1495.0,941.6 L1495.5,946.9 L1496.0,950.2 L1496.5,950.4 L1497.0,947.6 L1497.5,943.0 L1498.0,937.3 L1498.5,930.8 L1499.0,924.0 L1499.5,917.6 L1500.0,911.9 L1500.5,907.5 L1501.0,904.9 L1501.5,905.8 L1502.0,910.7 L1502.5,918.2 L1503.0,927.8 L1503.5,938.9 L1504.0,951.0 L1504.5,963.3 L1505.0,975.3 L1505.5,986.4 L1506.0,996.0 L1506.5,1003.5 L1507.0,1008.3 L1507.5,1010.2 L1508.0,1011.7 L1508.5,1013.1 L1509.0,1014.2 L1509.5,1015.0 L1510.0,1015.5" fill="none" stroke="#929292" stroke-width="1.2" stroke-linejoin="round"/>
<path d="M912.1,903.4 L912.6,919.9 L913.1,935.4 L913.6,949.5 L914.1,961.7 L914.6,971.8 L915.1,979.2 L915.6,983.7 L916.1,983.5 L916.6,979.5 L917.1,973.2 L917.6,965.1 L918.1,955.8 L918.6,945.7 L919.1,935.3 L919.6,925.1 L920.1,915.6 L920.6,907.3 L921.1,900.7 L921.6,896.3 L922.1,895.0 L922.6,896.8 L923.1,900.1 L923.6,904.7 L924.1,910.5 L924.6,917.4 L925.1,925.2 L925.6,933.8 L926.1,943.1 L926.6,952.9 L927.1,963.1 L927.6,973.6 L928.1,984.2 L928.6,994.9 L929.1,1005.4 L929.6,1015.7 L930.1,1025.6 L930.6,1035.0 L931.1,1043.7 L931.6,1051.7 L932.1,1058.7 L932.6,1064.7 L933.1,1069.5 L933.6,1073.1 L934.1,1075.1 L934.6,1074.7 L935.1,1071.8 L935.6,1067.1 L936.1,1061.0 L936.6,1053.7 L937.1,1045.5 L937.6,1036.6 L938.1,1027.2 L938.6,1017.6 L939.1,1008.1 L939.6,998.9 L940.1,990.3 L940.6,982.4 L941.1,975.7 L941.6,970.2 L942.1,966.4 L942.6,964.3 L943.1,966.9 L943.6,972.7 L944.1,981.1 L944.6,991.7 L945.1,1004.1 L945.6,1018.0 L946.1,1032.7 L946.6,1048.0 L947.1,1063.4 L947.6,1078.5 L948.1,1092.9 L948.6,1106.1 L949.1,1117.7 L949.6,1127.4 L950.1,1134.7 L950.6,1139.1 L951.1,1138.5 L951.6,1132.1 L952.1,1121.9 L952.6,1108.8 L953.1,1093.8 L953.6,1077.8 L954.1,1061.6 L954.6,1046.2 L955.1,1032.4 L955.6,1021.3 L956.1,1013.6 L956.6,1010.7 L957.1,1014.1 L957.6,1020.7 L958.1,1029.6 L958.6,1040.3 L959.1,1051.9 L959.6,1063.9 L960.1,1075.5 L960.6,1085.9 L961.1,1094.5 L961.6,1100.5 L962.1,1103.3 L962.6,1100.8 L963.1,1095.8 L963.6,1088.9 L964.1,1080.3 L964.6,1070.6 L965.1,1060.0 L965.6,1049.1 L966.1,1038.3 L966.6,1027.9 L967.1,1018.4 L967.6,1010.2 L968.1,1003.8 L968.6,999.3 L969.1,995.2 L969.6,991.1 L970.1,987.2 L970.6,983.6 L971.1,980.2 L971.6,977.3 L972.1,974.8 L972.6,972.9 L973.1,971.6 L973.6,971.2 L974.1,973.6 L974.6,978.1 L975.1,984.2 L975.6,991.1 L976.1,998.5 L976.6,1005.8 L977.1,1012.3 L977.6,1017.6 L978.1,1021.1 L978.6,1021.3 L979.1,1014.8 L979.6,1003.5 L980.1,988.7 L980.6,971.5 L981.1,953.2 L981.6,934.9 L982.1,918.0 L982.6,903.7 L983.1,893.1 L983.6,887.5 L984.1,891.0 L984.6,901.3 L985.1,916.0 L985.6,933.0 L986.1,950.4 L986.6,966.1 L987.1,978.2 L987.6,984.7 L988.1,983.0 L988.6,977.2 L989.1,968.8 L989.6,958.2 L990.1,946.1 L990.6,933.1 L991.1,920.0 L991.6,907.2 L992.1,895.5 L992.6,885.4 L993.1,877.7 L993.6,872.8 L994.1,872.5 L994.6,876.2 L995.1,882.1 L995.6,890.0 L996.1,899.6 L996.6,910.5 L997.1,922.4 L997.6,935.1 L998.1,948.3 L998.6,961.6 L999.1,974.7 L999.6,987.4 L1000.1,999.3 L1000.6,1010.2 L1001.1,1019.6 L1001.6,1027.4 L1002.1,1033.3 L1002.6,1036.9 L1003.1,1036.5 L1003.6,1032.6 L1004.1,1026.5 L1004.6,1018.5 L1005.1,1009.0 L1005.6,998.1 L1006.1,986.4 L1006.6,974.1 L1007.1,961.6 L1007.6,949.1 L1008.1,937.1 L1008.6,925.8 L1009.1,915.5 L1009.6,906.7 L1010.1,899.6 L1010.6,894.5 L1011.1,891.8 L1011.6,892.4 L1012.1,894.5 L1012.6,898.1 L1013.1,903.0 L1013.6,909.1 L1014.1,916.4 L1014.6,924.6 L1015.1,933.8 L1015.6,943.8 L1016.1,954.5 L1016.6,965.9 L1017.1,977.8 L1017.6,990.1 L1018.1,1002.8 L1018.6,1015.7 L1019.1,1028.8 L1019.6,1041.9 L1020.1,1054.9 L1020.6,1067.8 L1021.1,1080.5 L1021.6,1092.7 L1022.1,1104.6 L1022.6,1115.9 L1023.1,1126.5 L1023.6,1136.5 L1024.1,1145.5 L1024.6,1153.7 L1025.1,1160.8 L1025.6,1166.7 L1026.1,1171.5 L1026.6,1174.9 L1027.1,1176.9 L1027.6,1177.4 L1028.1,1176.6 L1028.6,1174.9 L1029.1,1172.2 L1029.6,1168.7 L1030.1,1164.3 L1030.6,1159.1 L1031.1,1153.1 L1031.6,1146.5 L1032.1,1139.2 L1032.6,1131.3 L1033.1,1122.8 L1033.6,1113.9 L1034.1,1104.4 L1034.6,1094.6 L1035.1,1084.4 L1035.6,1073.9 L1036.1,1063.2 L1036.6,1052.2 L1037.1,1041.0 L1037.6,1029.8 L1038.1,1018.5 L1038.6,1007.1 L1039.1,995.8 L1039.6,984.6 L1040.1,973.5 L1040.6,962.5 L1041.1,951.8 L1041.6,941.4 L1042.1,931.3 L1042.6,921.5 L1043.1,912.2 L1043.6,903.4 L1044.1,895.0 L1044.6,887.2 L1045.1,880.1 L1045.6,873.6 L1046.1,867.8 L1046.6,862.8 L1047.1,858.5 L1047.6,855.2 L1048.1,852.7 L1048.6,851.2 L1049.1,850.7 L1049.6,851.5 L1050.1,853.0 L1050.6,855.0 L1051.1,857.5 L1051.6,860.4 L1052.1,863.8 L1052.6,867.6 L1053.1,871.7 L1053.6,876.0 L1054.1,880.6 L1054.6,885.3 L1055.1,890.1 L1055.6,895.0 L1056.1,899.9 L1056.6,904.7 L1057.1,909.5 L1057.6,914.2 L1058.1,918.6 L1058.6,922.9 L1059.1,926.8 L1059.6,930.5 L1060.1,934.3 L1060.6,938.2 L1061.1,942.2 L1061.6,946.2 L1062.1,950.1 L1062.6,953.9 L1063.1,957.6 L1063.6,961.1 L1064.1,964.3 L1064.6,967.2 L1065.1,969.8 L1065.6,971.8 L1066.1,973.5 L1066.6,975.2 L1067.1,976.8 L1067.6,978.4 L1068.1,979.9 L1068.6,981.3 L1069.1,982.6 L1069.6,983.9 L1070.1,985.1 L1070.6,986.1 L1071.1,987.1 L1071.6,987.9 L1072.1,988.7 L1072.6,989.3 L1073.1,989.8 L1073.6,990.0 L1074.1,990.2 L1074.6,990.4 L1075.1,990.6 L1075.6,990.7 L1076.1,990.8 L1076.6,990.9 L1077.1,991.0 L1077.6,991.1 L1078.1,991.2 L1078.6,991.3 L1079.1,991.4 L1079.6,991.6 L1080.1,991.7 L1080.6,991.9 L1081.1,992.1 L1081.6,992.4 L1082.1,992.8 L1082.6,993.2 L1083.1,993.8 L1083.6,994.5 L1084.1,995.2 L1084.6,996.0 L1085.1,996.8 L1085.6,997.7 L1086.1,998.7 L1086.6,999.7 L1087.1,1000.8 L1087.6,1002.0 L1088.1,1003.1 L1088.6,1004.4 L1089.1,1005.6 L1089.6,1006.9 L1090.1,1008.2 L1090.6,1010.0 L1091.1,1012.0 L1091.6,1014.2 L1092.1,1016.8 L1092.6,1019.5 L1093.1,1022.3 L1093.6,1025.3 L1094.1,1028.4 L1094.6,1031.6 L1095.1,1034.8 L1095.6,1038.0 L1096.1,1041.1 L1096.6,1044.3 L1097.1,1047.3 L1097.6,1050.2 L1098.1,1052.9 L1098.6,1055.8 L1099.1,1058.9 L1099.6,1062.1 L1100.1,1065.4 L1100.6,1068.7 L1101.1,1072.1 L1101.6,1075.5 L1102.1,1078.9 L1102.6,1082.3 L1103.1,1085.6 L1103.6,1088.8 L1104.1,1091.8 L1104.6,1094.7 L1105.1,1097.4 L1105.6,1099.9 L1106.1,1102.1 L1106.6,1104.1 L1107.1,1105.7 L1107.6,1107.0 L1108.1,1108.0 L1108.6,1108.5 L1109.1,1108.4 L1109.6,1107.8 L1110.1,1107.0 L1110.6,1105.9 L1111.1,1104.6 L1111.6,1103.1 L1112.1,1101.4 L1112.6,1099.5 L1113.1,1097.5 L1113.6,1095.3 L1114.1,1093.1 L1114.6,1090.8 L1115.1,1088.4 L1115.6,1086.0 L1116.1,1083.6 L1116.6,1081.3 L1117.1,1079.0 L1117.6,1076.7 L1118.1,1074.6 L1118.6,1072.6 L1119.1,1070.7 L1119.6,1069.0 L1120.1,1067.4 L1120.6,1066.1 L1121.1,1065.1 L1121.6,1064.3 L1122.1,1063.8 L1122.6,1063.6 L1123.1,1064.3 L1123.6,1065.5 L1124.1,1067.2 L1124.6,1069.4 L1125.1,1071.8 L1125.6,1074.6 L1126.1,1077.6 L1126.6,1080.7 L1127.1,1083.9 L1127.6,1087.1 L1128.1,1090.2 L1128.6,1093.2 L1129.1,1096.0 L1129.6,1098.5 L1130.1,1100.8 L1130.6,1102.6 L1131.1,1103.9 L1131.6,1104.7 L1132.1,1103.8 L1132.6,1100.6 L1133.1,1095.7 L1133.6,1089.3 L1134.1,1081.5 L1134.6,1072.7 L1135.1,1063.0 L1135.6,1052.7 L1136.1,1042.0 L1136.6,1031.1 L1137.1,1020.1 L1137.6,1009.5 L1138.1,999.2 L1138.6,989.6 L1139.1,981.0 L1139.6,973.4 L1140.1,967.1 L1140.6,962.4 L1141.1,959.4 L1141.6,959.2 L1142.1,961.4 L1142.6,965.0 L1143.1,969.8 L1143.6,975.7 L1144.1,982.6 L1144.6,990.2 L1145.1,998.6 L1145.6,1007.5 L1146.1,1016.7 L1146.6,1026.3 L1147.1,1036.0 L1147.6,1045.6 L1148.1,1055.2 L1148.6,1064.4 L1149.1,1073.2 L1149.6,1081.4 L1150.1,1089.0 L1150.6,1095.7 L1151.1,1101.4 L1151.6,1106.0 L1152.1,1109.4 L1152.6,1111.3 L1153.1,1110.7 L1153.6,1107.5 L1154.1,1102.4 L1154.6,1095.5 L1155.1,1087.0 L1155.6,1077.0 L1156.1,1065.8 L1156.6,1053.4 L1157.1,1040.1 L1157.6,1026.1 L1158.1,1011.4 L1158.6,996.3 L1159.1,980.9 L1159.6,965.4 L1160.1,950.0 L1160.6,934.8 L1161.1,920.0 L1161.6,905.8 L1162.1,892.4 L1162.6,879.8 L1163.1,868.3 L1163.6,858.1 L1164.1,849.3 L1164.6,842.0 L1165.1,836.5 L1165.6,833.0 L1166.1,831.6 L1166.6,833.0 L1167.1,835.8 L1167.6,839.8 L1168.1,845.1 L1168.6,851.4 L1169.1,858.7 L1169.6,866.8 L1170.1,875.6 L1170.6,885.0 L1171.1,895.0 L1171.6,905.3 L1172.1,915.9 L1172.6,926.7 L1173.1,937.5 L1173.6,948.3 L1174.1,958.9 L1174.6,969.2 L1175.1,979.1 L1175.6,988.4 L1176.1,997.2 L1176.6,1005.2 L1177.1,1012.4 L1177.6,1018.6 L1178.1,1023.7 L1178.6,1027.6 L1179.1,1030.2 L1179.6,1031.4 L1180.1,1029.3 L1180.6,1025.0 L1181.1,1018.9 L1181.6,1011.2 L1182.1,1002.1 L1182.6,992.0 L1183.1,981.0 L1183.6,969.5 L1184.1,957.6 L1184.6,945.7 L1185.1,933.9 L1185.6,922.6 L1186.1,912.0 L1186.6,902.3 L1187.1,893.8 L1187.6,886.8 L1188.1,881.5 L1188.6,878.1 L1189.1,878.4 L1189.6,884.4 L1190.1,894.2 L1190.6,906.8 L1191.1,920.9 L1191.6,935.6 L1192.1,949.6 L1192.6,962.0 L1193.1,971.6 L1193.6,977.4 L1194.1,976.8 L1194.6,970.6 L1195.1,961.1 L1195.6,949.5 L1196.1,937.0 L1196.6,924.8 L1197.1,914.2 L1197.6,906.4 L1198.1,902.6 L1198.6,907.0 L1199.1,917.1 L1199.6,931.2 L1200.1,947.9 L1200.6,965.5 L1201.1,982.7 L1201.6,997.8 L1202.1,1009.5 L1202.6,1016.1 L1203.1,1013.6 L1203.6,1003.3 L1204.1,987.6 L1204.6,967.9 L1205.1,945.6 L1205.6,922.1 L1206.1,898.8 L1206.6,877.1 L1207.1,858.4 L1207.6,844.1 L1208.1,835.5 L1208.6,834.4 L1209.1,836.1 L1209.6,839.0 L1210.1,843.0 L1210.6,848.1 L1211.1,854.1 L1211.6,860.9 L1212.1,868.5 L1212.6,876.7 L1213.1,885.5 L1213.6,894.8 L1214.1,904.4 L1214.6,914.3 L1215.1,924.4 L1215.6,934.6 L1216.1,944.7 L1216.6,954.8 L1217.1,964.6 L1217.6,974.2 L1218.1,983.4 L1218.6,992.1 L1219.1,1000.2 L1219.6,1007.6 L1220.1,1014.3 L1220.6,1020.2 L1221.1,1025.1 L1221.6,1028.9 L1222.1,1031.6 L1222.6,1033.1 L1223.1,1032.8 L1223.6,1030.7 L1224.1,1027.3 L1224.6,1022.5 L1225.1,1016.7 L1225.6,1009.8 L1226.1,1001.9 L1226.6,993.3 L1227.1,984.0 L1227.6,974.1 L1228.1,963.7 L1228.6,953.0 L1229.1,942.1 L1229.6,931.1 L1230.1,920.0 L1230.6,909.1 L1231.1,898.4 L1231.6,888.1 L1232.1,878.2 L1232.6,868.9 L1233.1,860.3 L1233.6,852.4 L1234.1,845.6 L1234.6,839.7 L1235.1,835.0 L1235.6,831.6 L1236.1,829.6 L1236.6,829.9 L1237.1,833.6 L1237.6,839.7 L1238.1,847.8 L1238.6,857.7 L1239.1,869.0 L1239.6,881.4 L1240.1,894.5 L1240.6,908.1 L1241.1,921.9 L1241.6,935.5 L1242.1,948.7 L1242.6,961.0 L1243.1,972.2 L1243.6,982.0 L1244.1,990.1 L1244.6,996.1 L1245.1,999.7 L1245.6,999.0 L1246.1,994.3 L1246.6,987.0 L1247.1,977.5 L1247.6,966.2 L1248.1,953.6 L1248.6,940.3 L1249.1,926.5 L1249.6,912.9 L1250.1,899.8 L1250.6,887.7 L1251.1,877.1 L1251.6,868.4 L1252.1,862.0 L1252.6,858.5 L1253.1,859.9 L1253.6,863.9 L1254.1,870.0 L1254.6,877.8 L1255.1,887.0 L1255.6,897.4 L1256.1,908.8 L1256.6,920.9 L1257.1,933.4 L1257.6,946.1 L1258.1,958.8 L1258.6,971.2 L1259.1,983.0 L1259.6,993.9 L1260.1,1003.8 L1260.6,1012.4 L1261.1,1019.4 L1261.6,1024.6 L1262.1,1027.6 L1262.6,1027.8 L1263.1,1026.5 L1263.6,1024.5 L1264.1,1022.0 L1264.6,1019.1 L1265.1,1016.1 L1265.6,1013.1 L1266.1,1010.4 L1266.6,1008.0 L1267.1,1006.1 L1267.6,1005.0 L1268.1,1005.5 L1268.6,1008.2 L1269.1,1012.4 L1269.6,1018.0 L1270.1,1024.5 L1270.6,1031.9 L1271.1,1039.7 L1271.6,1047.8 L1272.1,1055.8 L1272.6,1063.5 L1273.1,1070.7 L1273.6,1077.0 L1274.1,1082.2 L1274.6,1085.9 L1275.1,1088.1 L1275.6,1086.8 L1276.1,1082.6 L1276.6,1076.3 L1277.1,1068.2 L1277.6,1058.6 L1278.1,1047.9 L1278.6,1036.4 L1279.1,1024.4 L1279.6,1012.1 L1280.1,1000.0 L1280.6,988.4 L1281.1,977.5 L1281.6,967.7 L1282.1,959.4 L1282.6,952.8 L1283.1,948.2 L1283.6,946.2 L1284.1,947.6 L1284.6,950.4 L1285.1,954.0 L1285.6,958.2 L1286.1,962.2 L1286.6,965.8 L1287.1,968.4 L1287.6,969.5 L1288.1,968.4 L1288.6,966.0 L1289.1,962.5 L1289.6,958.1 L1290.1,952.7 L1290.6,946.6 L1291.1,939.8 L1291.6,932.3 L1292.1,924.4 L1292.6,916.1 L1293.1,907.5 L1293.6,898.7 L1294.1,889.8 L1294.6,880.9 L1295.1,872.1 L1295.6,863.6 L1296.1,855.3 L1296.6,847.5 L1297.1,840.2 L1297.6,833.5 L1298.1,827.5 L1298.6,822.3 L1299.1,818.1 L1299.6,814.9 L1300.1,812.8 L1300.6,812.0 L1301.1,813.3 L1301.6,816.0 L1302.1,820.2 L1302.6,825.5 L1303.1,832.0 L1303.6,839.5 L1304.1,847.9 L1304.6,857.1 L1305.1,867.1 L1305.6,877.6 L1306.1,888.6 L1306.6,899.9 L1307.1,911.5 L1307.6,923.3 L1308.1,935.1 L1308.6,946.8 L1309.1,958.3 L1309.6,969.6 L1310.1,980.4 L1310.6,990.8 L1311.1,1000.5 L1311.6,1009.5 L1312.1,1017.7 L1312.6,1024.9 L1313.1,1031.1 L1313.6,1036.1 L1314.1,1039.8 L1314.6,1042.1 L1315.1,1042.9 L1315.6,1042.3 L1316.1,1041.1 L1316.6,1039.4 L1317.1,1037.4 L1317.6,1035.0 L1318.1,1032.6 L1318.6,1030.0 L1319.1,1027.4 L1319.6,1024.9 L1320.1,1022.6 L1320.6,1020.6 L1321.1,1019.0 L1321.6,1017.9 L1322.1,1017.1 L1322.6,1016.5 L1323.1,1016.0 L1323.6,1015.6 L1324.1,1015.1 L1324.6,1014.7 L1325.1,1014.3 L1325.6,1013.8 L1326.1,1013.2 L1326.6,1012.6 L1327.1,1011.8 L1327.6,1010.3 L1328.1,1007.8 L1328.6,1004.4 L1329.1,1000.2 L1329.6,995.2 L1330.1,989.4 L1330.6,983.0 L1331.1,975.9 L1331.6,968.3 L1332.1,960.2 L1332.6,951.6 L1333.1,942.7 L1333.6,933.5 L1334.1,924.0 L1334.6,914.3 L1335.1,904.4 L1335.6,894.5 L1336.1,884.6 L1336.6,874.8 L1337.1,865.0 L1337.6,855.4 L1338.1,846.0 L1338.6,836.9 L1339.1,828.2 L1339.6,819.9 L1340.1,812.0 L1340.6,804.6 L1341.1,797.9 L1341.6,791.8 L1342.1,786.4 L1342.6,781.8 L1343.1,777.9 L1343.6,775.0 L1344.1,773.1 L1344.6,772.1 L1345.1,772.1 L1345.6,773.0 L1346.1,774.6 L1346.6,776.9 L1347.1,779.9 L1347.6,783.6 L1348.1,787.9 L1348.6,792.8 L1349.1,798.3 L1349.6,804.3 L1350.1,810.7 L1350.6,817.7 L1351.1,825.1 L1351.6,832.9 L1352.1,841.0 L1352.6,849.6 L1353.1,858.4 L1353.6,867.5 L1354.1,876.8 L1354.6,886.4 L1355.1,896.1 L1355.6,906.0 L1356.1,916.1 L1356.6,926.2 L1357.1,936.3 L1357.6,946.5 L1358.1,956.7 L1358.6,966.9 L1359.1,977.0 L1359.6,987.0 L1360.1,996.8 L1360.6,1006.5 L1361.1,1016.1 L1361.6,1025.3 L1362.1,1034.4 L1362.6,1043.1 L1363.1,1051.5 L1363.6,1059.6 L1364.1,1067.3 L1364.6,1074.5 L1365.1,1081.4 L1365.6,1087.7 L1366.1,1093.6 L1366.6,1098.9 L1367.1,1103.6 L1367.6,1107.7 L1368.1,1111.2 L1368.6,1114.0 L1369.1,1116.2 L1369.6,1117.6 L1370.1,1118.2 L1370.6,1118.2 L1371.1,1117.6 L1371.6,1116.6 L1372.1,1115.2 L1372.6,1113.4 L1373.1,1111.1 L1373.6,1108.5 L1374.1,1105.5 L1374.6,1102.2 L1375.1,1098.6 L1375.6,1094.6 L1376.1,1090.3 L1376.6,1085.8 L1377.1,1081.0 L1377.6,1075.9 L1378.1,1070.6 L1378.6,1065.1 L1379.1,1059.3 L1379.6,1053.4 L1380.1,1047.3 L1380.6,1041.1 L1381.1,1034.7 L1381.6,1028.2 L1382.1,1021.6 L1382.6,1014.9 L1383.1,1008.1 L1383.6,1001.3 L1384.1,994.4 L1384.6,987.5 L1385.1,980.6 L1385.6,973.7 L1386.1,966.8 L1386.6,959.9 L1387.1,953.1 L1387.6,946.4 L1388.1,939.8 L1388.6,933.2 L1389.1,926.8 L1389.6,920.5 L1390.1,914.4 L1390.6,908.5 L1391.1,902.7 L1391.6,897.1 L1392.1,891.7 L1392.6,886.6 L1393.1,881.7 L1393.6,877.1 L1394.1,872.7 L1394.6,868.7 L1395.1,865.0 L1395.6,861.6 L1396.1,858.5 L1396.6,855.8 L1397.1,853.5 L1397.6,851.5 L1398.1,850.0 L1398.6,848.9 L1399.1,848.2 L1399.6,848.0 L1400.1,848.3 L1400.6,849.2 L1401.1,850.6 L1401.6,852.5 L1402.1,854.9 L1402.6,857.8 L1403.1,861.1 L1403.6,864.8 L1404.1,868.9 L1404.6,873.3 L1405.1,878.1 L1405.6,883.3 L1406.1,888.7 L1406.6,894.4 L1407.1,900.3 L1407.6,906.5 L1408.1,912.8 L1408.6,919.4 L1409.1,926.1 L1409.6,932.9 L1410.1,939.9 L1410.6,946.9 L1411.1,954.0 L1411.6,961.1 L1412.1,968.2 L1412.6,975.4 L1413.1,982.5 L1413.6,989.5 L1414.1,996.5 L1414.6,1003.3 L1415.1,1010.1 L1415.6,1016.7 L1416.1,1023.1 L1416.6,1029.3 L1417.1,1035.3 L1417.6,1041.1 L1418.1,1046.5 L1418.6,1051.7 L1419.1,1056.6 L1419.6,1061.2 L1420.1,1065.4 L1420.6,1069.2 L1421.1,1072.6 L1421.6,1075.5 L1422.1,1078.0 L1422.6,1080.1 L1423.1,1081.6 L1423.6,1082.6 L1424.1,1083.1 L1424.6,1082.3 L1425.1,1080.0 L1425.6,1076.4 L1426.1,1071.7 L1426.6,1065.8 L1427.1,1059.1 L1427.6,1051.5 L1428.1,1043.2 L1428.6,1034.3 L1429.1,1025.0 L1429.6,1015.4 L1430.1,1005.6 L1430.6,995.7 L1431.1,985.9 L1431.6,976.2 L1432.1,966.8 L1432.6,957.8 L1433.1,949.3 L1433.6,941.5 L1434.1,934.5 L1434.6,928.3 L1435.1,923.2 L1435.6,919.3 L1436.1,916.6 L1436.6,915.3 L1437.1,915.7 L1437.6,916.6 L1438.1,917.7 L1438.6,919.1 L1439.1,920.6 L1439.6,922.0 L1440.1,923.3 L1440.6,924.2 L1441.1,924.8 L1441.6,923.8 L1442.1,921.0 L1442.6,916.9 L1443.1,911.6 L1443.6,905.4 L1444.1,898.5 L1444.6,891.3 L1445.1,883.8 L1445.6,876.5 L1446.1,869.5 L1446.6,863.1 L1447.1,857.5 L1447.6,852.9 L1448.1,849.7 L1448.6,848.1 L1449.1,850.1 L1449.6,854.8 L1450.1,861.7 L1450.6,870.6 L1451.1,881.3 L1451.6,893.6 L1452.1,907.3 L1452.6,922.2 L1453.1,938.0 L1453.6,954.5 L1454.1,971.6 L1454.6,989.0 L1455.1,1006.4 L1455.6,1023.8 L1456.1,1040.7 L1456.6,1057.1 L1457.1,1072.8 L1457.6,1087.4 L1458.1,1100.9 L1458.6,1112.9 L1459.1,1123.3 L1459.6,1131.8 L1460.1,1138.2 L1460.6,1142.4 L1461.1,1143.7 L1461.6,1142.4 L1462.1,1139.9 L1462.6,1136.4 L1463.1,1132.0 L1463.6,1126.8 L1464.1,1120.9 L1464.6,1114.4 L1465.1,1107.3 L1465.6,1099.8 L1466.1,1092.0 L1466.6,1083.9 L1467.1,1075.7 L1467.6,1067.5 L1468.1,1059.3 L1468.6,1051.3 L1469.1,1043.5 L1469.6,1036.1 L1470.1,1029.1 L1470.6,1022.7 L1471.1,1016.9 L1471.6,1011.9 L1472.1,1007.7 L1472.6,1004.4 L1473.1,1002.2 L1473.6,1001.1 L1474.1,1001.9 L1474.6,1003.7 L1475.1,1006.3 L1475.6,1009.5 L1476.1,1013.1 L1476.6,1016.8 L1477.1,1020.6 L1477.6,1024.1 L1478.1,1027.1 L1478.6,1029.6 L1479.1,1031.3 L1479.6,1031.3 L1480.1,1026.0 L1480.6,1016.5 L1481.1,1003.4 L1481.6,987.6 L1482.1,969.8 L1482.6,950.6 L1483.1,930.8 L1483.6,911.0 L1484.1,892.1 L1484.6,874.8 L1485.1,859.6 L1485.6,847.5 L1486.1,839.0 L1486.6,835.1 L1487.1,837.4 L1487.6,841.9 L1488.1,848.2 L1488.6,856.1 L1489.1,865.3 L1489.6,875.2 L1490.1,885.8 L1490.6,896.6 L1491.1,907.2 L1491.6,917.4 L1492.1,926.9 L1492.6,935.3 L1493.1,942.2 L1493.6,947.4 L1494.1,950.5 L1494.6,950.2 L1495.1,947.2 L1495.6,942.4 L1496.1,936.5 L1496.6,929.9 L1497.1,923.2 L1497.6,916.8 L1498.1,911.3 L1498.6,907.1 L1499.1,904.7 L1499.6,906.3 L1500.1,911.5 L1500.6,919.4 L1501.1,929.3 L1501.6,940.6 L1502.1,952.8 L1502.6,965.1 L1503.1,977.1 L1503.6,988.0 L1504.1,997.4 L1504.6,1004.5 L1505.1,1008.8 L1505.6,1010.4 L1506.1,1012.0 L1506.6,1013.3 L1507.1,1014.3 L1507.6,1015.1 L1508.1,1015.5" fill="none" stroke="#303030" stroke-width="1.45" stroke-dasharray="7.2 4.6" stroke-linejoin="round"/>
<path d="M89.00,12.30 V550.00 H712.90" fill="none" stroke="#1c1c1c" stroke-width="2" stroke-linejoin="miter"/>
<text transform="translate(78.50 557.10) scale(0.95 1.075)" font-size="22" text-anchor="end" fill="#111" stroke="#111" stroke-width="0.22">0.0</text>
<line x1="89.00" y1="442.66" x2="98.50" y2="442.66" stroke="#1c1c1c" stroke-width="2"/>
<text transform="translate(78.50 449.76) scale(0.95 1.075)" font-size="22" text-anchor="end" fill="#111" stroke="#111" stroke-width="0.22">0.5</text>
<line x1="89.00" y1="335.32" x2="98.50" y2="335.32" stroke="#1c1c1c" stroke-width="2"/>
<text transform="translate(78.50 342.42) scale(0.95 1.075)" font-size="22" text-anchor="end" fill="#111" stroke="#111" stroke-width="0.22">1.0</text>
<line x1="89.00" y1="227.98" x2="98.50" y2="227.98" stroke="#1c1c1c" stroke-width="2"/>
<text transform="translate(78.50 235.08) scale(0.95 1.075)" font-size="22" text-anchor="end" fill="#111" stroke="#111" stroke-width="0.22">1.5</text>
<line x1="89.00" y1="120.64" x2="98.50" y2="120.64" stroke="#1c1c1c" stroke-width="2"/>
<text transform="translate(78.50 127.74) scale(0.95 1.075)" font-size="22" text-anchor="end" fill="#111" stroke="#111" stroke-width="0.22">2.0</text>
<line x1="89.00" y1="13.30" x2="98.50" y2="13.30" stroke="#1c1c1c" stroke-width="2"/>
<text transform="translate(78.50 20.40) scale(0.95 1.075)" font-size="22" text-anchor="end" fill="#111" stroke="#111" stroke-width="0.22">2.5</text>
<text transform="translate(89.00 579.30) scale(0.95 1.075)" font-size="22" text-anchor="middle" fill="#111" stroke="#111" stroke-width="0.22">8.0</text>
<line x1="244.72" y1="550.00" x2="244.72" y2="540.50" stroke="#1c1c1c" stroke-width="2"/>
<text transform="translate(244.72 579.30) scale(0.95 1.075)" font-size="22" text-anchor="middle" fill="#111" stroke="#111" stroke-width="0.22">8.5</text>
<line x1="400.45" y1="550.00" x2="400.45" y2="540.50" stroke="#1c1c1c" stroke-width="2"/>
<text transform="translate(400.45 579.30) scale(0.95 1.075)" font-size="22" text-anchor="middle" fill="#111" stroke="#111" stroke-width="0.22">9.0</text>
<line x1="556.17" y1="550.00" x2="556.17" y2="540.50" stroke="#1c1c1c" stroke-width="2"/>
<text transform="translate(556.17 579.30) scale(0.95 1.075)" font-size="22" text-anchor="middle" fill="#111" stroke="#111" stroke-width="0.22">9.5</text>
<line x1="711.90" y1="550.00" x2="711.90" y2="540.50" stroke="#1c1c1c" stroke-width="2"/>
<text transform="translate(711.90 579.30) scale(0.95 1.075)" font-size="22" text-anchor="middle" fill="#111" stroke="#111" stroke-width="0.22">10.0</text>
<text transform="translate(400.70 620.10) scale(0.98 1.06)" font-size="24" text-anchor="middle" fill="#111" stroke="#111" stroke-width="0.22">Time/s</text>
<text transform="translate(23.00 264.00) rotate(-90)" font-size="28" text-anchor="middle" fill="#111" stroke="#111" stroke-width="0.22">Current/A</text>
<rect x="481.30" y="44.40" width="158.50" height="66.60" fill="#fff" stroke="#777" stroke-width="1.3" rx="1"/>
<line x1="484.40" y1="62.50" x2="537.20" y2="62.50" stroke="#808080" stroke-width="1.3"/>
<line x1="481.50" y1="93.20" x2="536.20" y2="93.20" stroke="#444" stroke-width="1.5" stroke-dasharray="7.0 5.2"/>
<text transform="translate(543.20 71.00) scale(1.0 1.1)" font-size="23.5" text-anchor="start" fill="#111" stroke="#111" stroke-width="0.22">Measured</text>
<text transform="translate(543.20 101.70) scale(1.0 1.1)" font-size="23.5" text-anchor="start" fill="#111" stroke="#111" stroke-width="0.22">Predicted</text>
<path d="M229.00,27.00 V136.60 H345.40" fill="none" stroke="#9a9a9a" stroke-width="1.1"/>
<line x1="229.00" y1="27.00" x2="231.20" y2="27.00" stroke="#8c8c8c" stroke-width="1"/>
<text transform="translate(225.40 31.60) scale(1.0 1.03)" font-size="15" text-anchor="end" fill="#111" stroke="#111" stroke-width="0.08">1.72</text>
<line x1="229.00" y1="68.00" x2="231.20" y2="68.00" stroke="#8c8c8c" stroke-width="1"/>
<text transform="translate(225.40 73.20) scale(1.0 1.03)" font-size="15" text-anchor="end" fill="#111" stroke="#111" stroke-width="0.08">1.66</text>
<line x1="229.00" y1="109.10" x2="231.20" y2="109.10" stroke="#8c8c8c" stroke-width="1"/>
<text transform="translate(225.40 114.30) scale(1.0 1.03)" font-size="15" text-anchor="end" fill="#111" stroke="#111" stroke-width="0.08">1.60</text>
<line x1="260.60" y1="136.60" x2="260.60" y2="134.40" stroke="#8c8c8c" stroke-width="1"/>
<text transform="translate(256.70 153.40) scale(1.0 1.03)" font-size="15" text-anchor="middle" fill="#111" stroke="#111" stroke-width="0.08">8.58</text>
<text transform="translate(340.80 153.40) scale(1.0 1.03)" font-size="15" text-anchor="middle" fill="#111" stroke="#111" stroke-width="0.08">8.62</text>
<path d="M250.4,136.6 L250.8,135.2 L251.2,133.8 L251.6,132.4 L252.0,131.0 L252.4,129.6 L252.8,128.3 L253.2,126.9 L253.6,125.6 L254.0,124.3 L254.4,123.0 L254.8,121.8 L255.2,120.5 L255.6,119.3 L256.0,118.1 L256.4,116.9 L256.8,115.7 L257.2,114.5 L257.6,113.4 L258.0,112.3 L258.4,111.2 L258.8,110.1 L259.2,109.0 L259.6,108.0 L260.0,106.9 L260.4,105.9 L260.8,104.9 L261.2,103.9 L261.6,102.9 L262.0,102.0 L262.4,101.0 L262.8,100.1 L263.2,99.2 L263.6,98.3 L264.0,97.4 L264.4,96.5 L264.8,95.7 L265.2,94.9 L265.6,94.0 L266.0,93.2 L266.4,92.5 L266.8,91.7 L267.2,90.9 L267.6,90.2 L268.0,89.4 L268.4,88.7 L268.8,88.0 L269.2,87.3 L269.6,86.6 L270.0,86.0 L270.4,85.3 L270.8,84.7 L271.2,84.0 L271.6,83.4 L272.0,82.8 L272.4,82.2 L272.8,81.6 L273.2,81.0 L273.6,80.4 L274.0,79.9 L274.4,79.4 L274.8,78.8 L275.2,78.3 L275.6,77.8 L276.0,77.3 L276.4,76.8 L276.8,76.4 L277.2,75.9 L277.6,75.5 L278.0,75.0 L278.4,74.6 L278.8,74.2 L279.2,73.8 L279.6,73.5 L280.0,73.1 L280.4,72.8 L280.8,72.4 L281.2,72.1 L281.6,71.8 L282.0,71.5 L282.4,71.2 L282.8,71.0 L283.2,70.7 L283.6,70.5 L284.0,70.2 L284.4,70.0 L284.8,69.8 L285.2,69.7 L285.6,69.5 L286.0,69.3 L286.4,69.2 L286.8,69.1 L287.2,69.0 L287.6,68.9 L288.0,68.8 L288.4,68.7 L288.8,68.7 L289.2,68.7 L289.6,68.6 L290.0,68.6 L290.4,68.6 L290.8,68.7 L291.2,68.7 L291.6,68.8 L292.0,68.8 L292.4,68.9 L292.8,69.0 L293.2,69.2 L293.6,69.3 L294.0,69.5 L294.4,69.7 L294.8,69.9 L295.2,70.1 L295.6,70.3 L296.0,70.6 L296.4,70.9 L296.8,71.2 L297.2,71.5 L297.6,71.8 L298.0,72.2 L298.4,72.6 L298.8,73.0 L299.2,73.4 L299.6,73.8 L300.0,74.3 L300.4,74.8 L300.8,75.3 L301.2,75.9 L301.6,76.4 L302.0,77.0 L302.4,77.6 L302.8,78.2 L303.2,78.9 L303.6,79.5 L304.0,80.2 L304.4,80.9 L304.8,81.6 L305.2,82.3 L305.6,83.0 L306.0,83.8 L306.4,84.5 L306.8,85.3 L307.2,86.1 L307.6,86.9 L308.0,87.7 L308.4,88.5 L308.8,89.3 L309.2,90.2 L309.6,91.1 L310.0,91.9 L310.4,92.8 L310.8,93.8 L311.2,94.7 L311.6,95.6 L312.0,96.6 L312.4,97.6 L312.8,98.6 L313.2,99.7 L313.6,100.7 L314.0,101.8 L314.4,102.9 L314.8,104.0 L315.2,105.2 L315.6,106.4 L316.0,107.6 L316.4,108.8 L316.8,110.1 L317.2,111.4 L317.6,112.8 L318.0,114.2 L318.4,115.7 L318.8,117.2 L319.2,118.7 L319.6,120.3 L320.0,121.9 L320.4,123.6 L320.8,125.4 L321.2,127.2 L321.6,129.1 L322.0,131.0 L322.4,133.0 L322.8,135.0" fill="none" stroke="#9a9a9a" stroke-width="1.15"/>
<circle cx="244.76" cy="128.20" r="1.75" fill="#111"/>
<circle cx="248.40" cy="114.71" r="1.75" fill="#111"/>
<circle cx="252.27" cy="101.23" r="1.75" fill="#111"/>
<circle cx="256.37" cy="87.98" r="1.75" fill="#111"/>
<circle cx="260.94" cy="74.96" r="1.75" fill="#111"/>
<circle cx="265.98" cy="61.95" r="1.75" fill="#111"/>
<circle cx="271.97" cy="49.99" r="1.75" fill="#111"/>
<circle cx="278.77" cy="39.43" r="1.75" fill="#111"/>
<circle cx="291.55" cy="32.51" r="1.75" fill="#111"/>
<circle cx="301.16" cy="39.43" r="1.75" fill="#111"/>
<circle cx="307.96" cy="52.10" r="1.75" fill="#111"/>
<circle cx="312.77" cy="65.46" r="1.75" fill="#111"/>
<circle cx="316.99" cy="79.07" r="1.75" fill="#111"/>
<circle cx="320.39" cy="92.79" r="1.75" fill="#111"/>
<circle cx="323.56" cy="106.51" r="1.75" fill="#111"/>
<circle cx="326.26" cy="120.23" r="1.75" fill="#111"/>
<circle cx="328.95" cy="133.83" r="1.75" fill="#111"/>
<rect x="258.60" y="178.20" width="28.80" height="33.00" fill="none" stroke="#9a9a9a" stroke-width="1.2"/>
<line x1="272.60" y1="178.20" x2="282.24" y2="147.61" stroke="#222" stroke-width="1.4"/>
<polygon points="285.40,137.60 284.41,150.39 278.88,148.65" fill="#111"/>
<path d="M887.60,16.20 V550.20 H1512.20" fill="none" stroke="#1c1c1c" stroke-width="2" stroke-linejoin="miter"/>
<text transform="translate(876.00 556.80) scale(0.95 1.075)" font-size="22" text-anchor="end" fill="#111" stroke="#111" stroke-width="0.22">0.0</text>
<line x1="887.60" y1="443.60" x2="897.10" y2="443.60" stroke="#1c1c1c" stroke-width="2"/>
<text transform="translate(876.00 450.20) scale(0.95 1.075)" font-size="22" text-anchor="end" fill="#111" stroke="#111" stroke-width="0.22">0.5</text>
<line x1="887.60" y1="337.00" x2="897.10" y2="337.00" stroke="#1c1c1c" stroke-width="2"/>
<text transform="translate(876.00 343.60) scale(0.95 1.075)" font-size="22" text-anchor="end" fill="#111" stroke="#111" stroke-width="0.22">1.0</text>
<line x1="887.60" y1="230.40" x2="897.10" y2="230.40" stroke="#1c1c1c" stroke-width="2"/>
<text transform="translate(876.00 237.00) scale(0.95 1.075)" font-size="22" text-anchor="end" fill="#111" stroke="#111" stroke-width="0.22">1.5</text>
<line x1="887.60" y1="123.80" x2="897.10" y2="123.80" stroke="#1c1c1c" stroke-width="2"/>
<text transform="translate(876.00 130.40) scale(0.95 1.075)" font-size="22" text-anchor="end" fill="#111" stroke="#111" stroke-width="0.22">2.0</text>
<line x1="887.60" y1="17.20" x2="897.10" y2="17.20" stroke="#1c1c1c" stroke-width="2"/>
<text transform="translate(876.00 23.80) scale(0.95 1.075)" font-size="22" text-anchor="end" fill="#111" stroke="#111" stroke-width="0.22">2.5</text>
<text transform="translate(887.60 578.80) scale(0.95 1.075)" font-size="22" text-anchor="middle" fill="#111" stroke="#111" stroke-width="0.22">22.0</text>
<line x1="1043.50" y1="550.20" x2="1043.50" y2="540.70" stroke="#1c1c1c" stroke-width="2"/>
<text transform="translate(1043.50 578.80) scale(0.95 1.075)" font-size="22" text-anchor="middle" fill="#111" stroke="#111" stroke-width="0.22">22.5</text>
<line x1="1199.40" y1="550.20" x2="1199.40" y2="540.70" stroke="#1c1c1c" stroke-width="2"/>
<text transform="translate(1199.40 578.80) scale(0.95 1.075)" font-size="22" text-anchor="middle" fill="#111" stroke="#111" stroke-width="0.22">23.0</text>
<line x1="1355.30" y1="550.20" x2="1355.30" y2="540.70" stroke="#1c1c1c" stroke-width="2"/>
<text transform="translate(1355.30 578.80) scale(0.95 1.075)" font-size="22" text-anchor="middle" fill="#111" stroke="#111" stroke-width="0.22">23.5</text>
<line x1="1511.20" y1="550.20" x2="1511.20" y2="540.70" stroke="#1c1c1c" stroke-width="2"/>
<text transform="translate(1511.20 578.80) scale(0.95 1.075)" font-size="22" text-anchor="middle" fill="#111" stroke="#111" stroke-width="0.22">24.0</text>
<text transform="translate(1200.00 620.60) scale(0.98 1.06)" font-size="24" text-anchor="middle" fill="#111" stroke="#111" stroke-width="0.22">Time/s</text>
<text transform="translate(820.90 267.00) rotate(-90) scale(1.057 1.0)" font-size="26.5" text-anchor="middle" fill="#111" stroke="#111" stroke-width="0.22">Current/A</text>
<rect x="918.40" y="28.50" width="159.10" height="65.80" fill="#fff" stroke="#777" stroke-width="1.3" rx="1"/>
<line x1="921.60" y1="46.10" x2="974.30" y2="46.10" stroke="#969696" stroke-width="1.5"/>
<line x1="921.60" y1="76.60" x2="973.30" y2="76.60" stroke="#444" stroke-width="1.5" stroke-dasharray="7.0 5.2"/>
<text transform="translate(981.40 54.60) scale(1.0 1.1)" font-size="23.5" text-anchor="start" fill="#111" stroke="#111" stroke-width="0.22">Measured</text>
<text transform="translate(981.40 85.10) scale(1.0 1.1)" font-size="23.5" text-anchor="start" fill="#111" stroke="#111" stroke-width="0.22">Predicted</text>
<path d="M1164.60,27.00 V134.20 H1281.20" fill="none" stroke="#9a9a9a" stroke-width="1.1"/>
<line x1="1164.60" y1="27.00" x2="1166.80" y2="27.00" stroke="#8c8c8c" stroke-width="1"/>
<text transform="translate(1159.60 32.50) scale(1.0 1.03)" font-size="15" text-anchor="end" fill="#111" stroke="#111" stroke-width="0.08">2.1</text>
<line x1="1164.60" y1="80.90" x2="1166.80" y2="80.90" stroke="#8c8c8c" stroke-width="1"/>
<text transform="translate(1159.60 85.40) scale(1.0 1.03)" font-size="15" text-anchor="end" fill="#111" stroke="#111" stroke-width="0.08">2.0</text>
<line x1="1164.60" y1="134.20" x2="1166.80" y2="134.20" stroke="#8c8c8c" stroke-width="1"/>
<text transform="translate(1159.60 138.90) scale(1.0 1.03)" font-size="15" text-anchor="end" fill="#111" stroke="#111" stroke-width="0.08">1.9</text>
<line x1="1196.70" y1="134.20" x2="1196.70" y2="132.00" stroke="#8c8c8c" stroke-width="1"/>
<text transform="translate(1191.30 150.80) scale(1.0 1.03)" font-size="15" text-anchor="middle" fill="#111" stroke="#111" stroke-width="0.08">23.44</text>
<line x1="1238.80" y1="134.20" x2="1238.80" y2="132.00" stroke="#8c8c8c" stroke-width="1"/>
<text transform="translate(1233.90 150.80) scale(1.0 1.03)" font-size="15" text-anchor="middle" fill="#111" stroke="#111" stroke-width="0.08">23.48</text>
<text transform="translate(1276.10 150.80) scale(1.0 1.03)" font-size="15" text-anchor="middle" fill="#111" stroke="#111" stroke-width="0.08">23.52</text>
<path d="M1179.4,133.9 L1179.8,132.2 L1180.2,130.5 L1180.6,128.8 L1181.0,127.3 L1181.4,125.7 L1181.8,124.2 L1182.2,122.8 L1182.6,121.4 L1183.0,120.0 L1183.4,118.7 L1183.8,117.4 L1184.2,116.1 L1184.6,114.9 L1185.0,113.7 L1185.4,112.6 L1185.8,111.5 L1186.2,110.4 L1186.6,109.4 L1187.0,108.3 L1187.4,107.4 L1187.8,106.4 L1188.2,105.5 L1188.6,104.6 L1189.0,103.7 L1189.4,102.8 L1189.8,102.0 L1190.2,101.2 L1190.6,100.4 L1191.0,99.6 L1191.4,98.9 L1191.8,98.1 L1192.2,97.4 L1192.6,96.7 L1193.0,96.0 L1193.4,95.4 L1193.8,94.7 L1194.2,94.1 L1194.6,93.5 L1195.0,92.9 L1195.4,92.3 L1195.8,91.8 L1196.2,91.2 L1196.6,90.7 L1197.0,90.2 L1197.4,89.7 L1197.8,89.2 L1198.2,88.8 L1198.6,88.4 L1199.0,88.0 L1199.4,87.6 L1199.8,87.2 L1200.2,86.8 L1200.6,86.5 L1201.0,86.2 L1201.4,85.9 L1201.8,85.6 L1202.2,85.3 L1202.6,85.1 L1203.0,84.8 L1203.4,84.6 L1203.8,84.4 L1204.2,84.2 L1204.6,84.0 L1205.0,83.8 L1205.4,83.6 L1205.8,83.5 L1206.2,83.3 L1206.6,83.2 L1207.0,83.0 L1207.4,82.9 L1207.8,82.8 L1208.2,82.7 L1208.6,82.5 L1209.0,82.4 L1209.4,82.3 L1209.8,82.2 L1210.2,82.1 L1210.6,82.0 L1211.0,81.9 L1211.4,81.8 L1211.8,81.8 L1212.2,81.7 L1212.6,81.6 L1213.0,81.5 L1213.4,81.5 L1213.8,81.4 L1214.2,81.3 L1214.6,81.3 L1215.0,81.2 L1215.4,81.1 L1215.8,81.1 L1216.2,81.0 L1216.6,81.0 L1217.0,80.9 L1217.4,80.9 L1217.8,80.8 L1218.2,80.8 L1218.6,80.7 L1219.0,80.7 L1219.4,80.6 L1219.8,80.6 L1220.2,80.5 L1220.6,80.5 L1221.0,80.5 L1221.4,80.4 L1221.8,80.4 L1222.2,80.4 L1222.6,80.4 L1223.0,80.3 L1223.4,80.3 L1223.8,80.3 L1224.2,80.3 L1224.6,80.3 L1225.0,80.3 L1225.4,80.3 L1225.8,80.3 L1226.2,80.3 L1226.6,80.3 L1227.0,80.3 L1227.4,80.3 L1227.8,80.3 L1228.2,80.3 L1228.6,80.3 L1229.0,80.4 L1229.4,80.4 L1229.8,80.4 L1230.2,80.5 L1230.6,80.5 L1231.0,80.5 L1231.4,80.6 L1231.8,80.6 L1232.2,80.7 L1232.6,80.8 L1233.0,80.8 L1233.4,80.9 L1233.8,81.0 L1234.2,81.0 L1234.6,81.1 L1235.0,81.2 L1235.4,81.3 L1235.8,81.4 L1236.2,81.5 L1236.6,81.6 L1237.0,81.8 L1237.4,81.9 L1237.8,82.0 L1238.2,82.2 L1238.6,82.4 L1239.0,82.5 L1239.4,82.7 L1239.8,82.9 L1240.2,83.1 L1240.6,83.4 L1241.0,83.6 L1241.4,83.9 L1241.8,84.2 L1242.2,84.4 L1242.6,84.8 L1243.0,85.1 L1243.4,85.4 L1243.8,85.8 L1244.2,86.2 L1244.6,86.6 L1245.0,87.0 L1245.4,87.4 L1245.8,87.9 L1246.2,88.4 L1246.6,88.9 L1247.0,89.4 L1247.4,89.9 L1247.8,90.5 L1248.2,91.1 L1248.6,91.7 L1249.0,92.3 L1249.4,93.0 L1249.8,93.7 L1250.2,94.3 L1250.6,95.0 L1251.0,95.8 L1251.4,96.5 L1251.8,97.2 L1252.2,98.0 L1252.6,98.7 L1253.0,99.5 L1253.4,100.3 L1253.8,101.1 L1254.2,101.9 L1254.6,102.7 L1255.0,103.5 L1255.4,104.3 L1255.8,105.2 L1256.2,106.0 L1256.6,106.8 L1257.0,107.7 L1257.4,108.6 L1257.8,109.5 L1258.2,110.4 L1258.6,111.3 L1259.0,112.3 L1259.4,113.2 L1259.8,114.2 L1260.2,115.2 L1260.6,116.2 L1261.0,117.3 L1261.4,118.4 L1261.8,119.5 L1262.2,120.6 L1262.6,121.7 L1263.0,122.9 L1263.4,124.1 L1263.8,125.4 L1264.2,126.6 L1264.6,128.0 L1265.0,129.3 L1265.4,130.7 L1265.8,132.1 L1266.2,133.5" fill="none" stroke="#9a9a9a" stroke-width="1.15"/>
<circle cx="1177.37" cy="131.86" r="1.75" fill="#111"/>
<circle cx="1180.59" cy="118.45" r="1.75" fill="#111"/>
<circle cx="1184.15" cy="105.04" r="1.75" fill="#111"/>
<circle cx="1188.23" cy="91.81" r="1.75" fill="#111"/>
<circle cx="1192.47" cy="78.74" r="1.75" fill="#111"/>
<circle cx="1197.39" cy="65.67" r="1.75" fill="#111"/>
<circle cx="1202.65" cy="53.62" r="1.75" fill="#111"/>
<circle cx="1209.10" cy="42.25" r="1.75" fill="#111"/>
<circle cx="1220.48" cy="31.72" r="1.75" fill="#111"/>
<circle cx="1232.53" cy="33.08" r="1.75" fill="#111"/>
<circle cx="1242.20" cy="44.45" r="1.75" fill="#111"/>
<circle cx="1248.31" cy="56.84" r="1.75" fill="#111"/>
<circle cx="1253.23" cy="70.25" r="1.75" fill="#111"/>
<circle cx="1257.30" cy="83.66" r="1.75" fill="#111"/>
<circle cx="1261.04" cy="97.24" r="1.75" fill="#111"/>
<circle cx="1264.26" cy="110.64" r="1.75" fill="#111"/>
<circle cx="1267.15" cy="124.56" r="1.75" fill="#111"/>
<rect x="1324.60" y="98.40" width="40.20" height="46.70" fill="none" stroke="#555" stroke-width="1.2"/>
<line x1="1324.20" y1="122.40" x2="1288.98" y2="115.12" stroke="#3a3a3a" stroke-width="1.0"/>
<polygon points="1278.70,113.00 1291.53,112.69 1290.35,118.37" fill="#111"/>
<path d="M112.90,687.30 V1220.60 H714.20" fill="none" stroke="#1c1c1c" stroke-width="2" stroke-linejoin="miter"/>
<text transform="translate(103.00 1227.50) scale(0.95 1.075)" font-size="22" text-anchor="end" fill="#111" stroke="#111" stroke-width="0.22">-3000</text>
<line x1="112.90" y1="1131.88" x2="122.40" y2="1131.88" stroke="#1c1c1c" stroke-width="2"/>
<text transform="translate(103.00 1138.78) scale(0.95 1.075)" font-size="22" text-anchor="end" fill="#111" stroke="#111" stroke-width="0.22">-2000</text>
<line x1="112.90" y1="1043.17" x2="122.40" y2="1043.17" stroke="#1c1c1c" stroke-width="2"/>
<text transform="translate(103.00 1050.07) scale(0.95 1.075)" font-size="22" text-anchor="end" fill="#111" stroke="#111" stroke-width="0.22">-1000</text>
<line x1="112.90" y1="954.45" x2="122.40" y2="954.45" stroke="#1c1c1c" stroke-width="2"/>
<text transform="translate(103.00 961.35) scale(0.95 1.075)" font-size="22" text-anchor="end" fill="#111" stroke="#111" stroke-width="0.22">0</text>
<line x1="112.90" y1="865.73" x2="122.40" y2="865.73" stroke="#1c1c1c" stroke-width="2"/>
<text transform="translate(103.00 872.63) scale(0.95 1.075)" font-size="22" text-anchor="end" fill="#111" stroke="#111" stroke-width="0.22">1000</text>
<line x1="112.90" y1="777.02" x2="122.40" y2="777.02" stroke="#1c1c1c" stroke-width="2"/>
<text transform="translate(103.00 783.92) scale(0.95 1.075)" font-size="22" text-anchor="end" fill="#111" stroke="#111" stroke-width="0.22">2000</text>
<line x1="112.90" y1="688.30" x2="122.40" y2="688.30" stroke="#1c1c1c" stroke-width="2"/>
<text transform="translate(103.00 695.20) scale(0.95 1.075)" font-size="22" text-anchor="end" fill="#111" stroke="#111" stroke-width="0.22">3000</text>
<text transform="translate(112.90 1249.60) scale(0.95 1.075)" font-size="22" text-anchor="middle" fill="#111" stroke="#111" stroke-width="0.22">8.0</text>
<line x1="262.98" y1="1220.60" x2="262.98" y2="1211.10" stroke="#1c1c1c" stroke-width="2"/>
<text transform="translate(262.98 1249.60) scale(0.95 1.075)" font-size="22" text-anchor="middle" fill="#111" stroke="#111" stroke-width="0.22">8.5</text>
<line x1="413.05" y1="1220.60" x2="413.05" y2="1211.10" stroke="#1c1c1c" stroke-width="2"/>
<text transform="translate(413.05 1249.60) scale(0.95 1.075)" font-size="22" text-anchor="middle" fill="#111" stroke="#111" stroke-width="0.22">9.0</text>
<line x1="563.12" y1="1220.60" x2="563.12" y2="1211.10" stroke="#1c1c1c" stroke-width="2"/>
<text transform="translate(563.12 1249.60) scale(0.95 1.075)" font-size="22" text-anchor="middle" fill="#111" stroke="#111" stroke-width="0.22">9.5</text>
<line x1="713.20" y1="1220.60" x2="713.20" y2="1211.10" stroke="#1c1c1c" stroke-width="2"/>
<text transform="translate(713.20 1249.60) scale(0.95 1.075)" font-size="22" text-anchor="middle" fill="#111" stroke="#111" stroke-width="0.22">10.0</text>
<text transform="translate(413.50 1291.10) scale(0.95 1.03)" font-size="24" text-anchor="middle" fill="#111" stroke="#111" stroke-width="0.22">Time/s</text>
<text transform="translate(26.20 935.50) rotate(-90) scale(1.075 1.0)" font-size="25.5" text-anchor="middle" fill="#111" stroke="#111" stroke-width="0.22">Damping force/N</text>
<rect x="490.40" y="719.50" width="152.90" height="65.60" fill="#fff" stroke="#777" stroke-width="1.2" rx="1"/>
<line x1="493.40" y1="737.30" x2="545.20" y2="737.30" stroke="#707070" stroke-width="1.25"/>
<line x1="491.00" y1="767.50" x2="544.20" y2="767.50" stroke="#444" stroke-width="1.5" stroke-dasharray="6.6 4.8"/>
<text transform="translate(550.20 745.80) scale(0.975 1.1)" font-size="23.5" text-anchor="start" fill="#111" stroke="#111" stroke-width="0.22">Measured</text>
<text transform="translate(550.20 776.00) scale(0.975 1.1)" font-size="23.5" text-anchor="start" fill="#111" stroke="#111" stroke-width="0.22">Predicted</text>
<path d="M280.60,697.80 V804.40 H393.40" fill="none" stroke="#9a9a9a" stroke-width="1.1"/>
<line x1="280.60" y1="698.30" x2="282.80" y2="698.30" stroke="#8c8c8c" stroke-width="1"/>
<text transform="translate(278.20 705.40) scale(1.0 1.03)" font-size="15" text-anchor="end" fill="#111" stroke="#111" stroke-width="0.08">950</text>
<line x1="280.60" y1="754.20" x2="282.80" y2="754.20" stroke="#8c8c8c" stroke-width="1"/>
<text transform="translate(278.20 760.50) scale(1.0 1.03)" font-size="15" text-anchor="end" fill="#111" stroke="#111" stroke-width="0.08">850</text>
<text transform="translate(277.70 821.60) scale(1.0 1.03)" font-size="15" text-anchor="middle" fill="#111" stroke="#111" stroke-width="0.08">8.70</text>
<line x1="336.50" y1="804.40" x2="336.50" y2="802.20" stroke="#8c8c8c" stroke-width="1"/>
<text transform="translate(333.20 821.60) scale(1.0 1.03)" font-size="15" text-anchor="middle" fill="#111" stroke="#111" stroke-width="0.08">8.71</text>
<text transform="translate(390.00 821.60) scale(1.0 1.03)" font-size="15" text-anchor="middle" fill="#111" stroke="#111" stroke-width="0.08">8.72</text>
<path d="M298.4,804.4 L298.8,802.8 L299.2,801.3 L299.6,799.7 L300.0,798.2 L300.4,796.7 L300.8,795.2 L301.2,793.8 L301.6,792.3 L302.0,790.9 L302.4,789.5 L302.8,788.1 L303.2,786.7 L303.6,785.4 L304.0,784.0 L304.4,782.7 L304.8,781.4 L305.2,780.1 L305.6,778.9 L306.0,777.6 L306.4,776.4 L306.8,775.2 L307.2,774.0 L307.6,772.8 L308.0,771.6 L308.4,770.5 L308.8,769.4 L309.2,768.2 L309.6,767.1 L310.0,766.1 L310.4,765.0 L310.8,763.9 L311.2,762.9 L311.6,761.9 L312.0,760.9 L312.4,759.9 L312.8,758.9 L313.2,757.9 L313.6,757.0 L314.0,756.1 L314.4,755.1 L314.8,754.3 L315.2,753.4 L315.6,752.5 L316.0,751.7 L316.4,750.8 L316.8,750.0 L317.2,749.2 L317.6,748.4 L318.0,747.7 L318.4,746.9 L318.8,746.2 L319.2,745.5 L319.6,744.8 L320.0,744.1 L320.4,743.4 L320.8,742.7 L321.2,742.1 L321.6,741.5 L322.0,740.9 L322.4,740.3 L322.8,739.7 L323.2,739.2 L323.6,738.6 L324.0,738.1 L324.4,737.6 L324.8,737.1 L325.2,736.6 L325.6,736.2 L326.0,735.7 L326.4,735.3 L326.8,734.9 L327.2,734.5 L327.6,734.2 L328.0,733.8 L328.4,733.5 L328.8,733.2 L329.2,732.9 L329.6,732.7 L330.0,732.4 L330.4,732.2 L330.8,732.0 L331.2,731.9 L331.6,731.7 L332.0,731.6 L332.4,731.5 L332.8,731.4 L333.2,731.3 L333.6,731.3 L334.0,731.3 L334.4,731.3 L334.8,731.3 L335.2,731.4 L335.6,731.4 L336.0,731.5 L336.4,731.7 L336.8,731.8 L337.2,732.0 L337.6,732.2 L338.0,732.4 L338.4,732.6 L338.8,732.9 L339.2,733.2 L339.6,733.5 L340.0,733.8 L340.4,734.1 L340.8,734.5 L341.2,734.9 L341.6,735.3 L342.0,735.8 L342.4,736.2 L342.8,736.7 L343.2,737.2 L343.6,737.7 L344.0,738.2 L344.4,738.8 L344.8,739.4 L345.2,740.0 L345.6,740.6 L346.0,741.2 L346.4,741.9 L346.8,742.6 L347.2,743.3 L347.6,744.0 L348.0,744.7 L348.4,745.5 L348.8,746.3 L349.2,747.1 L349.6,747.9 L350.0,748.8 L350.4,749.6 L350.8,750.5 L351.2,751.4 L351.6,752.4 L352.0,753.3 L352.4,754.3 L352.8,755.3 L353.2,756.3 L353.6,757.3 L354.0,758.3 L354.4,759.4 L354.8,760.5 L355.2,761.6 L355.6,762.7 L356.0,763.8 L356.4,764.9 L356.8,766.1 L357.2,767.3 L357.6,768.5 L358.0,769.7 L358.4,770.9 L358.8,772.1 L359.2,773.3 L359.6,774.6 L360.0,775.8 L360.4,777.1 L360.8,778.4 L361.2,779.7 L361.6,781.1 L362.0,782.4 L362.4,783.8 L362.8,785.2 L363.2,786.6 L363.6,788.1 L364.0,789.6 L364.4,791.1 L364.8,792.6 L365.2,794.1 L365.6,795.7 L366.0,797.3 L366.4,799.0 L366.8,800.7 L367.2,802.4 L367.6,804.2" fill="none" stroke="#9a9a9a" stroke-width="1.15"/>
<circle cx="292.44" cy="795.94" r="1.75" fill="#111"/>
<circle cx="295.49" cy="782.36" r="1.75" fill="#111"/>
<circle cx="298.89" cy="768.95" r="1.75" fill="#111"/>
<circle cx="302.62" cy="755.71" r="1.75" fill="#111"/>
<circle cx="306.53" cy="742.47" r="1.75" fill="#111"/>
<circle cx="311.11" cy="729.74" r="1.75" fill="#111"/>
<circle cx="316.37" cy="717.18" r="1.75" fill="#111"/>
<circle cx="322.82" cy="706.31" r="1.75" fill="#111"/>
<circle cx="334.20" cy="700.37" r="1.75" fill="#111"/>
<circle cx="343.19" cy="707.50" r="1.75" fill="#111"/>
<circle cx="349.98" cy="720.23" r="1.75" fill="#111"/>
<circle cx="355.08" cy="733.30" r="1.75" fill="#111"/>
<circle cx="359.49" cy="746.54" r="1.75" fill="#111"/>
<circle cx="363.39" cy="759.95" r="1.75" fill="#111"/>
<circle cx="366.62" cy="773.53" r="1.75" fill="#111"/>
<circle cx="369.84" cy="787.11" r="1.75" fill="#111"/>
<circle cx="372.90" cy="800.86" r="1.75" fill="#111"/>
<rect x="311.50" y="864.50" width="27.10" height="28.00" fill="none" stroke="#888" stroke-width="1.2"/>
<line x1="325.50" y1="864.20" x2="310.06" y2="815.31" stroke="#2a2a2a" stroke-width="1.2"/>
<polygon points="306.90,805.30 313.43,816.35 307.90,818.09" fill="#111"/>
<path d="M911.90,687.30 V1220.60 H1512.50" fill="none" stroke="#1c1c1c" stroke-width="2" stroke-linejoin="miter"/>
<text transform="translate(901.00 1227.20) scale(0.95 1.075)" font-size="22" text-anchor="end" fill="#111" stroke="#111" stroke-width="0.22">-3000</text>
<line x1="911.90" y1="1131.88" x2="921.40" y2="1131.88" stroke="#1c1c1c" stroke-width="2"/>
<text transform="translate(901.00 1138.48) scale(0.95 1.075)" font-size="22" text-anchor="end" fill="#111" stroke="#111" stroke-width="0.22">-2000</text>
<line x1="911.90" y1="1043.17" x2="921.40" y2="1043.17" stroke="#1c1c1c" stroke-width="2"/>
<text transform="translate(901.00 1049.77) scale(0.95 1.075)" font-size="22" text-anchor="end" fill="#111" stroke="#111" stroke-width="0.22">-1000</text>
<line x1="911.90" y1="954.45" x2="921.40" y2="954.45" stroke="#1c1c1c" stroke-width="2"/>
<text transform="translate(901.00 961.05) scale(0.95 1.075)" font-size="22" text-anchor="end" fill="#111" stroke="#111" stroke-width="0.22">0</text>
<line x1="911.90" y1="865.73" x2="921.40" y2="865.73" stroke="#1c1c1c" stroke-width="2"/>
<text transform="translate(901.00 872.33) scale(0.95 1.075)" font-size="22" text-anchor="end" fill="#111" stroke="#111" stroke-width="0.22">1000</text>
<line x1="911.90" y1="777.02" x2="921.40" y2="777.02" stroke="#1c1c1c" stroke-width="2"/>
<text transform="translate(901.00 783.62) scale(0.95 1.075)" font-size="22" text-anchor="end" fill="#111" stroke="#111" stroke-width="0.22">2000</text>
<line x1="911.90" y1="688.30" x2="921.40" y2="688.30" stroke="#1c1c1c" stroke-width="2"/>
<text transform="translate(901.00 694.90) scale(0.95 1.075)" font-size="22" text-anchor="end" fill="#111" stroke="#111" stroke-width="0.22">3000</text>
<text transform="translate(911.90 1249.70) scale(0.95 1.075)" font-size="22" text-anchor="middle" fill="#111" stroke="#111" stroke-width="0.22">22.0</text>
<line x1="1061.80" y1="1220.60" x2="1061.80" y2="1211.10" stroke="#1c1c1c" stroke-width="2"/>
<text transform="translate(1061.80 1249.70) scale(0.95 1.075)" font-size="22" text-anchor="middle" fill="#111" stroke="#111" stroke-width="0.22">22.5</text>
<line x1="1211.70" y1="1220.60" x2="1211.70" y2="1211.10" stroke="#1c1c1c" stroke-width="2"/>
<text transform="translate(1211.70 1249.70) scale(0.95 1.075)" font-size="22" text-anchor="middle" fill="#111" stroke="#111" stroke-width="0.22">23.0</text>
<line x1="1361.60" y1="1220.60" x2="1361.60" y2="1211.10" stroke="#1c1c1c" stroke-width="2"/>
<text transform="translate(1361.60 1249.70) scale(0.95 1.075)" font-size="22" text-anchor="middle" fill="#111" stroke="#111" stroke-width="0.22">23.5</text>
<line x1="1511.50" y1="1220.60" x2="1511.50" y2="1211.10" stroke="#1c1c1c" stroke-width="2"/>
<text transform="translate(1511.50 1249.70) scale(0.95 1.075)" font-size="22" text-anchor="middle" fill="#111" stroke="#111" stroke-width="0.22">24.0</text>
<text transform="translate(1212.30 1291.10) scale(0.95 1.03)" font-size="24" text-anchor="middle" fill="#111" stroke="#111" stroke-width="0.22">Time/s</text>
<text transform="translate(825.00 935.50) rotate(-90) scale(1.075 1.0)" font-size="25.5" text-anchor="middle" fill="#111" stroke="#111" stroke-width="0.22">Damping force/N</text>
<rect x="935.60" y="705.30" width="152.80" height="66.50" fill="#fff" stroke="#666" stroke-width="1.1" rx="0"/>
<line x1="938.50" y1="723.10" x2="989.30" y2="723.10" stroke="#969696" stroke-width="1.5"/>
<line x1="937.50" y1="753.40" x2="988.30" y2="753.40" stroke="#444" stroke-width="1.5" stroke-dasharray="6.6 3.6"/>
<text transform="translate(995.00 731.60) scale(0.975 1.1)" font-size="23.5" text-anchor="start" fill="#111" stroke="#111" stroke-width="0.22">Measured</text>
<text transform="translate(995.00 761.90) scale(0.975 1.1)" font-size="23.5" text-anchor="start" fill="#111" stroke="#111" stroke-width="0.22">Predicted</text>
<path d="M1168.90,697.80 V803.20 H1279.90" fill="none" stroke="#9a9a9a" stroke-width="1.1"/>
<line x1="1168.90" y1="698.30" x2="1171.10" y2="698.30" stroke="#8c8c8c" stroke-width="1"/>
<text transform="translate(1165.90 703.70) scale(1.0 1.03)" font-size="15" text-anchor="end" fill="#111" stroke="#111" stroke-width="0.08">2050</text>
<line x1="1168.90" y1="746.20" x2="1171.10" y2="746.20" stroke="#8c8c8c" stroke-width="1"/>
<text transform="translate(1165.90 751.20) scale(1.0 1.03)" font-size="15" text-anchor="end" fill="#111" stroke="#111" stroke-width="0.08">1950</text>
<line x1="1168.90" y1="793.70" x2="1171.10" y2="793.70" stroke="#8c8c8c" stroke-width="1"/>
<text transform="translate(1165.90 798.70) scale(1.0 1.03)" font-size="15" text-anchor="end" fill="#111" stroke="#111" stroke-width="0.08">1850</text>
<text transform="translate(1190.30 820.80) scale(1.0 1.03)" font-size="15" text-anchor="middle" fill="#111" stroke="#111" stroke-width="0.08">23.44</text>
<text transform="translate(1273.80 820.80) scale(1.0 1.03)" font-size="15" text-anchor="middle" fill="#111" stroke="#111" stroke-width="0.08">23.47</text>
<path d="M1197.2,803.2 L1197.6,801.2 L1198.0,799.3 L1198.4,797.5 L1198.8,795.7 L1199.2,794.0 L1199.6,792.4 L1200.0,790.9 L1200.4,789.3 L1200.8,787.9 L1201.2,786.5 L1201.6,785.1 L1202.0,783.8 L1202.4,782.5 L1202.8,781.2 L1203.2,779.9 L1203.6,778.7 L1204.0,777.5 L1204.4,776.3 L1204.8,775.2 L1205.2,774.0 L1205.6,772.8 L1206.0,771.7 L1206.4,770.5 L1206.8,769.4 L1207.2,768.3 L1207.6,767.2 L1208.0,766.2 L1208.4,765.1 L1208.8,764.1 L1209.2,763.1 L1209.6,762.2 L1210.0,761.3 L1210.4,760.4 L1210.8,759.6 L1211.2,758.8 L1211.6,758.1 L1212.0,757.4 L1212.4,756.7 L1212.8,756.0 L1213.2,755.4 L1213.6,754.8 L1214.0,754.3 L1214.4,753.7 L1214.8,753.2 L1215.2,752.8 L1215.6,752.3 L1216.0,751.9 L1216.4,751.5 L1216.8,751.1 L1217.2,750.8 L1217.6,750.5 L1218.0,750.2 L1218.4,750.0 L1218.8,749.8 L1219.2,749.6 L1219.6,749.5 L1220.0,749.4 L1220.4,749.3 L1220.8,749.2 L1221.2,749.3 L1221.6,749.3 L1222.0,749.4 L1222.4,749.5 L1222.8,749.6 L1223.2,749.8 L1223.6,750.0 L1224.0,750.3 L1224.4,750.5 L1224.8,750.9 L1225.2,751.2 L1225.6,751.6 L1226.0,751.9 L1226.4,752.4 L1226.8,752.8 L1227.2,753.3 L1227.6,753.8 L1228.0,754.3 L1228.4,754.8 L1228.8,755.4 L1229.2,756.0 L1229.6,756.6 L1230.0,757.3 L1230.4,758.0 L1230.8,758.7 L1231.2,759.5 L1231.6,760.3 L1232.0,761.2 L1232.4,762.1 L1232.8,763.1 L1233.2,764.1 L1233.6,765.1 L1234.0,766.2 L1234.4,767.3 L1234.8,768.5 L1235.2,769.7 L1235.6,770.9 L1236.0,772.1 L1236.4,773.4 L1236.8,774.7 L1237.2,776.0 L1237.6,777.3 L1238.0,778.7 L1238.4,780.0 L1238.8,781.3 L1239.2,782.7 L1239.6,784.1 L1240.0,785.5 L1240.4,786.9 L1240.8,788.3 L1241.2,789.7 L1241.6,791.2 L1242.0,792.6 L1242.4,794.1 L1242.8,795.6 L1243.2,797.1 L1243.6,798.7 L1244.0,800.3 L1244.4,801.9" fill="none" stroke="#9a9a9a" stroke-width="1.15"/>
<circle cx="1190.94" cy="802.20" r="1.75" fill="#111"/>
<circle cx="1193.32" cy="789.13" r="1.75" fill="#111"/>
<circle cx="1195.70" cy="775.72" r="1.75" fill="#111"/>
<circle cx="1198.41" cy="762.15" r="1.75" fill="#111"/>
<circle cx="1201.30" cy="748.57" r="1.75" fill="#111"/>
<circle cx="1204.86" cy="735.16" r="1.75" fill="#111"/>
<circle cx="1208.76" cy="721.92" r="1.75" fill="#111"/>
<circle cx="1214.03" cy="709.87" r="1.75" fill="#111"/>
<circle cx="1225.06" cy="700.88" r="1.75" fill="#111"/>
<circle cx="1233.88" cy="711.40" r="1.75" fill="#111"/>
<circle cx="1238.97" cy="724.81" r="1.75" fill="#111"/>
<circle cx="1243.05" cy="738.21" r="1.75" fill="#111"/>
<circle cx="1245.93" cy="751.79" r="1.75" fill="#111"/>
<circle cx="1248.82" cy="765.37" r="1.75" fill="#111"/>
<circle cx="1251.53" cy="778.95" r="1.75" fill="#111"/>
<circle cx="1253.91" cy="792.86" r="1.75" fill="#111"/>
<rect x="1332.40" y="767.60" width="28.20" height="26.80" fill="none" stroke="#4a4a4a" stroke-width="1.2"/>
<line x1="1332.50" y1="779.30" x2="1282.92" y2="765.51" stroke="#333" stroke-width="1.1"/>
<polygon points="1272.80,762.70 1285.62,763.25 1284.07,768.84" fill="#111"/>
<text transform="translate(5.20 30.00)" font-size="34" text-anchor="start" fill="#000" font-family='"Liberation Sans", Arial, sans-serif' font-weight="bold">A</text>
<text transform="translate(6.50 647.20) scale(0.95 1.0)" font-size="34" text-anchor="start" fill="#000" font-family='"Liberation Sans", Arial, sans-serif' font-weight="bold">B</text>
</svg>
</body></html>
